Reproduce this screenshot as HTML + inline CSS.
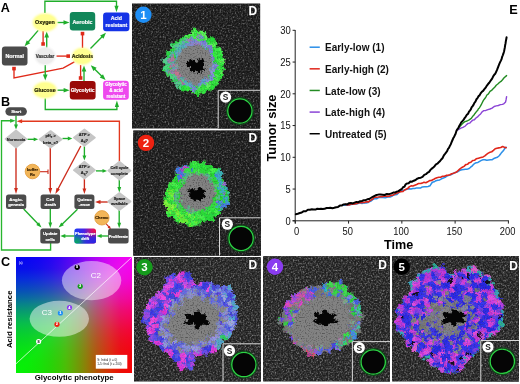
<!DOCTYPE html>
<html><head><meta charset="utf-8"><title>Figure</title>
<style>
html,body{margin:0;padding:0;background:#fff;}
body{width:520px;height:384px;overflow:hidden;position:relative;font-family:"Liberation Sans",Arial,sans-serif;}
svg{position:absolute;left:0;top:0;display:block;}
svg text{font-family:"Liberation Sans",Arial,sans-serif;}
#grad{position:absolute;left:16px;top:257px;width:115.7px;height:115.6px;background:#000;isolation:isolate;overflow:hidden;}
#grad div{position:absolute;left:0;top:0;width:100%;height:100%;}
#grad .r{background:linear-gradient(to right,rgb(5,0,0) 0.0%,rgb(9,0,0) 10.0%,rgb(20,0,0) 20.0%,rgb(38,0,0) 30.0%,rgb(59,0,0) 38.0%,rgb(90,0,0) 47.0%,rgb(118,0,0) 55.0%,rgb(158,0,0) 64.0%,rgb(191,0,0) 73.0%,rgb(220,0,0) 81.5%,rgb(235,0,0) 90.0%,rgb(245,0,0) 100.0%);mix-blend-mode:screen;}
#grad .b{background:linear-gradient(to top,rgb(0,0,5) 0.0%,rgb(0,0,9) 10.0%,rgb(0,0,20) 20.0%,rgb(0,0,38) 30.0%,rgb(0,0,59) 38.0%,rgb(0,0,90) 47.0%,rgb(0,0,118) 55.0%,rgb(0,0,158) 64.0%,rgb(0,0,191) 73.0%,rgb(0,0,220) 81.5%,rgb(0,0,235) 90.0%,rgb(0,0,245) 100.0%);mix-blend-mode:screen;}
#grad .g{isolation:isolate;mix-blend-mode:screen;}
#grad .g1{background:linear-gradient(to right,rgb(0,242,0) 0.0%,rgb(0,237,0) 10.0%,rgb(0,227,0) 20.0%,rgb(0,212,0) 30.0%,rgb(0,199,0) 38.0%,rgb(0,189,0) 43.0%,rgb(0,166,0) 50.0%,rgb(0,148,0) 55.0%,rgb(0,128,0) 60.0%,rgb(0,105,0) 65.0%,rgb(0,84,0) 70.0%,rgb(0,66,0) 75.0%,rgb(0,43,0) 81.5%,rgb(0,15,0) 90.0%,rgb(0,3,0) 100.0%);}
#grad .g2{background:linear-gradient(to top,rgb(0,242,0) 0.0%,rgb(0,237,0) 10.0%,rgb(0,227,0) 20.0%,rgb(0,212,0) 30.0%,rgb(0,199,0) 38.0%,rgb(0,189,0) 43.0%,rgb(0,166,0) 50.0%,rgb(0,148,0) 55.0%,rgb(0,128,0) 60.0%,rgb(0,105,0) 65.0%,rgb(0,84,0) 70.0%,rgb(0,66,0) 75.0%,rgb(0,43,0) 81.5%,rgb(0,15,0) 90.0%,rgb(0,3,0) 100.0%);mix-blend-mode:darken;}
</style></head><body>
<div id="grad"><div class="r"></div><div class="b"></div><div class="g"><div class="g1"></div><div class="g2"></div></div></div>
<svg width="520" height="384" viewBox="0 0 520 384">
<defs>
<filter id="soft" x="-10%" y="-10%" width="120%" height="120%"><feGaussianBlur stdDeviation="0.45"/></filter>
<filter id="glow" x="-20%" y="-20%" width="140%" height="140%"><feGaussianBlur stdDeviation="1.1"/></filter>
<filter id="speckA" x="0" y="0" width="100%" height="100%" color-interpolation-filters="sRGB">
<feTurbulence type="fractalNoise" baseFrequency="0.6" numOctaves="2" seed="4" result="n"/>
<feColorMatrix in="n" type="matrix" values="1 0 0 0 0  1 0 0 0 0  1 0 0 0 0  0 0 0 0 1"/>
<feComponentTransfer><feFuncR type="table" tableValues="0.085 0.085 0.1 0.19 0.38 0.55"/><feFuncG type="table" tableValues="0.085 0.085 0.1 0.19 0.38 0.55"/><feFuncB type="table" tableValues="0.085 0.085 0.1 0.19 0.38 0.55"/></feComponentTransfer>
<feComposite in2="SourceGraphic" operator="in"/>
</filter>
<filter id="speckB" x="0" y="0" width="100%" height="100%" color-interpolation-filters="sRGB">
<feTurbulence type="fractalNoise" baseFrequency="0.6" numOctaves="2" seed="9" result="n"/>
<feColorMatrix in="n" type="matrix" values="1 0 0 0 0  1 0 0 0 0  1 0 0 0 0  0 0 0 0 1"/>
<feComponentTransfer><feFuncR type="table" tableValues="0.11 0.11 0.135 0.25 0.45 0.62"/><feFuncG type="table" tableValues="0.11 0.11 0.135 0.25 0.45 0.62"/><feFuncB type="table" tableValues="0.11 0.11 0.135 0.25 0.45 0.62"/></feComponentTransfer>
<feComposite in2="SourceGraphic" operator="in"/>
</filter>
<filter id="tum" x="-15%" y="-15%" width="130%" height="130%" color-interpolation-filters="sRGB">
<feTurbulence type="fractalNoise" baseFrequency="0.16" numOctaves="2" seed="7" result="w"/>
<feDisplacementMap in="SourceGraphic" in2="w" scale="7" xChannelSelector="R" yChannelSelector="G" result="d0"/>
<feTurbulence type="fractalNoise" baseFrequency="0.55" numOctaves="1" seed="2" result="w2"/>
<feDisplacementMap in="d0" in2="w2" scale="3.2" xChannelSelector="G" yChannelSelector="B" result="d"/>
<feTurbulence type="fractalNoise" baseFrequency="0.7" numOctaves="1" seed="11" result="g"/>
<feColorMatrix in="g" type="matrix" values="1.0 0 0 0 0.5  0 1.0 0 0 0.5  0 0 1.0 0 0.5  0 0 0 0 1" result="g2"/>
<feComposite in="d" in2="g2" operator="arithmetic" k1="1" k2="0" k3="0" k4="0"/>
</filter>
<filter id="tumg" x="-15%" y="-15%" width="130%" height="130%" color-interpolation-filters="sRGB">
<feTurbulence type="fractalNoise" baseFrequency="0.16" numOctaves="2" seed="7" result="w"/>
<feDisplacementMap in="SourceGraphic" in2="w" scale="7" xChannelSelector="R" yChannelSelector="G" result="d0"/>
<feTurbulence type="fractalNoise" baseFrequency="0.55" numOctaves="1" seed="2" result="w2"/>
<feDisplacementMap in="d0" in2="w2" scale="3.2" xChannelSelector="G" yChannelSelector="B" result="d"/>
<feTurbulence type="fractalNoise" baseFrequency="0.75" numOctaves="1" seed="5" result="g"/>
<feColorMatrix in="g" type="matrix" values="1.3 0 0 0 0.36  1.3 0 0 0 0.36  1.3 0 0 0 0.36  0 0 0 0 1" result="g2"/>
<feComposite in="d" in2="g2" operator="arithmetic" k1="1" k2="0" k3="0" k4="0"/>
</filter>
<filter id="corefx" x="-15%" y="-15%" width="130%" height="130%" color-interpolation-filters="sRGB">
<feTurbulence type="fractalNoise" baseFrequency="0.3" numOctaves="2" seed="3" result="w"/>
<feDisplacementMap in="SourceGraphic" in2="w" scale="5" xChannelSelector="R" yChannelSelector="G"/>
</filter>
<linearGradient id="pdrift" x1="0" y1="0" x2="1" y2="0"><stop offset="0" stop-color="#1a3cf5"/><stop offset="0.45" stop-color="#4a22e6"/><stop offset="0.8" stop-color="#d01470"/><stop offset="1" stop-color="#f01048"/></linearGradient>
<radialGradient id="pdrift2" cx="0" cy="1" r="0.75"><stop offset="0" stop-color="#00b050" stop-opacity="1"/><stop offset="0.45" stop-color="#08a070" stop-opacity="0.8"/><stop offset="1" stop-color="#1080a0" stop-opacity="0"/></radialGradient>
<radialGradient id="pdrift3" cx="1" cy="1" r="0.8"><stop offset="0" stop-color="#1c28ec" stop-opacity="1"/><stop offset="0.5" stop-color="#2428ec" stop-opacity="0.85"/><stop offset="1" stop-color="#3020e8" stop-opacity="0"/></radialGradient>
</defs>

<g id="panelA">
<text x="0.80" y="12.00" font-size="12.6" font-weight="bold" fill="#000" text-anchor="start" >A</text>
<polyline points="44.90,13.00 44.90,1.30 116.50,1.30 116.50,7.75" fill="none" stroke="#1fae2a" stroke-width="1.35" stroke-linejoin="miter"/><polygon points="116.50,12.30 114.40,5.80 118.60,5.80" fill="#1fae2a"/>
<polyline points="38.20,30.40 27.34,43.02" fill="none" stroke="#1fae2a" stroke-width="1.35" stroke-linejoin="miter"/><polygon points="24.60,46.20 26.77,40.15 30.26,43.15" fill="#1fae2a"/>
<polyline points="43.10,31.00 43.10,44.00" fill="none" stroke="#e02a1a" stroke-width="1.35" stroke-linejoin="miter"/><rect x="41.30" y="42.20" width="3.6" height="3.6" fill="#e02a1a"/>
<polyline points="46.70,47.50 46.70,35.80" fill="none" stroke="#1fae2a" stroke-width="1.35" stroke-linejoin="miter"/><polygon points="46.70,31.60 49.00,37.60 44.40,37.60" fill="#1fae2a"/>
<polyline points="57.50,22.50 65.30,22.50" fill="none" stroke="#1fae2a" stroke-width="1.35" stroke-linejoin="miter"/><polygon points="69.50,22.50 63.50,24.80 63.50,20.20" fill="#1fae2a"/>
<polyline points="82.50,48.00 82.50,33.60" fill="none" stroke="#e02a1a" stroke-width="1.35" stroke-linejoin="miter"/><rect x="80.70" y="31.80" width="3.6" height="3.6" fill="#e02a1a"/>
<polyline points="90.50,48.50 103.05,35.79" fill="none" stroke="#1fae2a" stroke-width="1.35" stroke-linejoin="miter"/><polygon points="106.00,32.80 103.42,38.69 100.15,35.45" fill="#1fae2a"/>
<polyline points="56.50,56.10 68.20,56.10" fill="none" stroke="#e02a1a" stroke-width="1.35" stroke-linejoin="miter"/><rect x="66.40" y="54.30" width="3.6" height="3.6" fill="#e02a1a"/>
<polyline points="74.40,61.90 63.10,68.10 14.00,78.00 14.00,68.60" fill="none" stroke="#e02a1a" stroke-width="1.35" stroke-linejoin="miter"/><rect x="12.20" y="66.80" width="3.6" height="3.6" fill="#e02a1a"/>
<polyline points="45.25,65.00 45.25,76.40" fill="none" stroke="#1fae2a" stroke-width="1.35" stroke-linejoin="miter"/><polygon points="45.25,80.60 42.95,74.60 47.55,74.60" fill="#1fae2a"/>
<polyline points="80.60,65.00 80.60,78.00" fill="none" stroke="#e02a1a" stroke-width="1.35" stroke-linejoin="miter"/><rect x="78.80" y="76.20" width="3.6" height="3.6" fill="#e02a1a"/>
<polyline points="84.00,81.00 84.00,69.80" fill="none" stroke="#1fae2a" stroke-width="1.35" stroke-linejoin="miter"/><polygon points="84.00,65.60 86.30,71.60 81.70,71.60" fill="#1fae2a"/>
<polygon points="90.80,65.20 96.67,67.82 93.42,71.07" fill="#1fae2a"/><polyline points="93.77,68.17 102.63,77.03" fill="none" stroke="#1fae2a" stroke-width="1.35" stroke-linejoin="miter"/><polygon points="105.60,80.00 99.73,77.38 102.98,74.13" fill="#1fae2a"/>
<polyline points="57.50,90.20 65.40,90.20" fill="none" stroke="#1fae2a" stroke-width="1.35" stroke-linejoin="miter"/><polygon points="69.60,90.20 63.60,92.50 63.60,87.90" fill="#1fae2a"/>
<polyline points="45.25,98.50 45.25,109.50 116.90,109.50 116.90,104.95" fill="none" stroke="#1fae2a" stroke-width="1.35" stroke-linejoin="miter"/><polygon points="116.90,100.40 119.00,106.90 114.80,106.90" fill="#1fae2a"/>
<ellipse cx="45" cy="22.5" rx="12.3" ry="9.3" fill="#ffff8c" filter="url(#glow)"/>
<ellipse cx="45" cy="22.5" rx="10.8" ry="7.800000000000001" fill="#ffff90" filter="url(#soft)"/>
<text x="45.00" y="24.40" font-size="5.4" font-weight="bold" fill="#1a1a00" text-anchor="middle"  stroke="#1a1a00" stroke-width="0.18">Oxygen</text>
<ellipse cx="82.4" cy="56.2" rx="10.4" ry="8.5" fill="#ffff8c" filter="url(#glow)"/>
<ellipse cx="82.4" cy="56.2" rx="8.9" ry="7.0" fill="#ffff90" filter="url(#soft)"/>
<text x="82.40" y="58.10" font-size="5.15" font-weight="bold" fill="#1a1a00" text-anchor="middle"  stroke="#1a1a00" stroke-width="0.18">Acidosis</text>
<ellipse cx="45" cy="90.1" rx="11.8" ry="8.4" fill="#ffff8c" filter="url(#glow)"/>
<ellipse cx="45" cy="90.1" rx="10.3" ry="6.9" fill="#ffff90" filter="url(#soft)"/>
<text x="45.00" y="92.00" font-size="5.4" font-weight="bold" fill="#1a1a00" text-anchor="middle"  stroke="#1a1a00" stroke-width="0.18">Glucose</text>
<ellipse cx="45" cy="56" rx="10.3" ry="9" fill="#ededed" filter="url(#glow)"/>
<ellipse cx="45" cy="56" rx="9" ry="8" fill="#ececec" filter="url(#soft)"/>
<text x="45.00" y="57.70" font-size="4.55" font-weight="bold" fill="#333" text-anchor="middle"  stroke="#333" stroke-width="0.18">Vascular</text>
<rect x="69.80" y="12.00" width="25.40" height="18.60" rx="3" fill="#12875a" />
<text x="82.50" y="23.60" font-size="5.4" font-weight="bold" fill="#fff" text-anchor="middle"  stroke="#fff" stroke-width="0.18">Aerobic</text>
<rect x="103.10" y="12.50" width="26.30" height="18.80" rx="3" fill="#1533e6" />
<text x="116.30" y="19.60" font-size="5.2" font-weight="bold" fill="#fff" text-anchor="middle"  stroke="#fff" stroke-width="0.18">Acid</text>
<text x="116.30" y="26.80" font-size="5.2" font-weight="bold" fill="#fff" text-anchor="middle"  stroke="#fff" stroke-width="0.18">resistant</text>
<rect x="1.90" y="46.60" width="25.60" height="19.00" rx="3" fill="#4b4b4b" />
<text x="14.70" y="58.00" font-size="5.4" font-weight="bold" fill="#fff" text-anchor="middle"  stroke="#fff" stroke-width="0.18">Normal</text>
<rect x="69.80" y="81.00" width="25.80" height="18.50" rx="3" fill="#990a08" />
<text x="82.70" y="92.20" font-size="5.0" font-weight="bold" fill="#fff" text-anchor="middle"  stroke="#fff" stroke-width="0.18">Glycolytic</text>
<rect x="103.10" y="80.80" width="25.70" height="19.00" rx="3" fill="#ee48ee" />
<text x="116.00" y="86.30" font-size="4.5" font-weight="bold" fill="#fff" text-anchor="middle"  stroke="#fff" stroke-width="0.18">Glycolytic</text>
<text x="116.00" y="92.20" font-size="4.5" font-weight="bold" fill="#fff" text-anchor="middle"  stroke="#fff" stroke-width="0.18">&amp; acid</text>
<text x="116.00" y="98.00" font-size="4.5" font-weight="bold" fill="#fff" text-anchor="middle"  stroke="#fff" stroke-width="0.18">resistant</text>
</g>
<g id="panelB">
<text x="1.00" y="105.60" font-size="12.6" font-weight="bold" fill="#000" text-anchor="start" >B</text>
<polyline points="50.60,243.00 50.60,250.00 1.50,250.00 1.50,120.70 11.75,120.70" fill="none" stroke="#27b52e" stroke-width="1.35" stroke-linejoin="miter"/><polygon points="15.60,120.70 10.10,122.70 10.10,118.70" fill="#27b52e"/>
<polyline points="119.40,161.50 119.40,121.20 20.45,121.20" fill="none" stroke="#e2381e" stroke-width="1.35" stroke-linejoin="miter"/><polygon points="16.60,121.20 22.10,119.20 22.10,123.20" fill="#e2381e"/>
<polyline points="16.00,115.50 16.00,125.90" fill="none" stroke="#1fae2a" stroke-width="1.35" stroke-linejoin="miter"/><polygon points="16.00,129.40 14.00,124.40 18.00,124.40" fill="#1fae2a"/>
<polyline points="27.50,139.30 35.05,139.30" fill="none" stroke="#1fae2a" stroke-width="1.35" stroke-linejoin="miter"/><polygon points="38.20,139.30 33.70,141.20 33.70,137.40" fill="#1fae2a"/>
<polyline points="62.50,138.50 69.15,138.50" fill="none" stroke="#1fae2a" stroke-width="1.35" stroke-linejoin="miter"/><polygon points="72.30,138.50 67.80,140.40 67.80,136.60" fill="#1fae2a"/>
<polyline points="16.00,147.50 16.00,189.80" fill="none" stroke="#cc2a1a" stroke-width="1.35" stroke-linejoin="miter"/><polygon points="16.00,194.00 14.10,188.00 17.90,188.00" fill="#cc2a1a"/>
<polyline points="50.30,147.50 50.30,189.80" fill="none" stroke="#cc2a1a" stroke-width="1.35" stroke-linejoin="miter"/><polygon points="50.30,194.00 48.40,188.00 52.20,188.00" fill="#cc2a1a"/>
<polyline points="80.80,146.00 57.36,190.29" fill="none" stroke="#cc2a1a" stroke-width="1.35" stroke-linejoin="miter"/><polygon points="55.40,194.00 56.53,187.81 59.89,189.59" fill="#cc2a1a"/>
<polyline points="84.40,146.30 84.40,157.10" fill="none" stroke="#1fae2a" stroke-width="1.35" stroke-linejoin="miter"/><polygon points="84.40,160.60 82.50,155.60 86.30,155.60" fill="#1fae2a"/>
<polyline points="96.00,170.90 103.85,170.90" fill="none" stroke="#1fae2a" stroke-width="1.35" stroke-linejoin="miter"/><polygon points="107.00,170.90 102.50,172.80 102.50,169.00" fill="#1fae2a"/>
<polyline points="84.40,179.00 84.40,190.15" fill="none" stroke="#cc2a1a" stroke-width="1.35" stroke-linejoin="miter"/><polygon points="84.40,194.00 82.50,188.50 86.30,188.50" fill="#cc2a1a"/>
<polyline points="119.30,179.50 119.30,188.65" fill="none" stroke="#1fae2a" stroke-width="1.35" stroke-linejoin="miter"/><polygon points="119.30,192.50 117.40,187.00 121.20,187.00" fill="#1fae2a"/>
<polyline points="107.80,202.00 98.85,202.00" fill="none" stroke="#cc2a1a" stroke-width="1.35" stroke-linejoin="miter"/><polygon points="95.00,202.00 100.50,200.10 100.50,203.90" fill="#cc2a1a"/>
<polyline points="119.20,210.00 119.20,224.35" fill="none" stroke="#1fae2a" stroke-width="1.35" stroke-linejoin="miter"/><polygon points="119.20,228.20 117.30,222.70 121.10,222.70" fill="#1fae2a"/>
<polyline points="40.00,171.70 48.00,171.70" fill="none" stroke="#cc2a1a" stroke-width="1.1" stroke-linejoin="miter"/>
<polyline points="48.00,169.50 48.00,173.90" fill="none" stroke="#cc2a1a" stroke-width="1.1" stroke-linejoin="miter"/>
<polyline points="106.00,223.60 109.38,227.46" fill="none" stroke="#cc2a1a" stroke-width="1.1" stroke-linejoin="miter"/><polygon points="111.00,229.30 107.56,227.66 109.82,225.68" fill="#cc2a1a"/>
<polyline points="23.70,209.00 38.84,224.82" fill="none" stroke="#1fae2a" stroke-width="1.35" stroke-linejoin="miter"/><polygon points="41.50,227.60 36.32,224.94 39.07,222.31" fill="#1fae2a"/>
<polyline points="50.30,209.00 50.30,224.15" fill="none" stroke="#1fae2a" stroke-width="1.35" stroke-linejoin="miter"/><polygon points="50.30,228.00 48.40,222.50 52.20,222.50" fill="#1fae2a"/>
<polyline points="77.50,209.30 61.37,224.92" fill="none" stroke="#1fae2a" stroke-width="1.35" stroke-linejoin="miter"/><polygon points="58.60,227.60 61.23,222.41 63.87,225.14" fill="#1fae2a"/>
<polyline points="108.20,236.00 100.10,236.00" fill="none" stroke="#1fae2a" stroke-width="1.35" stroke-linejoin="miter"/><polygon points="96.60,236.00 101.60,234.10 101.60,237.90" fill="#1fae2a"/>
<polyline points="74.60,236.00 63.80,236.00" fill="none" stroke="#1fae2a" stroke-width="1.35" stroke-linejoin="miter"/><polygon points="60.30,236.00 65.30,234.10 65.30,237.90" fill="#1fae2a"/>
<rect x="5.40" y="107.20" width="21.50" height="8.60" rx="4.3" fill="#4b4b4b" />
<text x="16.20" y="113.10" font-size="4.4" font-weight="bold" fill="#fff" text-anchor="middle"  stroke="#fff" stroke-width="0.18">Start</text>
<polygon points="5.40,139.00 16.00,130.40 26.60,139.00 16.00,147.60" fill="#c6c6c6" stroke="#c6c6c6" stroke-width="1.6" stroke-linejoin="round" filter="url(#soft)"/>
<text x="16.00" y="140.50" font-size="4.0" font-weight="bold" fill="#222" text-anchor="middle"  stroke="#222" stroke-width="0.18">Normoxia</text>
<polygon points="39.40,139.30 50.60,131.00 61.80,139.30 50.60,147.60" fill="#c6c6c6" stroke="#c6c6c6" stroke-width="1.6" stroke-linejoin="round" filter="url(#soft)"/>
<text x="50.60" y="136.60" font-size="4.0" font-weight="bold" fill="#222" text-anchor="middle"  stroke="#222" stroke-width="0.18">pH<tspan font-size="2.8" dy="1">e</tspan><tspan dy="-1"> &gt;</tspan></text>
<text x="50.60" y="143.80" font-size="4.0" font-weight="bold" fill="#222" text-anchor="middle"  stroke="#222" stroke-width="0.18">beta_x?</text>
<polygon points="73.80,137.60 84.40,129.30 95.00,137.60 84.40,145.90" fill="#c6c6c6" stroke="#c6c6c6" stroke-width="1.6" stroke-linejoin="round" filter="url(#soft)"/>
<text x="84.40" y="135.60" font-size="4.0" font-weight="bold" fill="#222" text-anchor="middle"  stroke="#222" stroke-width="0.18">ATP &gt;</text>
<text x="84.40" y="142.00" font-size="4.0" font-weight="bold" fill="#222" text-anchor="middle"  stroke="#222" stroke-width="0.18">A<tspan font-size="2.8" dy="1">d</tspan><tspan dy="-1">?</tspan></text>
<polygon points="73.80,170.20 84.40,161.70 95.00,170.20 84.40,178.70" fill="#c6c6c6" stroke="#c6c6c6" stroke-width="1.6" stroke-linejoin="round" filter="url(#soft)"/>
<text x="84.40" y="167.60" font-size="4.0" font-weight="bold" fill="#222" text-anchor="middle"  stroke="#222" stroke-width="0.18">ATP &gt;</text>
<text x="84.40" y="174.20" font-size="4.0" font-weight="bold" fill="#222" text-anchor="middle"  stroke="#222" stroke-width="0.18">A<tspan font-size="2.8" dy="1">q</tspan><tspan dy="-1">?</tspan></text>
<polygon points="108.20,170.60 119.40,161.60 130.60,170.60 119.40,179.60" fill="#c6c6c6" stroke="#c6c6c6" stroke-width="1.6" stroke-linejoin="round" filter="url(#soft)"/>
<text x="119.40" y="168.90" font-size="3.9" font-weight="bold" fill="#222" text-anchor="middle"  stroke="#222" stroke-width="0.18">Cell cycle</text>
<text x="119.40" y="174.60" font-size="3.9" font-weight="bold" fill="#222" text-anchor="middle"  stroke="#222" stroke-width="0.18">complete</text>
<polygon points="108.20,201.50 119.40,192.90 130.60,201.50 119.40,210.10" fill="#c6c6c6" stroke="#c6c6c6" stroke-width="1.6" stroke-linejoin="round" filter="url(#soft)"/>
<text x="119.40" y="199.60" font-size="3.9" font-weight="bold" fill="#222" text-anchor="middle"  stroke="#222" stroke-width="0.18">Space</text>
<text x="119.40" y="205.40" font-size="3.9" font-weight="bold" fill="#222" text-anchor="middle"  stroke="#222" stroke-width="0.18">available</text>
<circle cx="32.5" cy="171.5" r="7.3" fill="#f2b558" stroke="#e29a3a" stroke-width="0.8" filter="url(#soft)"/>
<text x="32.50" y="170.70" font-size="3.9" font-weight="bold" fill="#3a2200" text-anchor="middle"  stroke="#3a2200" stroke-width="0.18">buffer</text>
<text x="32.50" y="175.90" font-size="3.9" font-weight="bold" fill="#3a2200" text-anchor="middle"  stroke="#3a2200" stroke-width="0.18">Rx</text>
<circle cx="101.9" cy="217.8" r="7.2" fill="#f2b558" stroke="#e29a3a" stroke-width="0.8" filter="url(#soft)"/>
<text x="101.90" y="219.20" font-size="3.9" font-weight="bold" fill="#3a2200" text-anchor="middle"  stroke="#3a2200" stroke-width="0.18">Chemo</text>
<rect x="6.00" y="194.60" width="20.30" height="14.40" rx="2.5" fill="#4b4b4b" />
<text x="16.15" y="200.70" font-size="4.3" font-weight="bold" fill="#fff" text-anchor="middle"  stroke="#fff" stroke-width="0.18">Angio-</text>
<text x="16.15" y="206.40" font-size="4.3" font-weight="bold" fill="#fff" text-anchor="middle"  stroke="#fff" stroke-width="0.18">genesis</text>
<rect x="40.60" y="194.60" width="19.40" height="14.40" rx="2.5" fill="#4b4b4b" />
<text x="50.30" y="200.70" font-size="4.3" font-weight="bold" fill="#fff" text-anchor="middle"  stroke="#fff" stroke-width="0.18">Cell</text>
<text x="50.30" y="206.40" font-size="4.3" font-weight="bold" fill="#fff" text-anchor="middle"  stroke="#fff" stroke-width="0.18">death</text>
<rect x="74.40" y="194.60" width="20.00" height="14.40" rx="2.5" fill="#4b4b4b" />
<text x="84.40" y="200.70" font-size="4.3" font-weight="bold" fill="#fff" text-anchor="middle"  stroke="#fff" stroke-width="0.18">Quiesc</text>
<text x="84.40" y="206.40" font-size="4.3" font-weight="bold" fill="#fff" text-anchor="middle"  stroke="#fff" stroke-width="0.18">-ence</text>
<rect x="40.30" y="228.50" width="19.70" height="15.00" rx="2.5" fill="#4b4b4b" />
<text x="50.20" y="234.70" font-size="4.3" font-weight="bold" fill="#fff" text-anchor="middle"  stroke="#fff" stroke-width="0.18">Update</text>
<text x="50.20" y="240.50" font-size="4.3" font-weight="bold" fill="#fff" text-anchor="middle"  stroke="#fff" stroke-width="0.18">cells</text>
<rect x="74.40" y="228.50" width="21.60" height="15.00" rx="2.5" fill="url(#pdrift)" />
<rect x="74.40" y="228.50" width="21.60" height="15.00" rx="2.5" fill="url(#pdrift2)" />
<rect x="74.40" y="228.50" width="21.60" height="15.00" rx="2.5" fill="url(#pdrift3)" />
<text x="85.20" y="234.60" font-size="4.0" font-weight="bold" fill="#fff" text-anchor="middle"  stroke="#fff" stroke-width="0.18">Phenotype</text>
<text x="85.20" y="240.30" font-size="4.0" font-weight="bold" fill="#fff" text-anchor="middle"  stroke="#fff" stroke-width="0.18">drift</text>
<rect x="108.10" y="228.50" width="20.50" height="15.00" rx="2.5" fill="#4b4b4b" />
<text x="118.40" y="237.60" font-size="3.9" font-weight="bold" fill="#fff" text-anchor="middle"  stroke="#fff" stroke-width="0.18">Proliferate</text>
</g>
<g id="panelC">
<text x="0.90" y="265.70" font-size="12.6" font-weight="bold" fill="#000" text-anchor="start" >C</text>
<line x1="16" y1="363.8" x2="131.7" y2="257.4" stroke="#fff" stroke-width="0.55" opacity="0.85"/>
<ellipse cx="91.6" cy="280.6" rx="29.7" ry="19.6" fill="#fff" opacity="0.46"/>
<ellipse cx="59.3" cy="318.8" rx="29.7" ry="18" fill="#fff" opacity="0.48"/>
<line x1="16" y1="363.8" x2="131.7" y2="257.4" stroke="#fff" stroke-width="0.45" opacity="0.8"/>
<text x="95.80" y="278.00" font-size="8" font-weight="normal" fill="#fff" text-anchor="middle" >C2</text>
<text x="46.80" y="314.60" font-size="8" font-weight="normal" fill="#fff" text-anchor="middle" >C3</text>
<text x="20.60" y="263.60" font-size="3.2" font-weight="normal" fill="#fff" text-anchor="middle" >(a)</text>
<circle cx="77.2" cy="267.3" r="2.6" fill="#000"/>
<text x="77.20" y="268.40" font-size="3.2" font-weight="bold" fill="#fff" text-anchor="middle"  stroke="#fff" stroke-width="0.18">5</text>
<circle cx="80.2" cy="286.3" r="2.6" fill="#159a1c"/>
<text x="80.20" y="287.40" font-size="3.2" font-weight="bold" fill="#fff" text-anchor="middle"  stroke="#fff" stroke-width="0.18">3</text>
<circle cx="69.5" cy="307.5" r="2.6" fill="#8a3cf0"/>
<text x="69.50" y="308.60" font-size="3.2" font-weight="bold" fill="#fff" text-anchor="middle"  stroke="#fff" stroke-width="0.18">4</text>
<circle cx="60.4" cy="313" r="2.6" fill="#1e8ef5"/>
<text x="60.40" y="314.10" font-size="3.2" font-weight="bold" fill="#fff" text-anchor="middle"  stroke="#fff" stroke-width="0.18">1</text>
<circle cx="57" cy="324.3" r="2.6" fill="#ee2211"/>
<text x="57.00" y="325.40" font-size="3.2" font-weight="bold" fill="#fff" text-anchor="middle"  stroke="#fff" stroke-width="0.18">2</text>
<circle cx="38.6" cy="341.5" r="2.6" fill="#fff"/>
<text x="38.60" y="342.60" font-size="3.2" font-weight="bold" fill="#333" text-anchor="middle"  stroke="#333" stroke-width="0.18">S</text>
<rect x="95.8" y="354.9" width="31.5" height="13.8" fill="#fff"/>
<text x="97.30" y="360.60" font-size="3.1" font-weight="normal" fill="#222" text-anchor="start" >S: Initial (t = 0)</text>
<text x="97.30" y="365.30" font-size="3.1" font-weight="normal" fill="#222" text-anchor="start" >1-5: final (t = 200)</text>
<text x="74.20" y="379.80" font-size="7.8" font-weight="bold" fill="#000" text-anchor="middle" >Glycolytic phenotype</text>
<text transform="translate(12.4,319.3) rotate(-90)" font-size="7.8" font-weight="bold" text-anchor="middle">Acid resistance</text>
</g>
<g id="panelE">
<text x="509.20" y="14.20" font-size="12.7" font-weight="bold" fill="#000" text-anchor="start" >E</text>
<line x1="295.2" y1="30" x2="295.2" y2="223.5" stroke="#222" stroke-width="1"/>
<line x1="292.6" y1="220.8" x2="508.9" y2="220.8" stroke="#222" stroke-width="1"/>
<line x1="292.6" y1="220.80" x2="295.2" y2="220.80" stroke="#222" stroke-width="1"/>
<text x="290.70" y="224.50" font-size="10" font-weight="normal" fill="#111" text-anchor="end" textLength="5.2" lengthAdjust="spacingAndGlyphs">0</text>
<line x1="292.6" y1="189.05" x2="295.2" y2="189.05" stroke="#222" stroke-width="1"/>
<text x="290.70" y="192.75" font-size="10" font-weight="normal" fill="#111" text-anchor="end" textLength="5.2" lengthAdjust="spacingAndGlyphs">5</text>
<line x1="292.6" y1="157.30" x2="295.2" y2="157.30" stroke="#222" stroke-width="1"/>
<text x="290.70" y="161.00" font-size="10" font-weight="normal" fill="#111" text-anchor="end" textLength="10.5" lengthAdjust="spacingAndGlyphs">10</text>
<line x1="292.6" y1="125.55" x2="295.2" y2="125.55" stroke="#222" stroke-width="1"/>
<text x="290.70" y="129.25" font-size="10" font-weight="normal" fill="#111" text-anchor="end" textLength="10.5" lengthAdjust="spacingAndGlyphs">15</text>
<line x1="292.6" y1="93.80" x2="295.2" y2="93.80" stroke="#222" stroke-width="1"/>
<text x="290.70" y="97.50" font-size="10" font-weight="normal" fill="#111" text-anchor="end" textLength="10.5" lengthAdjust="spacingAndGlyphs">20</text>
<line x1="292.6" y1="62.05" x2="295.2" y2="62.05" stroke="#222" stroke-width="1"/>
<text x="290.70" y="65.75" font-size="10" font-weight="normal" fill="#111" text-anchor="end" textLength="10.5" lengthAdjust="spacingAndGlyphs">25</text>
<line x1="292.6" y1="30.30" x2="295.2" y2="30.30" stroke="#222" stroke-width="1"/>
<text x="290.70" y="34.00" font-size="10" font-weight="normal" fill="#111" text-anchor="end" textLength="10.5" lengthAdjust="spacingAndGlyphs">30</text>
<line x1="295.30" y1="220.8" x2="295.30" y2="223.6" stroke="#222" stroke-width="1"/>
<text x="296.50" y="235.00" font-size="10" font-weight="normal" fill="#111" text-anchor="middle" textLength="5.2" lengthAdjust="spacingAndGlyphs">0</text>
<line x1="348.57" y1="220.8" x2="348.57" y2="223.6" stroke="#222" stroke-width="1"/>
<text x="347.77" y="235.00" font-size="10" font-weight="normal" fill="#111" text-anchor="middle" textLength="10.4" lengthAdjust="spacingAndGlyphs">50</text>
<line x1="401.85" y1="220.8" x2="401.85" y2="223.6" stroke="#222" stroke-width="1"/>
<text x="401.05" y="235.00" font-size="10" font-weight="normal" fill="#111" text-anchor="middle" textLength="15.6" lengthAdjust="spacingAndGlyphs">100</text>
<line x1="455.12" y1="220.8" x2="455.12" y2="223.6" stroke="#222" stroke-width="1"/>
<text x="454.32" y="235.00" font-size="10" font-weight="normal" fill="#111" text-anchor="middle" textLength="15.6" lengthAdjust="spacingAndGlyphs">150</text>
<line x1="508.40" y1="220.8" x2="508.40" y2="223.6" stroke="#222" stroke-width="1"/>
<text x="507.60" y="235.00" font-size="10" font-weight="normal" fill="#111" text-anchor="middle" textLength="15.6" lengthAdjust="spacingAndGlyphs">200</text>
<text x="398.70" y="248.50" font-size="13.6" font-weight="bold" fill="#000" text-anchor="middle" textLength="29.2" lengthAdjust="spacingAndGlyphs">Time</text>
<text transform="translate(276,128) rotate(-90)" font-size="12.9" font-weight="bold" text-anchor="middle">Tumor size</text>
<line x1="309.6" y1="47.20" x2="319.8" y2="47.20" stroke="#2b8fe8" stroke-width="1.5"/>
<text x="325.00" y="51.30" font-size="10" font-weight="bold" fill="#111" text-anchor="start" >Early-low (1)</text>
<line x1="309.6" y1="68.83" x2="319.8" y2="68.83" stroke="#e0261a" stroke-width="1.5"/>
<text x="325.00" y="72.93" font-size="10" font-weight="bold" fill="#111" text-anchor="start" >Early-high (2)</text>
<line x1="309.6" y1="90.46" x2="319.8" y2="90.46" stroke="#238b23" stroke-width="1.5"/>
<text x="325.00" y="94.56" font-size="10" font-weight="bold" fill="#111" text-anchor="start" >Late-low (3)</text>
<line x1="309.6" y1="112.09" x2="319.8" y2="112.09" stroke="#8b45d6" stroke-width="1.5"/>
<text x="325.00" y="116.19" font-size="10" font-weight="bold" fill="#111" text-anchor="start" >Late-high (4)</text>
<line x1="309.6" y1="133.72" x2="319.8" y2="133.72" stroke="#000" stroke-width="1.5"/>
<text x="325.00" y="137.82" font-size="10" font-weight="bold" fill="#111" text-anchor="start" >Untreated (5)</text>
<polyline points="343.00,205.00 345.00,205.35 347.00,205.22 349.00,204.90 350.80,204.61 352.60,204.28 354.40,204.23 356.20,204.10 358.00,203.50 360.00,202.78 362.00,203.47 364.00,202.83 366.00,202.99 368.00,202.50 369.75,201.44 371.50,200.74 373.25,199.20 375.00,198.50 377.00,198.69 379.00,197.48 381.00,197.23 383.00,197.50 385.33,197.82 387.67,197.04 390.00,197.00 391.75,196.29 393.50,195.23 395.25,194.82 397.00,194.50 398.50,193.05 400.00,191.60 401.84,190.74 403.68,190.17 405.52,189.88 407.36,189.13 409.20,188.80 411.06,189.03 412.92,188.58 414.78,188.54 416.64,187.89 418.50,188.10 420.42,188.11 422.33,186.92 424.25,186.77 426.17,186.81 428.08,186.42 430.00,185.80 431.15,183.96 432.30,182.30 434.14,181.79 435.98,180.68 437.82,180.30 439.66,179.92 441.50,178.80 443.36,178.03 445.22,177.34 447.08,175.95 448.94,175.40 450.80,174.90 452.64,173.89 454.48,172.70 456.32,172.19 458.16,171.44 460.00,170.30 461.84,169.80 463.68,169.51 465.52,169.23 467.36,169.17 469.20,168.50 470.60,167.22 472.00,166.17 473.40,164.50 474.80,163.36 476.20,162.70 477.93,162.48 479.65,161.30 481.38,160.33 483.10,159.70 484.94,159.70 486.78,160.23 488.62,160.00 490.46,159.74 492.30,159.70 494.02,158.43 495.75,157.77 497.48,157.27 499.20,155.80 500.35,154.31 501.50,152.65 502.65,151.50 503.80,150.00 505.00,148.06 506.20,147.20" fill="none" stroke="#2b8fe8" stroke-width="1.5" stroke-linejoin="round" stroke-linecap="round"/>
<polyline points="345.40,204.40 347.70,204.99 350.00,204.60 351.84,203.78 353.68,204.25 355.52,203.78 357.36,203.35 359.20,202.80 361.06,202.74 362.92,202.56 364.78,202.35 366.64,201.70 368.50,201.90 369.93,200.63 371.35,199.85 372.77,198.99 374.20,197.30 376.23,197.22 378.25,196.99 380.27,196.67 382.30,196.80 384.60,196.08 386.90,196.36 389.20,196.20 390.95,195.37 392.70,195.23 394.45,194.13 396.20,193.40 398.47,192.48 400.73,191.61 403.00,191.50 404.55,189.95 406.10,189.21 407.65,188.60 409.20,186.90 411.06,185.87 412.92,185.97 414.78,185.19 416.64,184.44 418.50,183.50 420.34,183.45 422.18,183.14 424.02,182.32 425.86,182.67 427.70,181.80 429.54,180.61 431.38,180.44 433.22,179.58 435.06,178.48 436.90,177.70 438.76,177.23 440.62,177.25 442.48,176.32 444.34,176.22 446.20,175.40 448.04,175.26 449.88,174.72 451.72,173.68 453.56,173.23 455.40,172.60 457.12,171.52 458.85,169.94 460.57,168.32 462.30,167.30 464.02,166.37 465.75,164.63 467.48,164.30 469.20,162.70 470.95,162.18 472.70,160.54 474.45,160.28 476.20,158.80 478.50,158.17 480.80,157.55 483.10,156.90 484.83,155.85 486.55,154.39 488.27,153.13 490.00,152.30 491.73,151.75 493.45,150.39 495.17,148.76 496.90,148.20 498.83,147.88 500.77,147.52 502.70,146.50 504.45,147.37 506.20,147.70" fill="none" stroke="#e0261a" stroke-width="1.6" stroke-linejoin="round" stroke-linecap="round"/>
<polyline points="457.50,130.00 458.75,129.40 460.83,128.21 462.92,127.41 465.00,126.25 466.56,124.61 468.12,123.39 469.69,123.13 471.25,121.60 472.81,120.13 474.38,119.80 475.94,118.04 477.50,116.90 479.06,115.30 480.62,113.90 482.19,111.79 483.75,110.60 485.83,110.47 487.92,109.56 490.00,109.00 492.08,108.16 494.17,106.45 496.25,105.90 498.33,105.50 500.42,104.68 502.50,104.40 504.05,103.55 505.60,101.90 506.10,99.49 506.60,96.60" fill="none" stroke="#8b45d6" stroke-width="1.4" stroke-linejoin="round" stroke-linecap="round"/>
<polyline points="457.50,129.50 458.75,127.80 460.31,126.14 461.88,124.32 463.44,122.67 465.00,121.60 467.08,120.99 469.17,119.80 471.25,118.40 472.50,116.53 473.75,115.32 475.00,113.47 476.25,111.80 477.50,110.60 478.44,108.73 479.38,107.95 480.32,106.28 481.26,104.70 482.20,102.80 483.14,100.90 484.08,99.47 485.02,98.26 485.96,96.82 486.90,95.00 488.45,93.86 490.00,91.42 491.55,90.43 493.10,88.75 494.68,87.19 496.25,85.27 497.82,84.03 499.40,82.50 500.97,81.41 502.53,79.77 504.10,77.80 506.60,75.60" fill="none" stroke="#238b23" stroke-width="1.4" stroke-linejoin="round" stroke-linecap="round"/>
<polyline points="295.80,214.20 297.80,213.72 299.80,213.02 301.80,212.44 303.80,211.20 305.82,211.19 307.85,209.73 309.88,209.74 311.90,209.30 313.71,209.39 315.53,209.60 317.34,208.66 319.16,208.98 320.97,208.66 322.79,208.92 324.60,208.80 326.53,208.00 328.47,207.96 330.40,207.76 332.33,208.19 334.27,207.76 336.20,207.20 338.04,206.93 339.88,205.60 341.72,205.53 343.56,204.39 345.40,204.20 347.24,204.29 349.08,203.24 350.92,202.93 352.76,203.45 354.60,202.60 356.44,201.91 358.28,202.19 360.12,201.26 361.96,200.96 363.80,200.30 365.55,200.21 367.30,199.36 369.05,199.09 370.80,198.00 372.70,196.78 374.60,195.85 376.50,195.00 378.52,194.61 380.55,194.52 382.58,194.78 384.60,195.00 386.90,193.92 389.20,194.13 391.50,193.40 393.25,192.62 395.00,192.60 396.75,191.65 398.50,191.10 400.25,189.93 402.00,188.80 403.23,186.99 404.45,186.67 405.67,184.30 406.90,183.50 408.62,183.18 410.35,181.57 412.07,181.72 413.80,180.70 415.55,180.04 417.30,178.66 419.05,177.95 420.80,177.70 422.52,176.93 424.25,174.82 425.98,174.16 427.70,172.60 429.08,171.81 430.46,169.87 431.84,168.60 433.22,167.51 434.60,166.20 435.98,164.37 437.36,163.67 438.74,162.33 440.12,161.00 441.50,159.20 442.68,157.97 443.85,155.30 445.02,153.85 446.20,152.30 447.12,151.14 448.04,148.88 448.96,147.91 449.88,145.87 450.80,144.20 451.60,142.20 452.40,140.25 453.20,138.34 454.00,137.00 454.80,135.31 455.60,133.75 456.40,130.93 457.20,129.40 458.14,128.38 459.08,126.32 460.02,124.62 460.96,122.87 461.90,121.60 463.14,120.39 464.38,118.41 465.62,116.80 466.86,114.83 468.10,113.75 469.00,111.67 469.90,110.61 470.80,109.43 471.70,107.09 472.60,106.18 473.50,104.86 474.40,102.80 475.43,101.55 476.47,99.23 477.50,98.03 478.53,96.15 479.57,95.35 480.60,93.40 481.86,91.79 483.12,90.83 484.38,89.11 485.64,87.68 486.90,85.60 488.07,84.04 489.25,82.75 490.43,80.93 491.60,79.40 492.53,77.73 493.46,75.89 494.39,74.58 495.32,73.70 496.25,71.60 497.02,69.91 497.80,67.93 498.57,65.92 499.35,63.81 500.12,62.18 500.90,60.60 501.54,59.13 502.18,56.71 502.82,55.30 503.46,53.42 504.10,51.25 504.46,49.42 504.81,47.52 505.17,45.08 505.53,43.45 505.89,40.97 506.24,39.19 506.60,37.20" fill="none" stroke="#000" stroke-width="2.0" stroke-linejoin="round" stroke-linecap="round"/>
</g>
<g id="panelD1">
<rect x="132" y="3.7" width="128.10" height="124.60" fill="#141414"/>
<rect x="132" y="3.7" width="128.10" height="124.60" fill="#fff" filter="url(#speckA)"/>
<g filter="url(#tum)">
<polygon points="194.7,30.7 204.1,33.5 212.5,39.1 218.1,46.6 221.9,56.0 223.8,69.1 220.0,80.4 212.5,89.8 204.1,91.6 195.6,92.6 186.2,90.7 178.8,86.0 171.2,79.4 165.6,72.9 163.8,65.4 166.6,54.1 173.1,44.8 180.6,38.2 188.1,34.4" fill="#2fd83a"/>
<circle cx="219.2" cy="59.5" r="2.4" fill="#40ea4c"/><circle cx="175.1" cy="80.5" r="2.1" fill="#30d848"/><circle cx="212.3" cy="73.6" r="2.0" fill="#7f8fd6"/><circle cx="208.1" cy="70.9" r="1.2" fill="#8f94b8"/><circle cx="195.5" cy="34.4" r="2.0" fill="#a878c0"/><circle cx="210.4" cy="50.9" r="2.4" fill="#7a7fd0"/><circle cx="191.2" cy="47.9" r="2.6" fill="#8f94b8"/><circle cx="214.2" cy="74.5" r="2.3" fill="#6f9ad0"/><circle cx="194.5" cy="32.5" r="2.3" fill="#40ea4c"/><circle cx="187.8" cy="83.1" r="1.3" fill="#7a8ad6"/><circle cx="166.9" cy="53.9" r="1.8" fill="#30d848"/><circle cx="197.7" cy="43.0" r="1.7" fill="#8a86cf"/><circle cx="188.4" cy="87.8" r="1.2" fill="#5aa8c8"/><circle cx="204.7" cy="42.4" r="1.5" fill="#7a7fd0"/><circle cx="207.7" cy="38.8" r="1.7" fill="#60f45a"/><circle cx="222.2" cy="67.4" r="1.5" fill="#34ec40"/><circle cx="187.4" cy="83.6" r="1.3" fill="#5aa8c8"/><circle cx="172.5" cy="58.0" r="2.3" fill="#b07a98"/><circle cx="183.5" cy="49.0" r="1.3" fill="#4fb8a8"/><circle cx="176.3" cy="70.1" r="2.0" fill="#b07a98"/><circle cx="221.3" cy="60.6" r="1.4" fill="#40ea4c"/><circle cx="182.4" cy="44.8" r="1.4" fill="#58b0c0"/><circle cx="192.7" cy="35.6" r="1.3" fill="#9a80c8"/><circle cx="206.0" cy="46.6" r="1.9" fill="#7a7fd0"/><circle cx="195.0" cy="88.2" r="1.5" fill="#26dc38"/><circle cx="197.3" cy="83.5" r="1.6" fill="#5aa8c8"/><circle cx="190.5" cy="34.4" r="1.6" fill="#26dc38"/><circle cx="195.6" cy="90.9" r="1.7" fill="#34ec40"/><circle cx="198.8" cy="39.4" r="2.5" fill="#9a80c8"/><circle cx="199.7" cy="35.3" r="2.2" fill="#34ec40"/><circle cx="168.3" cy="64.5" r="2.3" fill="#35c86a"/><circle cx="218.7" cy="52.5" r="1.9" fill="#60f45a"/><circle cx="193.7" cy="31.6" r="1.7" fill="#60f45a"/><circle cx="168.6" cy="70.3" r="2.2" fill="#30d848"/><circle cx="187.1" cy="76.2" r="1.8" fill="#8f94b8"/><circle cx="217.5" cy="53.5" r="2.1" fill="#26dc38"/><circle cx="218.1" cy="71.6" r="1.9" fill="#38e242"/><circle cx="178.2" cy="55.8" r="1.5" fill="#6aa8b8"/><circle cx="189.6" cy="80.6" r="2.4" fill="#56b8b0"/><circle cx="182.7" cy="39.1" r="1.7" fill="#30d848"/><circle cx="192.0" cy="88.0" r="2.1" fill="#38e242"/><circle cx="190.9" cy="35.3" r="1.6" fill="#34ec40"/><circle cx="180.6" cy="52.6" r="2.1" fill="#4fb8a8"/><circle cx="188.1" cy="42.5" r="1.5" fill="#8a86cf"/><circle cx="204.8" cy="43.0" r="1.6" fill="#909ad8"/><circle cx="206.6" cy="77.4" r="2.2" fill="#8f94b8"/><circle cx="174.5" cy="47.6" r="2.0" fill="#4ad880"/><circle cx="220.6" cy="61.7" r="1.8" fill="#26dc38"/><circle cx="211.3" cy="86.8" r="1.8" fill="#34ec40"/><circle cx="217.3" cy="54.7" r="1.8" fill="#38e242"/><circle cx="201.3" cy="87.0" r="2.0" fill="#38e242"/><circle cx="212.9" cy="51.9" r="2.1" fill="#6f9ad0"/><circle cx="176.0" cy="75.4" r="1.5" fill="#b07a98"/><circle cx="222.4" cy="63.9" r="1.6" fill="#4af04e"/><circle cx="194.0" cy="33.0" r="2.0" fill="#4af04e"/><circle cx="209.8" cy="60.9" r="1.5" fill="#828282"/><circle cx="215.8" cy="57.3" r="1.4" fill="#34ec40"/><circle cx="183.9" cy="79.5" r="1.9" fill="#c07890"/><circle cx="190.2" cy="85.2" r="2.3" fill="#5aa8c8"/><circle cx="213.6" cy="65.5" r="1.9" fill="#8a86cf"/><circle cx="214.4" cy="65.4" r="2.1" fill="#6f9ad0"/><circle cx="172.2" cy="64.4" r="2.0" fill="#9a88b0"/><circle cx="175.8" cy="63.9" r="1.2" fill="#6ab898"/><circle cx="196.4" cy="91.9" r="1.9" fill="#34ec40"/><circle cx="205.2" cy="34.8" r="1.8" fill="#40ea4c"/><circle cx="219.0" cy="80.2" r="1.6" fill="#38e242"/><circle cx="192.1" cy="38.6" r="1.9" fill="#7a90d0"/><circle cx="170.3" cy="56.7" r="1.4" fill="#6aa8b8"/><circle cx="175.4" cy="44.8" r="1.7" fill="#4ad880"/><circle cx="170.0" cy="75.9" r="2.4" fill="#3fd05a"/><circle cx="205.8" cy="85.1" r="1.7" fill="#34ec40"/><circle cx="195.5" cy="83.4" r="1.5" fill="#56b8b0"/><circle cx="208.2" cy="80.9" r="1.6" fill="#8a86cf"/><circle cx="182.6" cy="87.8" r="2.3" fill="#35c86a"/><circle cx="169.0" cy="54.7" r="2.4" fill="#30d848"/><circle cx="189.0" cy="79.6" r="1.5" fill="#7c7c7c"/><circle cx="201.4" cy="80.1" r="1.5" fill="#828282"/><circle cx="204.7" cy="87.1" r="1.4" fill="#4af04e"/><circle cx="197.9" cy="39.8" r="1.4" fill="#a878c0"/><circle cx="180.7" cy="72.4" r="1.3" fill="#8f94b8"/><circle cx="220.8" cy="59.3" r="1.7" fill="#34ec40"/><circle cx="214.4" cy="41.9" r="1.7" fill="#38e242"/><circle cx="186.0" cy="87.8" r="1.4" fill="#40ea4c"/><circle cx="194.5" cy="31.7" r="2.3" fill="#34ec40"/><circle cx="206.0" cy="84.0" r="2.0" fill="#7a8ad6"/><circle cx="175.2" cy="66.9" r="2.3" fill="#9a88b0"/><circle cx="208.4" cy="78.9" r="1.4" fill="#909ad8"/><circle cx="174.6" cy="43.5" r="1.3" fill="#35c86a"/><circle cx="203.7" cy="51.6" r="1.8" fill="#8aa0a8"/><circle cx="178.0" cy="58.2" r="1.3" fill="#8f94b8"/><circle cx="175.5" cy="54.0" r="1.6" fill="#4fb8a8"/><circle cx="180.3" cy="51.8" r="2.6" fill="#7a9ac8"/><circle cx="197.8" cy="92.3" r="1.8" fill="#60f45a"/><circle cx="203.9" cy="89.8" r="2.5" fill="#38e242"/><circle cx="173.3" cy="59.9" r="2.4" fill="#c07890"/><circle cx="180.8" cy="55.4" r="1.7" fill="#8a8a8a"/><circle cx="180.9" cy="71.3" r="2.5" fill="#8f94b8"/><circle cx="203.6" cy="77.0" r="1.2" fill="#828282"/><circle cx="173.1" cy="77.4" r="1.3" fill="#30d848"/><circle cx="182.7" cy="55.3" r="2.6" fill="#8f94b8"/><circle cx="218.1" cy="57.3" r="1.6" fill="#38e242"/><circle cx="188.8" cy="38.0" r="1.9" fill="#4af04e"/><circle cx="171.2" cy="58.1" r="2.0" fill="#58b0a8"/><circle cx="185.6" cy="76.7" r="2.5" fill="#7c7c7c"/><circle cx="207.8" cy="45.5" r="1.9" fill="#7f8fd6"/><circle cx="214.5" cy="47.7" r="2.2" fill="#40ea4c"/><circle cx="201.7" cy="77.3" r="2.5" fill="#7c7c7c"/><circle cx="175.5" cy="73.0" r="1.2" fill="#b07a98"/><circle cx="180.4" cy="77.5" r="2.0" fill="#c07890"/><circle cx="192.5" cy="43.7" r="1.9" fill="#8a86cf"/><circle cx="211.9" cy="58.4" r="2.4" fill="#7a7fd0"/><circle cx="209.9" cy="58.2" r="1.6" fill="#8aa0a8"/><circle cx="212.3" cy="53.5" r="1.7" fill="#7a7fd0"/><circle cx="219.0" cy="57.2" r="2.0" fill="#4af04e"/><circle cx="197.8" cy="81.2" r="1.6" fill="#7a8ad6"/><circle cx="176.5" cy="71.7" r="2.2" fill="#b07a98"/><circle cx="193.4" cy="78.0" r="1.6" fill="#8a8a8a"/><circle cx="172.3" cy="52.8" r="2.5" fill="#4ad880"/><circle cx="199.4" cy="86.6" r="1.8" fill="#6f9ad0"/><circle cx="211.9" cy="49.6" r="1.5" fill="#6f9ad0"/><circle cx="194.7" cy="35.9" r="1.7" fill="#34ec40"/><circle cx="175.4" cy="65.6" r="2.0" fill="#58b0a8"/><circle cx="213.9" cy="65.5" r="1.3" fill="#8a86cf"/><circle cx="191.0" cy="83.6" r="1.5" fill="#5aa8c8"/><circle cx="214.3" cy="56.9" r="2.0" fill="#7a7fd0"/><circle cx="168.7" cy="76.3" r="1.3" fill="#4ad880"/><circle cx="201.8" cy="39.6" r="2.3" fill="#60f45a"/><circle cx="193.1" cy="86.9" r="1.8" fill="#7a8ad6"/><circle cx="206.2" cy="87.3" r="2.3" fill="#38e242"/><circle cx="169.1" cy="59.5" r="1.9" fill="#b07a98"/><circle cx="206.4" cy="80.4" r="2.5" fill="#909ad8"/><circle cx="173.5" cy="70.0" r="1.6" fill="#c07890"/><circle cx="180.2" cy="85.5" r="1.6" fill="#30d848"/><circle cx="170.6" cy="70.8" r="2.5" fill="#35c86a"/><circle cx="192.6" cy="80.2" r="1.4" fill="#8a8a8a"/><circle cx="174.8" cy="44.2" r="2.0" fill="#35c86a"/><circle cx="190.3" cy="86.1" r="2.1" fill="#6f9ad0"/><circle cx="220.3" cy="64.8" r="1.9" fill="#4af04e"/><circle cx="187.9" cy="89.9" r="2.0" fill="#60f45a"/><circle cx="221.2" cy="60.6" r="1.8" fill="#26dc38"/><circle cx="211.4" cy="78.6" r="2.1" fill="#7f8fd6"/><circle cx="211.6" cy="74.9" r="2.4" fill="#7a7fd0"/><circle cx="188.7" cy="78.5" r="1.6" fill="#7c7c7c"/><circle cx="215.9" cy="62.6" r="1.6" fill="#7a7fd0"/><circle cx="195.8" cy="40.0" r="1.2" fill="#a878c0"/><circle cx="213.0" cy="83.1" r="1.3" fill="#26dc38"/><circle cx="179.9" cy="75.1" r="2.4" fill="#b07a98"/><circle cx="205.4" cy="35.8" r="2.0" fill="#60f45a"/><circle cx="215.2" cy="49.5" r="1.8" fill="#26dc38"/><circle cx="213.3" cy="43.6" r="1.8" fill="#40ea4c"/><circle cx="193.4" cy="89.3" r="1.6" fill="#4af04e"/><circle cx="172.2" cy="72.0" r="2.1" fill="#b07a98"/><circle cx="206.4" cy="45.4" r="1.4" fill="#7a7fd0"/><circle cx="210.1" cy="83.7" r="1.5" fill="#60f45a"/><circle cx="200.7" cy="48.7" r="2.5" fill="#767676"/><circle cx="208.7" cy="89.8" r="2.0" fill="#38e242"/><circle cx="186.3" cy="37.5" r="2.5" fill="#4af04e"/><circle cx="183.6" cy="81.9" r="1.3" fill="#b07a98"/><circle cx="201.1" cy="38.8" r="1.5" fill="#a878c0"/><circle cx="187.9" cy="82.5" r="1.3" fill="#5aa8c8"/><circle cx="189.8" cy="78.4" r="2.5" fill="#8a8a8a"/><circle cx="202.6" cy="78.2" r="1.7" fill="#8aa0a8"/><circle cx="211.1" cy="71.6" r="1.9" fill="#7a7fd0"/><circle cx="179.4" cy="42.4" r="2.1" fill="#4ad880"/><circle cx="170.1" cy="54.1" r="2.4" fill="#6aa8b8"/><circle cx="200.4" cy="40.5" r="2.0" fill="#8a86cf"/><circle cx="172.3" cy="74.9" r="2.6" fill="#58c890"/><circle cx="206.2" cy="88.6" r="2.5" fill="#40ea4c"/><circle cx="201.4" cy="42.9" r="1.4" fill="#7f8fd6"/><circle cx="216.1" cy="47.2" r="1.8" fill="#34ec40"/><circle cx="207.5" cy="45.5" r="2.0" fill="#7a7fd0"/><circle cx="199.8" cy="38.3" r="2.2" fill="#4af04e"/><circle cx="185.6" cy="77.6" r="2.4" fill="#9a88b0"/><circle cx="174.9" cy="64.6" r="1.8" fill="#b07a98"/><circle cx="188.0" cy="79.2" r="1.6" fill="#56b8b0"/><circle cx="204.0" cy="76.4" r="2.1" fill="#767676"/><circle cx="202.2" cy="77.9" r="1.5" fill="#7c7c7c"/><circle cx="191.8" cy="39.6" r="1.4" fill="#7a90d0"/><circle cx="194.9" cy="47.0" r="2.5" fill="#8f94b8"/><circle cx="207.0" cy="79.4" r="2.5" fill="#909ad8"/><circle cx="205.1" cy="77.6" r="1.9" fill="#8a8a8a"/><circle cx="215.1" cy="56.0" r="1.4" fill="#909ad8"/><circle cx="218.2" cy="49.0" r="2.5" fill="#40ea4c"/><circle cx="208.9" cy="49.6" r="2.4" fill="#7a7fd0"/><circle cx="178.4" cy="83.0" r="1.9" fill="#35c86a"/><circle cx="178.1" cy="49.7" r="2.5" fill="#7a9ac8"/><circle cx="207.6" cy="84.6" r="2.4" fill="#4af04e"/><circle cx="189.0" cy="80.5" r="2.1" fill="#56b8b0"/><circle cx="189.0" cy="38.3" r="1.4" fill="#a878c0"/><circle cx="196.0" cy="89.6" r="2.2" fill="#56b8b0"/><circle cx="195.6" cy="39.4" r="1.3" fill="#a878c0"/><circle cx="192.1" cy="43.5" r="2.4" fill="#8a86cf"/><circle cx="205.3" cy="34.3" r="2.4" fill="#4af04e"/><circle cx="201.7" cy="42.6" r="2.1" fill="#7f8fd6"/><circle cx="182.1" cy="81.3" r="2.4" fill="#4ad880"/><circle cx="206.5" cy="39.0" r="2.5" fill="#60f45a"/><circle cx="210.5" cy="56.4" r="1.5" fill="#8a86cf"/><circle cx="182.2" cy="74.7" r="1.6" fill="#c07890"/><circle cx="181.5" cy="47.6" r="2.0" fill="#4fb8a8"/><circle cx="177.5" cy="49.3" r="1.6" fill="#35c86a"/><circle cx="202.1" cy="36.3" r="1.8" fill="#34ec40"/><circle cx="166.5" cy="67.8" r="2.0" fill="#4ad880"/><circle cx="211.2" cy="40.0" r="2.1" fill="#34ec40"/><circle cx="218.7" cy="66.9" r="2.5" fill="#34ec40"/><circle cx="193.7" cy="41.8" r="1.6" fill="#8a86cf"/><circle cx="192.8" cy="32.7" r="1.9" fill="#4af04e"/><circle cx="214.5" cy="73.1" r="2.2" fill="#7a7fd0"/><circle cx="210.0" cy="37.6" r="1.5" fill="#38e242"/><circle cx="190.2" cy="78.6" r="2.3" fill="#8aa0a8"/><circle cx="177.9" cy="61.0" r="2.4" fill="#7c7c7c"/><circle cx="199.9" cy="46.9" r="2.0" fill="#7c7c7c"/><circle cx="190.3" cy="47.0" r="1.3" fill="#828282"/><circle cx="218.2" cy="65.9" r="2.0" fill="#40ea4c"/><circle cx="167.0" cy="57.0" r="2.3" fill="#4ad880"/><circle cx="208.1" cy="79.0" r="1.9" fill="#7a7fd0"/><circle cx="186.5" cy="46.1" r="2.2" fill="#7a9ac8"/><circle cx="213.6" cy="79.4" r="1.6" fill="#34ec40"/><circle cx="206.0" cy="90.0" r="1.9" fill="#26dc38"/><circle cx="172.4" cy="58.9" r="1.2" fill="#b07a98"/><circle cx="169.2" cy="65.1" r="2.6" fill="#b07a98"/><circle cx="222.3" cy="68.6" r="1.6" fill="#4af04e"/><circle cx="196.9" cy="45.7" r="1.3" fill="#767676"/><circle cx="177.4" cy="49.8" r="1.3" fill="#58b0c0"/><circle cx="205.4" cy="84.2" r="1.8" fill="#56b8b0"/><circle cx="187.3" cy="82.9" r="1.7" fill="#7a8ad6"/><circle cx="166.7" cy="56.6" r="1.5" fill="#35c86a"/><circle cx="196.7" cy="40.8" r="1.8" fill="#a878c0"/><circle cx="199.4" cy="77.7" r="1.8" fill="#767676"/><circle cx="215.5" cy="43.4" r="1.8" fill="#38e242"/><circle cx="220.7" cy="69.1" r="1.5" fill="#40ea4c"/><circle cx="179.5" cy="55.0" r="1.6" fill="#58b0c0"/><circle cx="185.4" cy="40.2" r="1.4" fill="#4ad880"/><circle cx="178.2" cy="82.7" r="1.2" fill="#3fd05a"/><circle cx="183.1" cy="54.5" r="2.4" fill="#828282"/><circle cx="186.6" cy="46.6" r="1.6" fill="#4fb8a8"/><circle cx="175.0" cy="62.5" r="1.2" fill="#c07890"/><circle cx="196.4" cy="39.1" r="1.6" fill="#8a86cf"/><circle cx="216.6" cy="82.4" r="2.2" fill="#40ea4c"/><circle cx="215.7" cy="44.7" r="1.7" fill="#4af04e"/><circle cx="200.4" cy="39.4" r="2.1" fill="#60f45a"/><circle cx="197.7" cy="80.8" r="1.6" fill="#8aa0a8"/><circle cx="204.0" cy="87.6" r="2.0" fill="#26dc38"/><circle cx="185.0" cy="38.3" r="1.5" fill="#4ad880"/><circle cx="201.7" cy="36.3" r="1.9" fill="#7a90d0"/><circle cx="193.1" cy="88.3" r="1.5" fill="#6f9ad0"/><circle cx="209.8" cy="52.4" r="1.9" fill="#8a86cf"/><circle cx="208.3" cy="86.9" r="1.9" fill="#26dc38"/><circle cx="179.2" cy="83.5" r="2.2" fill="#4ad880"/><circle cx="184.6" cy="85.9" r="2.3" fill="#6f9ad0"/><circle cx="217.0" cy="70.5" r="2.1" fill="#38e242"/><circle cx="198.3" cy="89.0" r="1.3" fill="#60f45a"/><circle cx="212.0" cy="73.0" r="1.6" fill="#6f9ad0"/><circle cx="177.5" cy="72.8" r="1.9" fill="#c07890"/><circle cx="214.7" cy="78.1" r="2.1" fill="#34ec40"/><circle cx="197.4" cy="82.1" r="1.6" fill="#6f9ad0"/><circle cx="212.1" cy="43.6" r="2.2" fill="#38e242"/><circle cx="173.3" cy="69.2" r="2.3" fill="#58b0a8"/><circle cx="181.4" cy="56.4" r="2.2" fill="#8a8a8a"/><circle cx="195.8" cy="45.4" r="1.7" fill="#7c7c7c"/><circle cx="206.1" cy="87.5" r="1.4" fill="#60f45a"/><circle cx="169.9" cy="74.3" r="2.4" fill="#3fd05a"/><circle cx="166.2" cy="69.2" r="2.4" fill="#30d848"/><circle cx="194.2" cy="80.0" r="1.6" fill="#767676"/><circle cx="204.7" cy="42.1" r="2.4" fill="#8a86cf"/><circle cx="213.5" cy="65.8" r="2.1" fill="#909ad8"/><circle cx="171.3" cy="76.5" r="2.3" fill="#4ad880"/><circle cx="171.3" cy="54.0" r="2.1" fill="#58b0c0"/><circle cx="222.2" cy="59.9" r="2.5" fill="#60f45a"/><circle cx="180.9" cy="76.0" r="1.8" fill="#b07a98"/><circle cx="218.0" cy="82.2" r="1.4" fill="#38e242"/><circle cx="167.8" cy="57.9" r="1.5" fill="#4ad880"/><circle cx="207.1" cy="56.0" r="2.6" fill="#7c7c7c"/><circle cx="196.5" cy="80.2" r="1.8" fill="#7c7c7c"/><circle cx="213.8" cy="65.1" r="2.4" fill="#6f9ad0"/><circle cx="189.7" cy="40.1" r="2.0" fill="#4af04e"/><circle cx="172.4" cy="69.4" r="1.7" fill="#9a88b0"/><circle cx="209.4" cy="72.2" r="1.5" fill="#828282"/><circle cx="212.2" cy="55.2" r="1.5" fill="#7f8fd6"/><circle cx="200.8" cy="81.9" r="1.6" fill="#6f9ad0"/><circle cx="213.8" cy="75.6" r="2.4" fill="#8a86cf"/><circle cx="220.4" cy="64.1" r="1.3" fill="#60f45a"/><circle cx="185.3" cy="77.3" r="1.3" fill="#9a88b0"/><circle cx="191.7" cy="85.6" r="1.2" fill="#6f9ad0"/><circle cx="195.4" cy="80.8" r="1.9" fill="#8aa0a8"/><circle cx="203.7" cy="80.4" r="2.5" fill="#5aa8c8"/><circle cx="192.7" cy="82.7" r="1.6" fill="#7a8ad6"/><circle cx="198.4" cy="44.8" r="2.2" fill="#7a90d0"/><circle cx="223.3" cy="69.5" r="1.7" fill="#38e242"/><circle cx="180.5" cy="86.7" r="2.0" fill="#4ad880"/><circle cx="179.6" cy="43.9" r="2.2" fill="#4fb8a8"/><circle cx="172.3" cy="52.4" r="1.8" fill="#4fb8a8"/><circle cx="220.1" cy="61.6" r="2.4" fill="#60f45a"/><circle cx="187.2" cy="87.7" r="1.9" fill="#4af04e"/><circle cx="203.5" cy="87.1" r="1.5" fill="#34ec40"/><circle cx="200.7" cy="85.6" r="2.1" fill="#60f45a"/><circle cx="186.8" cy="44.9" r="1.9" fill="#4fb8a8"/><circle cx="165.7" cy="69.5" r="1.6" fill="#30d848"/><circle cx="183.4" cy="46.5" r="1.5" fill="#6aa8b8"/><circle cx="208.9" cy="86.2" r="1.5" fill="#34ec40"/><circle cx="214.2" cy="70.9" r="2.4" fill="#8a86cf"/><circle cx="211.6" cy="62.4" r="1.3" fill="#6f9ad0"/><circle cx="216.0" cy="74.8" r="1.9" fill="#4af04e"/><circle cx="184.7" cy="43.5" r="2.4" fill="#4fb8a8"/><circle cx="175.5" cy="48.0" r="1.4" fill="#4fb8a8"/><circle cx="190.2" cy="77.6" r="1.3" fill="#7c7c7c"/><circle cx="193.5" cy="34.2" r="2.6" fill="#40ea4c"/><circle cx="212.4" cy="41.8" r="1.3" fill="#4af04e"/><circle cx="184.5" cy="84.2" r="1.8" fill="#3fd05a"/><circle cx="200.6" cy="32.6" r="2.1" fill="#60f45a"/><circle cx="201.5" cy="85.0" r="2.0" fill="#56b8b0"/><circle cx="212.7" cy="74.0" r="2.1" fill="#6f9ad0"/><circle cx="176.3" cy="43.7" r="1.4" fill="#35c86a"/><circle cx="198.6" cy="33.3" r="1.4" fill="#4af04e"/><circle cx="220.2" cy="68.5" r="1.6" fill="#4af04e"/><circle cx="176.1" cy="75.1" r="2.3" fill="#9a88b0"/><circle cx="179.7" cy="53.9" r="1.6" fill="#7a9ac8"/><circle cx="169.5" cy="62.5" r="2.0" fill="#58b0a8"/><circle cx="180.8" cy="84.7" r="2.5" fill="#4ad880"/><circle cx="168.4" cy="70.8" r="1.7" fill="#58b0a8"/><circle cx="190.7" cy="34.7" r="1.7" fill="#38e242"/><circle cx="179.8" cy="71.7" r="2.1" fill="#828282"/><circle cx="178.4" cy="56.2" r="2.0" fill="#58b0c0"/><circle cx="215.7" cy="54.7" r="1.7" fill="#4af04e"/><circle cx="213.0" cy="83.3" r="1.3" fill="#40ea4c"/><circle cx="176.3" cy="79.6" r="2.2" fill="#b07a98"/><circle cx="165.1" cy="69.9" r="1.3" fill="#30d848"/><circle cx="174.0" cy="62.0" r="2.1" fill="#58b0a8"/><circle cx="200.1" cy="90.8" r="2.6" fill="#34ec40"/><circle cx="187.5" cy="82.0" r="2.6" fill="#5aa8c8"/><circle cx="167.7" cy="59.3" r="2.3" fill="#30d848"/><circle cx="219.7" cy="62.8" r="1.5" fill="#40ea4c"/><circle cx="185.9" cy="39.5" r="1.2" fill="#9a80c8"/><circle cx="221.3" cy="73.8" r="2.5" fill="#60f45a"/><circle cx="203.6" cy="90.7" r="2.3" fill="#38e242"/><circle cx="170.9" cy="59.7" r="2.5" fill="#9a88b0"/><circle cx="195.8" cy="37.6" r="2.6" fill="#4af04e"/><circle cx="197.6" cy="34.9" r="1.9" fill="#9a80c8"/><circle cx="182.3" cy="52.5" r="1.5" fill="#7c7c7c"/><circle cx="176.8" cy="58.7" r="1.8" fill="#4fb8a8"/><circle cx="222.0" cy="63.2" r="2.1" fill="#38e242"/><circle cx="221.6" cy="74.8" r="1.8" fill="#34ec40"/><circle cx="212.9" cy="76.2" r="1.4" fill="#909ad8"/><circle cx="195.6" cy="32.5" r="1.9" fill="#34ec40"/><circle cx="218.5" cy="64.3" r="1.7" fill="#34ec40"/><circle cx="181.7" cy="44.0" r="1.7" fill="#7a9ac8"/><circle cx="218.0" cy="55.1" r="1.6" fill="#4af04e"/><circle cx="199.7" cy="44.3" r="1.8" fill="#9a80c8"/><circle cx="167.5" cy="63.4" r="2.3" fill="#58b0a8"/><circle cx="220.8" cy="62.9" r="1.9" fill="#40ea4c"/><circle cx="199.4" cy="90.2" r="2.5" fill="#4af04e"/><circle cx="205.4" cy="82.7" r="2.1" fill="#56b8b0"/><circle cx="180.0" cy="80.0" r="1.8" fill="#9a88b0"/><circle cx="180.9" cy="72.8" r="1.8" fill="#828282"/><circle cx="177.3" cy="46.2" r="2.3" fill="#58b0c0"/><circle cx="211.0" cy="70.5" r="2.6" fill="#7f8fd6"/><circle cx="184.2" cy="75.1" r="2.5" fill="#8f94b8"/><circle cx="190.2" cy="77.2" r="2.3" fill="#767676"/><circle cx="204.4" cy="80.3" r="1.6" fill="#909ad8"/><circle cx="197.4" cy="87.8" r="1.7" fill="#7a8ad6"/><circle cx="173.1" cy="47.7" r="1.2" fill="#30d848"/><circle cx="204.2" cy="88.2" r="1.8" fill="#38e242"/><circle cx="211.7" cy="62.4" r="1.3" fill="#909ad8"/><circle cx="208.3" cy="41.0" r="1.7" fill="#40ea4c"/><circle cx="211.9" cy="73.0" r="2.0" fill="#909ad8"/><circle cx="214.3" cy="52.9" r="1.4" fill="#40ea4c"/><circle cx="169.2" cy="61.0" r="2.2" fill="#9a88b0"/><circle cx="198.2" cy="46.6" r="2.3" fill="#828282"/><circle cx="179.0" cy="45.8" r="2.0" fill="#4fb8a8"/><circle cx="177.6" cy="77.3" r="1.9" fill="#9a88b0"/><circle cx="184.9" cy="40.6" r="1.4" fill="#7a9ac8"/><circle cx="210.8" cy="44.2" r="2.4" fill="#26dc38"/><circle cx="208.0" cy="52.0" r="2.3" fill="#8a86cf"/><circle cx="198.7" cy="86.4" r="1.7" fill="#60f45a"/><circle cx="212.2" cy="68.3" r="1.4" fill="#6f9ad0"/><circle cx="185.2" cy="41.4" r="1.6" fill="#4ad880"/><circle cx="197.4" cy="47.0" r="1.6" fill="#828282"/><circle cx="180.9" cy="47.9" r="2.4" fill="#58b0c0"/><circle cx="215.0" cy="68.4" r="2.3" fill="#7a7fd0"/><circle cx="173.5" cy="77.1" r="2.3" fill="#58c890"/><circle cx="219.9" cy="53.1" r="1.5" fill="#40ea4c"/><circle cx="207.5" cy="89.1" r="1.6" fill="#40ea4c"/><circle cx="207.3" cy="85.5" r="2.5" fill="#34ec40"/><circle cx="203.2" cy="35.1" r="1.3" fill="#34ec40"/><circle cx="197.7" cy="38.1" r="1.7" fill="#4af04e"/><circle cx="203.6" cy="39.4" r="2.0" fill="#38e242"/><circle cx="215.1" cy="79.3" r="2.0" fill="#40ea4c"/><circle cx="168.9" cy="73.7" r="1.9" fill="#58c890"/><circle cx="175.6" cy="74.3" r="1.4" fill="#58b0a8"/><circle cx="175.3" cy="73.6" r="2.0" fill="#b07a98"/><circle cx="222.1" cy="65.5" r="2.5" fill="#26dc38"/><circle cx="179.1" cy="44.3" r="2.6" fill="#58b0c0"/><circle cx="165.0" cy="61.0" r="2.6" fill="#58c890"/><circle cx="198.0" cy="86.3" r="1.3" fill="#56b8b0"/><circle cx="194.9" cy="90.1" r="1.4" fill="#34ec40"/><circle cx="181.6" cy="49.3" r="1.8" fill="#4fb8a8"/><circle cx="200.0" cy="83.1" r="1.2" fill="#5aa8c8"/><circle cx="210.0" cy="46.9" r="1.7" fill="#7a7fd0"/><circle cx="219.6" cy="56.3" r="1.4" fill="#26dc38"/><circle cx="179.0" cy="60.3" r="1.5" fill="#8a8a8a"/><circle cx="198.2" cy="32.1" r="1.5" fill="#4af04e"/><circle cx="181.8" cy="51.1" r="2.1" fill="#58b0c0"/><circle cx="211.2" cy="64.1" r="2.2" fill="#828282"/><circle cx="166.4" cy="65.2" r="1.7" fill="#35c86a"/><circle cx="185.1" cy="87.1" r="2.6" fill="#38e242"/><circle cx="197.5" cy="89.1" r="1.3" fill="#5aa8c8"/><circle cx="189.2" cy="40.5" r="2.4" fill="#a878c0"/><circle cx="184.3" cy="88.3" r="2.3" fill="#26dc38"/><circle cx="178.0" cy="74.1" r="2.4" fill="#c07890"/><circle cx="207.3" cy="89.5" r="1.7" fill="#38e242"/><circle cx="207.4" cy="87.9" r="2.5" fill="#26dc38"/><circle cx="182.2" cy="42.0" r="2.3" fill="#7a9ac8"/><circle cx="195.4" cy="89.3" r="1.2" fill="#56b8b0"/><circle cx="219.8" cy="72.6" r="1.4" fill="#26dc38"/><circle cx="181.4" cy="79.8" r="1.8" fill="#6ab898"/><circle cx="199.9" cy="83.1" r="1.3" fill="#7a8ad6"/><circle cx="172.6" cy="59.7" r="1.8" fill="#b07a98"/><circle cx="187.8" cy="81.6" r="1.2" fill="#5aa8c8"/><circle cx="189.2" cy="90.2" r="2.1" fill="#40ea4c"/><circle cx="191.7" cy="42.0" r="1.4" fill="#9a80c8"/><circle cx="214.6" cy="65.5" r="1.6" fill="#909ad8"/><circle cx="208.3" cy="41.0" r="2.4" fill="#26dc38"/><circle cx="183.7" cy="87.3" r="2.1" fill="#26dc38"/><circle cx="201.1" cy="85.9" r="1.4" fill="#60f45a"/><circle cx="194.3" cy="91.6" r="2.3" fill="#4af04e"/><circle cx="205.9" cy="51.7" r="1.3" fill="#8aa0a8"/><circle cx="205.0" cy="52.2" r="1.4" fill="#8f94b8"/><circle cx="208.5" cy="80.3" r="2.2" fill="#909ad8"/><circle cx="193.6" cy="83.1" r="1.3" fill="#7a8ad6"/><circle cx="165.4" cy="64.0" r="1.3" fill="#3fd05a"/><circle cx="211.7" cy="45.2" r="2.3" fill="#38e242"/><circle cx="197.1" cy="89.3" r="1.4" fill="#7a8ad6"/><circle cx="182.7" cy="71.9" r="1.7" fill="#8f94b8"/><circle cx="175.5" cy="44.0" r="2.3" fill="#30d848"/><circle cx="204.9" cy="80.1" r="2.3" fill="#6f9ad0"/><circle cx="211.8" cy="41.6" r="1.6" fill="#38e242"/><circle cx="165.1" cy="62.4" r="1.9" fill="#4ad880"/><circle cx="187.7" cy="88.9" r="2.6" fill="#34ec40"/><circle cx="173.3" cy="46.8" r="2.4" fill="#4ad880"/><circle cx="182.4" cy="42.2" r="2.6" fill="#6aa8b8"/><circle cx="201.1" cy="38.5" r="1.8" fill="#34ec40"/><circle cx="179.6" cy="61.3" r="1.5" fill="#767676"/><circle cx="216.8" cy="61.6" r="1.5" fill="#26dc38"/><circle cx="200.8" cy="38.0" r="1.6" fill="#7a90d0"/><circle cx="180.1" cy="42.3" r="2.2" fill="#4ad880"/><circle cx="200.9" cy="90.3" r="1.7" fill="#34ec40"/><circle cx="193.0" cy="32.9" r="1.9" fill="#60f45a"/><circle cx="178.7" cy="43.0" r="1.7" fill="#58c890"/><circle cx="181.5" cy="83.9" r="1.8" fill="#58c890"/><circle cx="188.2" cy="45.3" r="2.5" fill="#7a90d0"/><circle cx="168.5" cy="57.3" r="2.2" fill="#30d848"/><circle cx="209.5" cy="65.1" r="2.5" fill="#8aa0a8"/><circle cx="193.8" cy="89.3" r="2.6" fill="#7a8ad6"/><circle cx="195.4" cy="42.4" r="2.1" fill="#9a80c8"/><circle cx="211.0" cy="66.9" r="1.6" fill="#8a8a8a"/><circle cx="175.4" cy="46.3" r="2.0" fill="#3fd05a"/><circle cx="200.6" cy="84.5" r="1.9" fill="#7a8ad6"/><circle cx="210.8" cy="45.9" r="1.5" fill="#60f45a"/><circle cx="215.6" cy="56.0" r="2.2" fill="#34ec40"/><circle cx="168.1" cy="54.9" r="2.1" fill="#30d848"/><circle cx="176.2" cy="45.9" r="2.4" fill="#58c890"/><circle cx="219.3" cy="70.2" r="1.6" fill="#4af04e"/><circle cx="177.0" cy="84.3" r="2.0" fill="#58c890"/><circle cx="208.1" cy="84.5" r="1.6" fill="#26dc38"/><circle cx="211.2" cy="74.5" r="1.5" fill="#909ad8"/><circle cx="203.5" cy="43.4" r="1.6" fill="#909ad8"/><circle cx="182.0" cy="78.5" r="2.2" fill="#58b0a8"/><circle cx="194.0" cy="80.3" r="2.4" fill="#767676"/><circle cx="177.5" cy="68.1" r="2.1" fill="#8f94b8"/><circle cx="203.0" cy="44.7" r="2.0" fill="#7f8fd6"/><circle cx="188.7" cy="78.1" r="1.3" fill="#8a8a8a"/><circle cx="186.5" cy="84.2" r="2.2" fill="#56b8b0"/><circle cx="202.9" cy="34.8" r="2.2" fill="#60f45a"/><circle cx="184.1" cy="53.3" r="1.6" fill="#767676"/><circle cx="196.4" cy="91.8" r="2.3" fill="#26dc38"/><circle cx="198.8" cy="80.8" r="1.6" fill="#5aa8c8"/><circle cx="193.5" cy="41.0" r="2.1" fill="#7a90d0"/><circle cx="181.1" cy="80.6" r="1.3" fill="#c07890"/><circle cx="166.6" cy="59.3" r="2.6" fill="#58c890"/><circle cx="197.9" cy="89.7" r="1.8" fill="#4af04e"/><circle cx="196.5" cy="41.1" r="2.4" fill="#8a86cf"/><circle cx="186.6" cy="47.6" r="2.0" fill="#6aa8b8"/><circle cx="211.0" cy="69.5" r="1.5" fill="#8f94b8"/><circle cx="208.1" cy="47.1" r="1.3" fill="#909ad8"/><circle cx="181.2" cy="51.2" r="2.2" fill="#6aa8b8"/><circle cx="184.0" cy="85.1" r="2.2" fill="#7a8ad6"/><circle cx="211.0" cy="48.1" r="2.6" fill="#7a7fd0"/><circle cx="177.2" cy="44.5" r="1.6" fill="#58c890"/><circle cx="202.6" cy="87.8" r="2.4" fill="#38e242"/><circle cx="199.3" cy="78.0" r="1.7" fill="#767676"/><circle cx="206.1" cy="44.1" r="2.4" fill="#6f9ad0"/><circle cx="177.3" cy="53.2" r="1.9" fill="#58b0c0"/><circle cx="203.9" cy="83.3" r="2.3" fill="#5aa8c8"/><circle cx="204.6" cy="89.0" r="1.3" fill="#34ec40"/><circle cx="222.8" cy="67.8" r="1.3" fill="#38e242"/><circle cx="205.6" cy="41.6" r="1.3" fill="#4af04e"/><circle cx="172.9" cy="72.7" r="1.5" fill="#9a88b0"/><circle cx="204.4" cy="42.5" r="2.4" fill="#7a7fd0"/><circle cx="209.0" cy="69.2" r="1.8" fill="#8aa0a8"/><circle cx="206.8" cy="45.8" r="1.7" fill="#909ad8"/><circle cx="179.7" cy="58.2" r="1.9" fill="#8f94b8"/><circle cx="211.1" cy="86.0" r="1.6" fill="#26dc38"/><circle cx="181.5" cy="54.9" r="2.3" fill="#8aa0a8"/><circle cx="201.0" cy="48.4" r="1.7" fill="#7c7c7c"/><circle cx="219.1" cy="65.2" r="2.2" fill="#38e242"/><circle cx="208.4" cy="58.8" r="1.9" fill="#767676"/><circle cx="177.3" cy="66.6" r="2.5" fill="#8aa0a8"/><circle cx="182.3" cy="84.1" r="1.9" fill="#b07a98"/><circle cx="211.7" cy="75.0" r="1.8" fill="#7f8fd6"/><circle cx="167.1" cy="74.6" r="1.8" fill="#3fd05a"/><circle cx="217.8" cy="72.4" r="2.5" fill="#26dc38"/><circle cx="202.9" cy="81.0" r="1.2" fill="#5aa8c8"/><circle cx="207.0" cy="87.9" r="1.3" fill="#40ea4c"/><circle cx="209.5" cy="51.4" r="1.9" fill="#7a7fd0"/><circle cx="175.0" cy="80.0" r="2.3" fill="#35c86a"/><circle cx="211.6" cy="39.4" r="2.1" fill="#26dc38"/><circle cx="208.2" cy="85.6" r="2.5" fill="#60f45a"/><circle cx="183.0" cy="46.8" r="1.6" fill="#58b0c0"/><circle cx="204.8" cy="84.3" r="1.7" fill="#6f9ad0"/><circle cx="213.2" cy="46.3" r="2.1" fill="#60f45a"/><circle cx="165.9" cy="67.3" r="2.5" fill="#4ad880"/>
</g>
<g filter="url(#tumg)"><polygon points="211.6,63.8 210.3,71.3 206.6,77.7 201.1,81.9 194.6,83.4 188.1,81.9 182.6,77.7 178.9,71.3 177.6,63.8 178.9,56.3 182.6,49.9 188.1,45.7 194.6,44.2 201.1,45.7 206.6,49.9 210.3,56.3" fill="#828282"/></g>
<g filter="url(#corefx)"><polygon points="187.0,61.0 191.0,58.8 194.5,61.2 196.5,63.0 198.8,59.5 202.8,58.0 204.5,61.8 203.8,66.0 205.0,70.0 201.0,71.8 200.0,74.0 196.5,71.2 192.8,72.3 190.0,70.8 190.0,67.2 186.8,65.8" fill="#050505"/></g>
<rect x="218.2" y="90.3" width="41.90" height="38.00" fill="#141414"/>
<rect x="218.2" y="90.3" width="41.90" height="38.00" fill="#fff" filter="url(#speckA)"/>
<polyline points="218.2,128.3 218.2,90.3 260.1,90.3" fill="none" stroke="#d8d8d8" stroke-width="1"/>
<circle cx="239.9" cy="111.0" r="12.2" fill="#050505" stroke="#2cd444" stroke-width="1.4"/>
<circle cx="239.9" cy="111.0" r="13.4" fill="none" stroke="#0c4a16" stroke-width="1.2" opacity="0.85"/>
<circle cx="225.6" cy="97.1" r="5.6" fill="#fff"/>
<text x="225.60" y="100.10" font-size="8.4" font-weight="bold" fill="#222" text-anchor="middle" >S</text>
<circle cx="143.4" cy="14.8" r="8.2" fill="#1e8ef5"/>
<text x="143.40" y="18.80" font-size="11.5" font-weight="bold" fill="#fff" text-anchor="middle" >1</text>
<text x="248.60" y="14.90" font-size="12" font-weight="bold" fill="#fff" text-anchor="start" >D</text>
</g>
<g id="panelD2">
<rect x="133.3" y="130.6" width="127.30" height="125.00" fill="#141414"/>
<rect x="133.3" y="130.6" width="127.30" height="125.00" fill="#fff" filter="url(#speckA)"/>
<g filter="url(#tum)">
<polygon points="189.2,163.4 197.6,162.3 205.9,163.4 214.2,166.5 220.5,173.8 224.7,183.2 228.8,193.6 229.9,200.9 224.7,207.1 218.4,214.4 210.1,220.7 199.7,223.8 189.2,225.9 178.8,220.7 170.5,216.5 166.3,208.2 164.2,199.8 166.3,189.4 170.5,181.1 175.7,174.8 178.8,168.6 184.0,164.4" fill="#2bd636"/>
<circle cx="175.1" cy="206.2" r="1.6" fill="#38e242"/><circle cx="195.4" cy="223.6" r="1.9" fill="#4af04e"/><circle cx="168.8" cy="212.8" r="2.5" fill="#4af04e"/><circle cx="227.1" cy="196.7" r="1.4" fill="#40b0c0"/><circle cx="174.4" cy="214.3" r="2.3" fill="#34ec40"/><circle cx="212.1" cy="187.8" r="1.5" fill="#7c7c7c"/><circle cx="179.7" cy="211.9" r="2.1" fill="#4af04e"/><circle cx="217.0" cy="204.1" r="2.6" fill="#9a70d0"/><circle cx="168.9" cy="197.9" r="2.4" fill="#90f644"/><circle cx="222.5" cy="188.4" r="2.5" fill="#2fd83a"/><circle cx="219.0" cy="172.4" r="2.6" fill="#40b0c0"/><circle cx="200.4" cy="209.9" r="2.0" fill="#7c7c7c"/><circle cx="171.6" cy="204.9" r="1.7" fill="#38e242"/><circle cx="225.1" cy="184.3" r="2.5" fill="#9a70d0"/><circle cx="180.4" cy="173.0" r="2.3" fill="#b048c8"/><circle cx="188.9" cy="205.8" r="1.9" fill="#6aa890"/><circle cx="207.4" cy="177.7" r="2.5" fill="#7c7c7c"/><circle cx="203.0" cy="218.5" r="1.9" fill="#38e242"/><circle cx="180.4" cy="198.0" r="2.3" fill="#767676"/><circle cx="215.1" cy="193.0" r="1.3" fill="#8a8a8a"/><circle cx="181.2" cy="180.7" r="1.5" fill="#38e242"/><circle cx="190.2" cy="217.7" r="2.5" fill="#38e242"/><circle cx="195.7" cy="178.3" r="1.9" fill="#6aa890"/><circle cx="178.2" cy="215.6" r="2.4" fill="#4af04e"/><circle cx="202.4" cy="216.3" r="1.4" fill="#4af04e"/><circle cx="202.9" cy="171.2" r="1.7" fill="#34ec40"/><circle cx="172.5" cy="207.8" r="2.0" fill="#80f43e"/><circle cx="206.5" cy="216.5" r="1.8" fill="#2cd83e"/><circle cx="209.1" cy="210.1" r="1.4" fill="#26dc38"/><circle cx="173.5" cy="217.5" r="1.6" fill="#38e242"/><circle cx="184.2" cy="222.2" r="1.9" fill="#6cee38"/><circle cx="178.7" cy="172.9" r="2.4" fill="#b048c8"/><circle cx="177.5" cy="209.6" r="2.0" fill="#34ec40"/><circle cx="197.4" cy="209.7" r="2.3" fill="#828282"/><circle cx="168.4" cy="210.9" r="2.4" fill="#4af04e"/><circle cx="204.0" cy="209.7" r="1.7" fill="#4acb5a"/><circle cx="184.6" cy="219.6" r="2.3" fill="#80f43e"/><circle cx="217.0" cy="193.5" r="1.3" fill="#58b890"/><circle cx="184.6" cy="206.8" r="2.3" fill="#78b088"/><circle cx="176.7" cy="201.5" r="2.6" fill="#5ac47a"/><circle cx="187.6" cy="182.5" r="1.4" fill="#767676"/><circle cx="217.7" cy="210.6" r="1.9" fill="#38e242"/><circle cx="197.9" cy="218.0" r="1.5" fill="#34ec40"/><circle cx="167.5" cy="189.9" r="1.6" fill="#4af04e"/><circle cx="192.3" cy="213.0" r="1.7" fill="#33dd44"/><circle cx="211.3" cy="218.9" r="2.1" fill="#38e242"/><circle cx="214.0" cy="204.8" r="2.2" fill="#58b890"/><circle cx="209.1" cy="177.9" r="1.7" fill="#33dd44"/><circle cx="204.6" cy="214.8" r="1.4" fill="#34ec40"/><circle cx="177.5" cy="218.0" r="1.4" fill="#38e242"/><circle cx="200.6" cy="167.4" r="2.1" fill="#4af04e"/><circle cx="188.9" cy="209.6" r="2.6" fill="#828282"/><circle cx="175.2" cy="189.9" r="1.7" fill="#38e242"/><circle cx="206.4" cy="205.7" r="1.3" fill="#8a8a8a"/><circle cx="166.1" cy="195.0" r="2.5" fill="#4af04e"/><circle cx="197.5" cy="177.5" r="1.6" fill="#6aa890"/><circle cx="189.1" cy="222.1" r="1.8" fill="#6cee38"/><circle cx="208.2" cy="204.8" r="1.6" fill="#78b088"/><circle cx="165.5" cy="194.2" r="1.8" fill="#34ec40"/><circle cx="176.7" cy="185.9" r="1.7" fill="#34ec40"/><circle cx="173.1" cy="212.7" r="1.9" fill="#6cee38"/><circle cx="179.0" cy="213.3" r="2.5" fill="#90f644"/><circle cx="202.5" cy="167.4" r="1.4" fill="#26dc38"/><circle cx="208.8" cy="205.3" r="1.6" fill="#7c7c7c"/><circle cx="187.4" cy="181.3" r="1.2" fill="#6aa890"/><circle cx="217.2" cy="204.8" r="1.9" fill="#4a7fe0"/><circle cx="208.8" cy="174.4" r="1.7" fill="#5ac47a"/><circle cx="174.9" cy="199.5" r="2.2" fill="#5ac47a"/><circle cx="207.1" cy="172.4" r="1.5" fill="#34ec40"/><circle cx="187.8" cy="178.2" r="2.2" fill="#7c7c7c"/><circle cx="205.5" cy="173.4" r="1.9" fill="#5ac47a"/><circle cx="174.9" cy="216.4" r="2.5" fill="#34ec40"/><circle cx="208.9" cy="176.1" r="1.9" fill="#58b890"/><circle cx="189.9" cy="222.2" r="2.3" fill="#38e242"/><circle cx="213.9" cy="203.4" r="1.5" fill="#4acb5a"/><circle cx="228.2" cy="194.1" r="1.5" fill="#38c8a0"/><circle cx="215.2" cy="209.4" r="2.5" fill="#4af04e"/><circle cx="180.0" cy="200.4" r="2.0" fill="#8a8a8a"/><circle cx="217.8" cy="185.3" r="2.6" fill="#4a7fe0"/><circle cx="212.8" cy="209.5" r="2.5" fill="#26dc38"/><circle cx="198.6" cy="219.2" r="1.6" fill="#2cd83e"/><circle cx="174.8" cy="204.4" r="2.1" fill="#90f644"/><circle cx="214.9" cy="210.1" r="1.6" fill="#26dc38"/><circle cx="202.7" cy="213.4" r="2.2" fill="#26dc38"/><circle cx="177.2" cy="176.8" r="2.3" fill="#2fd83a"/><circle cx="195.9" cy="165.8" r="2.5" fill="#4af04e"/><circle cx="172.9" cy="183.5" r="1.7" fill="#80f43e"/><circle cx="209.7" cy="217.3" r="1.7" fill="#34ec40"/><circle cx="180.7" cy="212.0" r="2.5" fill="#34ec40"/><circle cx="177.3" cy="216.2" r="2.2" fill="#34ec40"/><circle cx="180.6" cy="170.6" r="1.3" fill="#5a6ae0"/><circle cx="198.0" cy="170.8" r="1.5" fill="#38e242"/><circle cx="209.3" cy="183.6" r="1.9" fill="#6aa890"/><circle cx="182.9" cy="179.0" r="1.3" fill="#33dd44"/><circle cx="213.9" cy="200.6" r="1.2" fill="#58b890"/><circle cx="211.8" cy="200.1" r="1.9" fill="#767676"/><circle cx="192.6" cy="163.7" r="1.4" fill="#4af04e"/><circle cx="206.8" cy="208.0" r="1.5" fill="#58b890"/><circle cx="178.8" cy="199.6" r="2.2" fill="#58b890"/><circle cx="186.9" cy="172.1" r="2.3" fill="#34ec40"/><circle cx="185.7" cy="183.2" r="2.6" fill="#7c7c7c"/><circle cx="194.2" cy="175.1" r="2.1" fill="#2fd83a"/><circle cx="219.9" cy="176.4" r="1.4" fill="#3f9fd0"/><circle cx="210.2" cy="175.5" r="1.3" fill="#2fd83a"/><circle cx="180.2" cy="200.4" r="1.5" fill="#828282"/><circle cx="192.6" cy="212.5" r="2.2" fill="#58b890"/><circle cx="217.6" cy="187.7" r="2.3" fill="#4af04e"/><circle cx="209.4" cy="218.6" r="1.2" fill="#38e242"/><circle cx="197.0" cy="219.0" r="1.9" fill="#90f644"/><circle cx="166.7" cy="203.0" r="2.3" fill="#80f43e"/><circle cx="175.0" cy="184.0" r="1.9" fill="#38e242"/><circle cx="181.6" cy="220.6" r="1.3" fill="#80f43e"/><circle cx="183.1" cy="168.1" r="2.3" fill="#5a6ae0"/><circle cx="173.3" cy="208.2" r="1.6" fill="#80f43e"/><circle cx="171.6" cy="204.4" r="2.5" fill="#6cee38"/><circle cx="167.5" cy="209.7" r="1.9" fill="#6cee38"/><circle cx="178.6" cy="218.5" r="1.5" fill="#38e242"/><circle cx="185.9" cy="174.2" r="1.8" fill="#34ec40"/><circle cx="178.3" cy="217.5" r="1.2" fill="#80f43e"/><circle cx="215.0" cy="216.4" r="1.5" fill="#38e242"/><circle cx="187.5" cy="216.1" r="1.6" fill="#4af04e"/><circle cx="203.3" cy="215.2" r="1.9" fill="#4af04e"/><circle cx="185.8" cy="219.0" r="1.4" fill="#38e242"/><circle cx="208.8" cy="211.4" r="2.4" fill="#34ec40"/><circle cx="182.2" cy="179.3" r="2.3" fill="#2cd83e"/><circle cx="179.4" cy="170.0" r="2.5" fill="#c050d0"/><circle cx="198.0" cy="223.9" r="1.7" fill="#38e242"/><circle cx="198.3" cy="165.4" r="2.3" fill="#34ec40"/><circle cx="195.3" cy="167.0" r="1.4" fill="#4af04e"/><circle cx="212.1" cy="169.7" r="1.2" fill="#4af04e"/><circle cx="191.1" cy="212.7" r="1.8" fill="#5ac47a"/><circle cx="181.7" cy="184.5" r="1.7" fill="#58b890"/><circle cx="205.8" cy="214.4" r="2.3" fill="#4af04e"/><circle cx="185.6" cy="205.7" r="2.4" fill="#7c7c7c"/><circle cx="219.9" cy="201.8" r="2.1" fill="#4a7fe0"/><circle cx="177.3" cy="173.4" r="1.8" fill="#5a6ae0"/><circle cx="185.7" cy="208.5" r="2.3" fill="#33dd44"/><circle cx="220.4" cy="209.7" r="1.3" fill="#40b0c0"/><circle cx="183.9" cy="176.8" r="2.3" fill="#33dd44"/><circle cx="204.8" cy="219.5" r="1.8" fill="#38e242"/><circle cx="209.7" cy="212.2" r="2.2" fill="#26dc38"/><circle cx="193.0" cy="165.5" r="2.5" fill="#38e242"/><circle cx="169.8" cy="207.8" r="2.5" fill="#6cee38"/><circle cx="224.0" cy="201.5" r="2.2" fill="#3f9fd0"/><circle cx="173.5" cy="202.7" r="2.4" fill="#38e242"/><circle cx="191.0" cy="224.9" r="2.3" fill="#6cee38"/><circle cx="224.5" cy="203.9" r="1.6" fill="#9a70d0"/><circle cx="171.9" cy="196.2" r="2.5" fill="#34ec40"/><circle cx="206.4" cy="218.8" r="1.7" fill="#38e242"/><circle cx="183.4" cy="215.5" r="2.0" fill="#38e242"/><circle cx="182.6" cy="174.7" r="1.6" fill="#2cd83e"/><circle cx="204.7" cy="209.7" r="1.8" fill="#58b890"/><circle cx="179.3" cy="219.4" r="1.5" fill="#80f43e"/><circle cx="176.0" cy="196.7" r="1.3" fill="#4acb5a"/><circle cx="211.8" cy="179.2" r="1.8" fill="#33dd44"/><circle cx="199.4" cy="178.1" r="1.3" fill="#8a8a8a"/><circle cx="204.0" cy="213.8" r="2.4" fill="#34ec40"/><circle cx="201.2" cy="166.3" r="1.4" fill="#2cd83e"/><circle cx="197.5" cy="213.1" r="2.1" fill="#4acb5a"/><circle cx="219.9" cy="187.5" r="2.2" fill="#9a70d0"/><circle cx="192.6" cy="163.3" r="2.6" fill="#4af04e"/><circle cx="191.7" cy="219.0" r="2.6" fill="#38e242"/><circle cx="225.4" cy="202.3" r="1.9" fill="#38c8a0"/><circle cx="202.8" cy="219.1" r="2.1" fill="#34ec40"/><circle cx="181.6" cy="172.5" r="2.4" fill="#b048c8"/><circle cx="171.0" cy="204.0" r="1.4" fill="#4af04e"/><circle cx="198.8" cy="220.8" r="1.3" fill="#2cd83e"/><circle cx="195.8" cy="217.0" r="1.5" fill="#90f644"/><circle cx="184.1" cy="212.3" r="1.4" fill="#4af04e"/><circle cx="225.7" cy="186.5" r="1.8" fill="#40b0c0"/><circle cx="190.8" cy="223.5" r="1.4" fill="#80f43e"/><circle cx="208.2" cy="203.3" r="1.3" fill="#7c7c7c"/><circle cx="212.2" cy="179.7" r="1.3" fill="#33dd44"/><circle cx="202.1" cy="171.6" r="1.9" fill="#2cd83e"/><circle cx="185.2" cy="168.8" r="1.8" fill="#3f7fe0"/><circle cx="182.8" cy="201.6" r="1.8" fill="#828282"/><circle cx="206.6" cy="165.7" r="1.6" fill="#2cd83e"/><circle cx="216.4" cy="189.4" r="1.7" fill="#33dd44"/><circle cx="186.7" cy="222.5" r="1.6" fill="#4af04e"/><circle cx="219.5" cy="180.4" r="2.2" fill="#2fd83a"/><circle cx="166.0" cy="202.4" r="1.3" fill="#80f43e"/><circle cx="172.0" cy="194.0" r="1.9" fill="#38e242"/><circle cx="185.9" cy="176.8" r="1.3" fill="#5ac47a"/><circle cx="220.0" cy="173.6" r="2.5" fill="#40b0c0"/><circle cx="177.4" cy="202.3" r="2.0" fill="#58b890"/><circle cx="226.4" cy="187.7" r="2.5" fill="#3f9fd0"/><circle cx="213.6" cy="171.5" r="1.8" fill="#2cd83e"/><circle cx="179.2" cy="179.9" r="1.2" fill="#b048c8"/><circle cx="206.8" cy="175.2" r="2.0" fill="#5ac47a"/><circle cx="203.5" cy="209.1" r="1.4" fill="#78b088"/><circle cx="190.6" cy="215.7" r="2.5" fill="#90f644"/><circle cx="216.6" cy="189.2" r="1.7" fill="#2fd83a"/><circle cx="165.9" cy="196.6" r="1.2" fill="#4af04e"/><circle cx="196.1" cy="222.8" r="1.6" fill="#6cee38"/><circle cx="210.6" cy="207.5" r="2.0" fill="#2fd83a"/><circle cx="182.0" cy="202.3" r="1.6" fill="#828282"/><circle cx="185.1" cy="174.0" r="1.4" fill="#34ec40"/><circle cx="203.5" cy="173.1" r="2.4" fill="#2fd83a"/><circle cx="197.8" cy="172.6" r="1.9" fill="#58b890"/><circle cx="181.3" cy="206.4" r="2.3" fill="#2fd83a"/><circle cx="215.7" cy="178.3" r="2.6" fill="#38c8a0"/><circle cx="212.8" cy="183.9" r="2.1" fill="#58b890"/><circle cx="178.5" cy="172.3" r="2.2" fill="#3f7fe0"/><circle cx="176.1" cy="215.1" r="2.1" fill="#4af04e"/><circle cx="207.4" cy="176.5" r="1.5" fill="#4acb5a"/><circle cx="206.8" cy="180.3" r="2.5" fill="#6aa890"/><circle cx="183.9" cy="186.8" r="2.4" fill="#7c7c7c"/><circle cx="203.6" cy="217.8" r="2.4" fill="#4af04e"/><circle cx="180.4" cy="178.8" r="2.0" fill="#2cd83e"/><circle cx="184.9" cy="172.2" r="2.2" fill="#c050d0"/><circle cx="192.1" cy="216.2" r="2.4" fill="#4af04e"/><circle cx="206.6" cy="171.7" r="2.0" fill="#2cd83e"/><circle cx="186.7" cy="169.9" r="2.6" fill="#2fd83a"/><circle cx="192.2" cy="179.2" r="1.6" fill="#828282"/><circle cx="212.0" cy="184.2" r="2.6" fill="#4acb5a"/><circle cx="220.7" cy="185.0" r="1.5" fill="#38c8a0"/><circle cx="207.0" cy="174.2" r="2.3" fill="#58b890"/><circle cx="217.3" cy="211.1" r="2.0" fill="#4af04e"/><circle cx="218.0" cy="195.4" r="1.7" fill="#5ac47a"/><circle cx="208.7" cy="213.0" r="2.1" fill="#2cd83e"/><circle cx="175.6" cy="210.5" r="1.6" fill="#6cee38"/><circle cx="171.8" cy="210.9" r="2.2" fill="#4af04e"/><circle cx="179.9" cy="205.2" r="1.3" fill="#33dd44"/><circle cx="205.1" cy="167.2" r="2.0" fill="#34ec40"/><circle cx="215.7" cy="205.5" r="2.1" fill="#38e242"/><circle cx="173.0" cy="205.9" r="1.5" fill="#90f644"/><circle cx="215.5" cy="216.3" r="2.0" fill="#34ec40"/><circle cx="215.5" cy="182.0" r="2.5" fill="#2cd83e"/><circle cx="214.1" cy="217.2" r="1.3" fill="#2cd83e"/><circle cx="175.9" cy="185.0" r="1.3" fill="#6cee38"/><circle cx="203.1" cy="211.1" r="1.8" fill="#58b890"/><circle cx="184.3" cy="203.2" r="1.5" fill="#767676"/><circle cx="219.8" cy="180.8" r="2.3" fill="#40b0c0"/><circle cx="187.2" cy="207.6" r="2.5" fill="#78b088"/><circle cx="203.6" cy="164.6" r="1.9" fill="#26dc38"/><circle cx="220.3" cy="185.7" r="1.7" fill="#4a7fe0"/><circle cx="223.0" cy="206.4" r="2.3" fill="#4a7fe0"/><circle cx="171.0" cy="184.6" r="1.4" fill="#4af04e"/><circle cx="176.4" cy="191.5" r="2.3" fill="#58b890"/><circle cx="201.3" cy="172.5" r="2.6" fill="#2fd83a"/><circle cx="183.0" cy="186.0" r="2.5" fill="#8a8a8a"/><circle cx="216.4" cy="175.9" r="2.0" fill="#4a7fe0"/><circle cx="196.0" cy="166.3" r="1.5" fill="#4af04e"/><circle cx="204.1" cy="163.8" r="2.3" fill="#4af04e"/><circle cx="181.9" cy="187.1" r="2.0" fill="#767676"/><circle cx="207.2" cy="217.9" r="1.3" fill="#26dc38"/><circle cx="216.7" cy="191.0" r="1.4" fill="#33dd44"/><circle cx="201.4" cy="216.2" r="2.1" fill="#4af04e"/><circle cx="181.9" cy="174.6" r="1.3" fill="#c050d0"/><circle cx="186.4" cy="165.0" r="2.3" fill="#3f7fe0"/><circle cx="184.0" cy="222.8" r="1.2" fill="#6cee38"/><circle cx="211.8" cy="202.2" r="2.5" fill="#767676"/><circle cx="180.5" cy="195.5" r="2.3" fill="#767676"/><circle cx="177.1" cy="213.2" r="1.5" fill="#80f43e"/><circle cx="188.7" cy="208.6" r="1.7" fill="#78b088"/><circle cx="197.5" cy="220.0" r="1.4" fill="#2cd83e"/><circle cx="180.3" cy="198.5" r="1.8" fill="#828282"/><circle cx="179.3" cy="194.1" r="2.1" fill="#78b088"/><circle cx="196.5" cy="169.9" r="2.0" fill="#34ec40"/><circle cx="183.3" cy="179.5" r="2.0" fill="#5ac47a"/><circle cx="210.3" cy="213.5" r="1.6" fill="#2cd83e"/><circle cx="208.0" cy="208.2" r="1.7" fill="#2fd83a"/><circle cx="203.8" cy="206.0" r="1.8" fill="#6aa890"/><circle cx="185.5" cy="220.4" r="1.9" fill="#6cee38"/><circle cx="182.9" cy="176.4" r="1.5" fill="#34ec40"/><circle cx="169.0" cy="193.1" r="1.8" fill="#38e242"/><circle cx="221.6" cy="201.7" r="1.5" fill="#9a70d0"/><circle cx="180.3" cy="207.7" r="2.2" fill="#2fd83a"/><circle cx="191.9" cy="209.4" r="1.2" fill="#767676"/><circle cx="220.5" cy="183.0" r="1.8" fill="#40b0c0"/><circle cx="216.2" cy="170.6" r="1.3" fill="#2cd83e"/><circle cx="192.8" cy="225.1" r="2.0" fill="#34ec40"/><circle cx="193.7" cy="167.5" r="1.3" fill="#38e242"/><circle cx="179.1" cy="210.0" r="2.2" fill="#34ec40"/><circle cx="220.0" cy="181.6" r="1.9" fill="#40b0c0"/><circle cx="179.3" cy="220.8" r="2.0" fill="#34ec40"/><circle cx="217.2" cy="214.2" r="1.6" fill="#4af04e"/><circle cx="173.9" cy="200.1" r="1.3" fill="#90f644"/><circle cx="186.3" cy="172.3" r="1.9" fill="#4af04e"/><circle cx="200.0" cy="168.0" r="2.5" fill="#2cd83e"/><circle cx="214.9" cy="177.4" r="1.9" fill="#2fd83a"/><circle cx="188.8" cy="213.7" r="1.2" fill="#58b890"/><circle cx="169.9" cy="214.6" r="2.2" fill="#34ec40"/><circle cx="189.9" cy="167.6" r="1.7" fill="#3f7fe0"/><circle cx="199.1" cy="168.0" r="2.4" fill="#38e242"/><circle cx="186.8" cy="184.1" r="1.5" fill="#828282"/><circle cx="217.2" cy="214.9" r="1.2" fill="#34ec40"/><circle cx="181.9" cy="206.9" r="1.3" fill="#5ac47a"/><circle cx="194.9" cy="224.5" r="2.0" fill="#4af04e"/><circle cx="183.0" cy="173.8" r="1.3" fill="#4af04e"/><circle cx="173.3" cy="203.4" r="1.8" fill="#38e242"/><circle cx="167.2" cy="197.3" r="1.6" fill="#34ec40"/><circle cx="213.1" cy="194.0" r="1.3" fill="#7c7c7c"/><circle cx="195.4" cy="214.5" r="2.4" fill="#4acb5a"/><circle cx="205.0" cy="204.5" r="1.7" fill="#7c7c7c"/><circle cx="217.2" cy="186.4" r="1.2" fill="#4af04e"/><circle cx="168.1" cy="194.3" r="1.3" fill="#34ec40"/><circle cx="214.6" cy="201.3" r="1.8" fill="#2fd83a"/><circle cx="211.9" cy="192.1" r="2.3" fill="#7c7c7c"/><circle cx="223.7" cy="194.4" r="1.6" fill="#38c8a0"/><circle cx="218.2" cy="176.5" r="2.2" fill="#3f9fd0"/><circle cx="187.2" cy="209.4" r="2.4" fill="#58b890"/><circle cx="210.4" cy="211.3" r="2.5" fill="#38e242"/><circle cx="176.1" cy="207.6" r="2.0" fill="#34ec40"/><circle cx="224.2" cy="202.8" r="1.3" fill="#2fd83a"/><circle cx="204.1" cy="163.4" r="1.7" fill="#34ec40"/><circle cx="203.9" cy="205.3" r="2.5" fill="#828282"/><circle cx="192.1" cy="217.5" r="2.4" fill="#38e242"/><circle cx="178.6" cy="208.0" r="2.6" fill="#2fd83a"/><circle cx="176.1" cy="188.6" r="1.8" fill="#4af04e"/><circle cx="175.8" cy="205.2" r="1.8" fill="#6cee38"/><circle cx="189.3" cy="170.7" r="2.1" fill="#38e242"/><circle cx="173.1" cy="200.3" r="1.7" fill="#34ec40"/><circle cx="195.5" cy="211.8" r="1.8" fill="#58b890"/><circle cx="193.9" cy="170.5" r="2.2" fill="#2cd83e"/><circle cx="203.4" cy="166.8" r="1.3" fill="#26dc38"/><circle cx="169.1" cy="198.6" r="1.3" fill="#38e242"/><circle cx="193.8" cy="172.1" r="1.8" fill="#4acb5a"/><circle cx="189.8" cy="218.0" r="1.3" fill="#6cee38"/><circle cx="205.4" cy="209.5" r="1.6" fill="#33dd44"/><circle cx="203.0" cy="175.1" r="2.0" fill="#4acb5a"/><circle cx="171.5" cy="212.9" r="2.5" fill="#90f644"/><circle cx="175.8" cy="210.7" r="2.2" fill="#6cee38"/><circle cx="205.8" cy="217.1" r="2.0" fill="#2cd83e"/><circle cx="200.6" cy="178.3" r="1.4" fill="#6aa890"/><circle cx="194.5" cy="216.4" r="1.6" fill="#90f644"/><circle cx="224.3" cy="195.8" r="1.5" fill="#2fd83a"/><circle cx="209.8" cy="217.2" r="2.2" fill="#2cd83e"/><circle cx="226.8" cy="204.2" r="2.1" fill="#4a7fe0"/><circle cx="217.0" cy="192.4" r="2.0" fill="#2fd83a"/><circle cx="211.8" cy="206.5" r="2.3" fill="#33dd44"/><circle cx="186.8" cy="179.2" r="1.6" fill="#6aa890"/><circle cx="198.3" cy="172.6" r="2.6" fill="#4acb5a"/><circle cx="212.0" cy="209.3" r="1.8" fill="#2cd83e"/><circle cx="210.5" cy="207.8" r="2.3" fill="#33dd44"/><circle cx="197.1" cy="165.2" r="1.2" fill="#26dc38"/><circle cx="180.2" cy="174.6" r="1.9" fill="#5a6ae0"/><circle cx="183.2" cy="173.0" r="2.6" fill="#3f7fe0"/><circle cx="210.3" cy="171.2" r="2.3" fill="#4af04e"/><circle cx="220.8" cy="192.8" r="2.4" fill="#40b0c0"/><circle cx="174.1" cy="182.5" r="1.6" fill="#4af04e"/><circle cx="185.5" cy="205.7" r="2.6" fill="#828282"/><circle cx="173.6" cy="197.0" r="2.3" fill="#80f43e"/><circle cx="199.6" cy="171.4" r="1.5" fill="#4af04e"/><circle cx="168.5" cy="207.2" r="2.1" fill="#80f43e"/><circle cx="214.4" cy="191.3" r="2.5" fill="#78b088"/><circle cx="198.9" cy="176.3" r="1.5" fill="#78b088"/><circle cx="168.8" cy="186.1" r="1.6" fill="#38e242"/><circle cx="190.8" cy="217.8" r="1.4" fill="#4af04e"/><circle cx="199.9" cy="209.5" r="1.8" fill="#78b088"/><circle cx="176.1" cy="185.7" r="1.7" fill="#34ec40"/><circle cx="197.3" cy="178.2" r="2.3" fill="#7c7c7c"/><circle cx="220.1" cy="179.4" r="1.7" fill="#2fd83a"/><circle cx="185.3" cy="166.2" r="1.7" fill="#c050d0"/><circle cx="172.5" cy="191.0" r="1.5" fill="#80f43e"/><circle cx="185.8" cy="170.9" r="1.7" fill="#c050d0"/><circle cx="218.7" cy="187.4" r="2.2" fill="#40b0c0"/><circle cx="213.0" cy="169.4" r="2.3" fill="#26dc38"/><circle cx="220.4" cy="202.8" r="2.2" fill="#3f9fd0"/><circle cx="182.3" cy="199.8" r="2.1" fill="#828282"/><circle cx="169.9" cy="185.9" r="2.3" fill="#38e242"/><circle cx="185.8" cy="207.0" r="1.3" fill="#828282"/><circle cx="182.2" cy="167.0" r="1.6" fill="#3f7fe0"/><circle cx="178.1" cy="196.9" r="2.4" fill="#2fd83a"/><circle cx="218.6" cy="200.1" r="1.7" fill="#4acb5a"/><circle cx="213.4" cy="180.4" r="1.5" fill="#2fd83a"/><circle cx="195.6" cy="219.4" r="1.4" fill="#38e242"/><circle cx="172.2" cy="195.9" r="2.4" fill="#80f43e"/><circle cx="209.9" cy="215.1" r="1.3" fill="#2cd83e"/><circle cx="191.3" cy="223.5" r="1.5" fill="#38e242"/><circle cx="181.4" cy="216.7" r="2.3" fill="#6cee38"/><circle cx="192.5" cy="171.1" r="2.5" fill="#34ec40"/><circle cx="178.6" cy="169.4" r="1.9" fill="#3f7fe0"/><circle cx="210.0" cy="218.4" r="2.4" fill="#26dc38"/><circle cx="174.7" cy="183.7" r="2.5" fill="#4af04e"/><circle cx="182.3" cy="200.4" r="1.6" fill="#828282"/><circle cx="173.8" cy="192.6" r="1.2" fill="#34ec40"/><circle cx="191.5" cy="163.6" r="2.3" fill="#2cd83e"/><circle cx="208.9" cy="178.9" r="1.6" fill="#2fd83a"/><circle cx="191.0" cy="169.1" r="2.6" fill="#3f7fe0"/><circle cx="194.9" cy="169.4" r="2.4" fill="#38e242"/><circle cx="224.3" cy="193.4" r="1.2" fill="#9a70d0"/><circle cx="223.6" cy="186.8" r="2.3" fill="#2fd83a"/><circle cx="188.8" cy="211.9" r="2.0" fill="#58b890"/><circle cx="182.0" cy="200.8" r="1.8" fill="#78b088"/><circle cx="196.8" cy="210.4" r="1.4" fill="#828282"/><circle cx="224.1" cy="197.8" r="1.6" fill="#3f9fd0"/><circle cx="213.0" cy="215.8" r="2.5" fill="#2cd83e"/><circle cx="169.6" cy="191.8" r="1.5" fill="#34ec40"/><circle cx="217.0" cy="197.2" r="2.0" fill="#5ac47a"/><circle cx="177.9" cy="204.7" r="1.9" fill="#58b890"/><circle cx="219.7" cy="178.0" r="2.6" fill="#40b0c0"/><circle cx="167.0" cy="206.1" r="2.2" fill="#80f43e"/><circle cx="199.7" cy="222.4" r="1.2" fill="#4af04e"/><circle cx="171.7" cy="193.8" r="1.7" fill="#6cee38"/><circle cx="180.6" cy="180.7" r="1.4" fill="#38e242"/><circle cx="213.9" cy="169.6" r="2.3" fill="#4af04e"/><circle cx="222.1" cy="187.1" r="1.8" fill="#38c8a0"/><circle cx="205.7" cy="215.0" r="2.4" fill="#26dc38"/><circle cx="214.9" cy="193.6" r="1.5" fill="#8a8a8a"/><circle cx="196.7" cy="173.2" r="2.1" fill="#5ac47a"/><circle cx="177.3" cy="177.9" r="2.2" fill="#3f7fe0"/><circle cx="193.1" cy="221.0" r="2.3" fill="#90f644"/><circle cx="212.7" cy="207.8" r="1.5" fill="#34ec40"/><circle cx="213.5" cy="196.5" r="1.2" fill="#767676"/><circle cx="168.9" cy="191.8" r="1.6" fill="#6cee38"/><circle cx="182.3" cy="190.4" r="2.3" fill="#7c7c7c"/><circle cx="181.8" cy="211.8" r="1.9" fill="#38e242"/><circle cx="186.2" cy="183.1" r="1.3" fill="#8a8a8a"/><circle cx="187.8" cy="170.8" r="2.5" fill="#38e242"/><circle cx="199.1" cy="215.6" r="2.5" fill="#4af04e"/><circle cx="173.5" cy="192.3" r="1.5" fill="#4af04e"/><circle cx="203.2" cy="208.9" r="1.7" fill="#767676"/><circle cx="192.7" cy="210.3" r="1.6" fill="#78b088"/><circle cx="197.5" cy="165.6" r="2.6" fill="#2cd83e"/><circle cx="171.1" cy="213.9" r="1.3" fill="#4af04e"/><circle cx="218.3" cy="196.6" r="2.0" fill="#58b890"/><circle cx="176.1" cy="213.8" r="1.3" fill="#80f43e"/><circle cx="185.1" cy="184.7" r="2.4" fill="#828282"/><circle cx="182.6" cy="170.5" r="2.0" fill="#b048c8"/><circle cx="209.3" cy="210.8" r="1.3" fill="#4af04e"/><circle cx="177.4" cy="218.1" r="1.5" fill="#4af04e"/><circle cx="180.5" cy="176.7" r="2.3" fill="#b048c8"/><circle cx="217.9" cy="171.0" r="2.5" fill="#34ec40"/><circle cx="169.7" cy="191.9" r="1.6" fill="#4af04e"/><circle cx="186.9" cy="181.1" r="2.3" fill="#8a8a8a"/><circle cx="209.8" cy="180.0" r="2.1" fill="#58b890"/><circle cx="189.5" cy="166.0" r="2.3" fill="#2fd83a"/><circle cx="212.7" cy="204.3" r="1.5" fill="#33dd44"/><circle cx="172.2" cy="191.0" r="1.5" fill="#6cee38"/><circle cx="183.6" cy="208.6" r="1.3" fill="#33dd44"/><circle cx="196.8" cy="218.1" r="1.7" fill="#34ec40"/><circle cx="193.1" cy="220.7" r="2.2" fill="#90f644"/><circle cx="192.2" cy="221.3" r="2.5" fill="#4af04e"/><circle cx="219.4" cy="191.3" r="1.6" fill="#2cd83e"/><circle cx="201.5" cy="211.0" r="2.0" fill="#2fd83a"/><circle cx="213.9" cy="186.0" r="2.4" fill="#5ac47a"/><circle cx="169.8" cy="193.9" r="1.8" fill="#80f43e"/><circle cx="172.9" cy="212.0" r="2.3" fill="#38e242"/><circle cx="195.4" cy="214.9" r="2.4" fill="#33dd44"/><circle cx="219.1" cy="206.2" r="1.3" fill="#38c8a0"/><circle cx="203.4" cy="213.5" r="1.3" fill="#26dc38"/><circle cx="168.8" cy="192.4" r="2.0" fill="#6cee38"/><circle cx="226.8" cy="200.7" r="1.8" fill="#3f9fd0"/><circle cx="188.0" cy="175.8" r="2.5" fill="#58b890"/><circle cx="201.8" cy="166.0" r="2.2" fill="#26dc38"/><circle cx="196.6" cy="165.4" r="1.7" fill="#34ec40"/><circle cx="203.6" cy="164.8" r="2.1" fill="#2cd83e"/><circle cx="217.2" cy="192.4" r="1.8" fill="#2fd83a"/><circle cx="185.5" cy="176.6" r="1.3" fill="#4acb5a"/><circle cx="174.6" cy="203.2" r="2.0" fill="#38e242"/><circle cx="212.1" cy="189.8" r="2.4" fill="#828282"/><circle cx="210.5" cy="187.0" r="2.2" fill="#767676"/><circle cx="175.2" cy="198.6" r="2.2" fill="#5ac47a"/><circle cx="177.4" cy="192.8" r="2.4" fill="#5ac47a"/><circle cx="225.2" cy="204.7" r="1.9" fill="#4a7fe0"/><circle cx="191.0" cy="176.2" r="2.6" fill="#78b088"/><circle cx="169.8" cy="212.4" r="1.2" fill="#6cee38"/><circle cx="205.9" cy="175.2" r="2.0" fill="#58b890"/><circle cx="201.5" cy="212.8" r="2.4" fill="#2fd83a"/><circle cx="175.8" cy="197.1" r="2.1" fill="#58b890"/><circle cx="218.5" cy="172.1" r="1.9" fill="#38c8a0"/><circle cx="207.7" cy="213.6" r="1.3" fill="#4af04e"/><circle cx="194.2" cy="165.9" r="1.9" fill="#34ec40"/><circle cx="195.2" cy="175.7" r="2.3" fill="#7c7c7c"/><circle cx="201.2" cy="174.9" r="1.4" fill="#58b890"/><circle cx="170.0" cy="206.2" r="2.0" fill="#6cee38"/><circle cx="207.2" cy="176.8" r="2.0" fill="#58b890"/><circle cx="178.8" cy="207.8" r="2.2" fill="#4acb5a"/><circle cx="187.8" cy="214.2" r="1.4" fill="#6cee38"/><circle cx="182.9" cy="183.6" r="2.4" fill="#4acb5a"/><circle cx="200.6" cy="164.4" r="1.9" fill="#34ec40"/><circle cx="178.1" cy="202.1" r="1.5" fill="#33dd44"/><circle cx="212.5" cy="186.6" r="1.2" fill="#828282"/><circle cx="207.4" cy="218.6" r="2.2" fill="#2cd83e"/><circle cx="180.5" cy="186.7" r="2.6" fill="#33dd44"/><circle cx="183.0" cy="182.8" r="1.9" fill="#2fd83a"/><circle cx="200.5" cy="178.3" r="1.7" fill="#6aa890"/><circle cx="222.9" cy="190.6" r="2.1" fill="#40b0c0"/><circle cx="225.9" cy="187.9" r="2.0" fill="#38c8a0"/>
</g>
<g filter="url(#tumg)"><polygon points="214.0,192.2 212.7,198.9 209.1,204.6 203.8,208.5 197.4,209.8 191.0,208.5 185.7,204.6 182.1,198.9 180.8,192.2 182.1,185.5 185.7,179.8 191.0,175.9 197.4,174.6 203.8,175.9 209.1,179.8 212.7,185.5" fill="#828282"/></g>
<g filter="url(#corefx)"><polygon points="188.5,190.0 192.5,187.6 196.0,190.8 199.0,187.0 202.0,188.5 204.5,192.5 206.0,196.8 202.5,197.8 201.0,201.8 197.5,199.5 194.0,200.2 191.0,198.0 188.2,196.0 190.5,193.0" fill="#050505"/></g>
<rect x="219.5" y="217.8" width="41.10" height="37.80" fill="#141414"/>
<rect x="219.5" y="217.8" width="41.10" height="37.80" fill="#fff" filter="url(#speckA)"/>
<polyline points="219.5,255.6 219.5,217.8 260.6,217.8" fill="none" stroke="#d8d8d8" stroke-width="1"/>
<circle cx="241.1" cy="238.4" r="12.2" fill="#050505" stroke="#2cd444" stroke-width="1.4"/>
<circle cx="241.1" cy="238.4" r="13.4" fill="none" stroke="#0c4a16" stroke-width="1.2" opacity="0.85"/>
<circle cx="227.3" cy="224.2" r="5.6" fill="#fff"/>
<text x="227.30" y="227.20" font-size="8.4" font-weight="bold" fill="#222" text-anchor="middle" >S</text>
<circle cx="146" cy="142.9" r="8.2" fill="#ee2211"/>
<text x="146.00" y="146.90" font-size="11.5" font-weight="bold" fill="#fff" text-anchor="middle" >2</text>
<text x="248.60" y="142.20" font-size="12" font-weight="bold" fill="#fff" text-anchor="start" >D</text>
</g>
<g id="panelD3">
<rect x="134" y="257" width="126.70" height="124.30" fill="#141414"/>
<rect x="134" y="257" width="126.70" height="124.30" fill="#fff" filter="url(#speckB)"/>
<g filter="url(#tum)">
<polygon points="174.6,274.5 187.1,272.9 194.9,283.9 205.9,282.3 218.4,285.4 230.9,287.0 235.6,302.6 237.1,318.2 230.9,333.9 221.5,340.1 218.4,349.5 207.4,354.2 194.9,354.2 193.4,366.7 180.9,369.8 173.1,355.8 159.0,347.9 149.6,340.1 146.5,327.6 141.8,318.2 148.1,302.6 162.1,290.1 165.2,279.2" fill="#5a48e0"/>
<circle cx="179.2" cy="339.2" r="2.7" fill="#7c7c7c"/><circle cx="192.8" cy="341.8" r="1.5" fill="#7c7c7c"/><circle cx="212.4" cy="337.1" r="1.6" fill="#8f92d0"/><circle cx="161.3" cy="330.4" r="1.3" fill="#8a8aa8"/><circle cx="231.4" cy="311.9" r="1.6" fill="#8a96e0"/><circle cx="165.3" cy="343.1" r="2.2" fill="#8890d8"/><circle cx="221.7" cy="307.3" r="1.5" fill="#9a9ae0"/><circle cx="217.7" cy="309.4" r="2.4" fill="#828282"/><circle cx="224.6" cy="336.0" r="1.6" fill="#38c870"/><circle cx="173.3" cy="352.2" r="1.4" fill="#5a58e8"/><circle cx="173.8" cy="305.3" r="2.0" fill="#8890d8"/><circle cx="162.1" cy="345.5" r="2.5" fill="#9a4ce8"/><circle cx="171.0" cy="290.0" r="2.7" fill="#b048e0"/><circle cx="221.7" cy="301.5" r="1.6" fill="#8f92d0"/><circle cx="229.6" cy="331.2" r="2.7" fill="#4a4ae0"/><circle cx="205.6" cy="300.5" r="2.3" fill="#8a8a8a"/><circle cx="185.1" cy="350.5" r="1.9" fill="#5a60e0"/><circle cx="190.6" cy="356.3" r="2.0" fill="#c850e8"/><circle cx="188.1" cy="350.2" r="2.8" fill="#5a60e0"/><circle cx="214.9" cy="297.6" r="1.8" fill="#5a60e0"/><circle cx="168.7" cy="290.0" r="1.5" fill="#e040e0"/><circle cx="190.7" cy="341.7" r="1.9" fill="#8f92c8"/><circle cx="191.7" cy="342.4" r="1.8" fill="#767676"/><circle cx="219.9" cy="304.5" r="1.5" fill="#6a70e0"/><circle cx="216.4" cy="345.1" r="2.3" fill="#30d060"/><circle cx="197.0" cy="289.0" r="2.4" fill="#8a8aa8"/><circle cx="161.6" cy="296.7" r="1.6" fill="#f050e8"/><circle cx="226.6" cy="302.6" r="1.7" fill="#a0a8e0"/><circle cx="216.0" cy="344.1" r="1.4" fill="#7a88e0"/><circle cx="186.8" cy="353.1" r="1.7" fill="#7a80d8"/><circle cx="176.5" cy="311.8" r="1.9" fill="#767676"/><circle cx="160.7" cy="293.7" r="1.7" fill="#f050e8"/><circle cx="226.4" cy="316.7" r="2.3" fill="#7a80d8"/><circle cx="181.6" cy="279.5" r="1.7" fill="#d838d8"/><circle cx="187.0" cy="273.4" r="1.7" fill="#4040e8"/><circle cx="167.8" cy="300.4" r="2.2" fill="#9a4ce8"/><circle cx="180.2" cy="348.2" r="1.7" fill="#9a9ae0"/><circle cx="155.4" cy="334.2" r="2.6" fill="#3c3ce0"/><circle cx="205.7" cy="341.5" r="1.9" fill="#8c8c8c"/><circle cx="193.5" cy="364.1" r="2.1" fill="#e848d8"/><circle cx="223.6" cy="302.8" r="1.9" fill="#58a8d0"/><circle cx="181.0" cy="361.3" r="2.8" fill="#f050e8"/><circle cx="165.5" cy="320.5" r="1.5" fill="#8890d8"/><circle cx="146.1" cy="312.5" r="2.6" fill="#b048e0"/><circle cx="167.7" cy="346.4" r="2.7" fill="#8c8c8c"/><circle cx="174.1" cy="289.3" r="2.0" fill="#4040e8"/><circle cx="179.2" cy="357.2" r="1.9" fill="#b048e0"/><circle cx="181.6" cy="364.4" r="1.4" fill="#e848d8"/><circle cx="180.1" cy="352.0" r="2.5" fill="#b048e0"/><circle cx="232.9" cy="322.9" r="1.9" fill="#6a7ae8"/><circle cx="194.8" cy="348.9" r="1.4" fill="#5a60e0"/><circle cx="224.8" cy="302.6" r="2.6" fill="#4a4ae0"/><circle cx="153.7" cy="309.8" r="1.7" fill="#5050f0"/><circle cx="198.8" cy="352.4" r="1.8" fill="#e848d8"/><circle cx="159.6" cy="294.8" r="2.5" fill="#f050e8"/><circle cx="171.4" cy="337.3" r="1.9" fill="#767676"/><circle cx="218.0" cy="325.4" r="2.0" fill="#767676"/><circle cx="155.5" cy="315.2" r="1.4" fill="#5050f0"/><circle cx="222.5" cy="326.1" r="1.5" fill="#6a70e0"/><circle cx="214.9" cy="298.5" r="2.5" fill="#7a80d8"/><circle cx="166.5" cy="280.2" r="1.6" fill="#c850e8"/><circle cx="207.4" cy="286.7" r="2.4" fill="#b048e0"/><circle cx="210.3" cy="344.6" r="2.0" fill="#8890d8"/><circle cx="159.0" cy="317.5" r="2.3" fill="#9a4ce8"/><circle cx="197.5" cy="350.5" r="2.6" fill="#e848d8"/><circle cx="220.3" cy="305.5" r="1.9" fill="#5a60e0"/><circle cx="214.5" cy="342.7" r="2.6" fill="#58a8d0"/><circle cx="157.2" cy="341.5" r="2.2" fill="#e848d8"/><circle cx="174.8" cy="356.0" r="2.4" fill="#4040e8"/><circle cx="228.2" cy="331.0" r="1.6" fill="#7a88e0"/><circle cx="222.6" cy="306.6" r="1.7" fill="#8f92d0"/><circle cx="191.0" cy="366.2" r="2.5" fill="#5a58e8"/><circle cx="148.0" cy="312.0" r="1.7" fill="#4848e0"/><circle cx="169.2" cy="347.3" r="1.8" fill="#4040e8"/><circle cx="176.0" cy="312.9" r="2.8" fill="#8088c0"/><circle cx="209.6" cy="334.1" r="2.7" fill="#7c7c7c"/><circle cx="195.9" cy="287.3" r="2.3" fill="#4848e0"/><circle cx="174.6" cy="288.5" r="2.3" fill="#5a58e8"/><circle cx="231.3" cy="299.8" r="2.3" fill="#6a7ae8"/><circle cx="186.2" cy="342.3" r="1.6" fill="#767676"/><circle cx="198.4" cy="353.2" r="1.4" fill="#e848d8"/><circle cx="206.7" cy="348.2" r="2.0" fill="#5a58e8"/><circle cx="146.6" cy="311.1" r="2.4" fill="#7050e8"/><circle cx="179.6" cy="281.4" r="1.5" fill="#d838d8"/><circle cx="154.0" cy="336.6" r="2.1" fill="#4848e0"/><circle cx="174.4" cy="298.1" r="2.3" fill="#3c3ce0"/><circle cx="227.6" cy="311.6" r="2.3" fill="#5a60e0"/><circle cx="178.4" cy="302.2" r="1.4" fill="#8f92d0"/><circle cx="177.2" cy="288.6" r="1.9" fill="#3c3ce0"/><circle cx="165.9" cy="279.6" r="2.0" fill="#d838d8"/><circle cx="170.8" cy="315.5" r="1.5" fill="#7a80d8"/><circle cx="146.8" cy="328.0" r="2.6" fill="#c850e8"/><circle cx="177.7" cy="353.4" r="1.8" fill="#3c3ce0"/><circle cx="220.1" cy="308.7" r="2.6" fill="#8c8c8c"/><circle cx="230.0" cy="323.2" r="1.6" fill="#a0a8e0"/><circle cx="174.5" cy="349.9" r="2.2" fill="#4848e0"/><circle cx="179.4" cy="307.0" r="2.1" fill="#767676"/><circle cx="215.9" cy="338.6" r="2.4" fill="#9a9ae0"/><circle cx="174.4" cy="352.5" r="2.3" fill="#3c3ce0"/><circle cx="179.7" cy="300.8" r="1.6" fill="#6a70e0"/><circle cx="172.0" cy="281.9" r="2.2" fill="#e848d8"/><circle cx="224.0" cy="335.2" r="1.5" fill="#58a8c8"/><circle cx="218.7" cy="327.0" r="1.4" fill="#8088c0"/><circle cx="165.7" cy="307.2" r="2.0" fill="#c850e8"/><circle cx="220.1" cy="327.5" r="2.8" fill="#9a9ae0"/><circle cx="230.0" cy="303.6" r="2.5" fill="#a0a8e0"/><circle cx="149.9" cy="329.4" r="1.6" fill="#f050e8"/><circle cx="182.3" cy="361.1" r="2.2" fill="#7050e8"/><circle cx="212.6" cy="294.9" r="2.6" fill="#8a8aa8"/><circle cx="191.0" cy="341.4" r="1.7" fill="#8088c0"/><circle cx="193.9" cy="296.0" r="1.9" fill="#8a8a8a"/><circle cx="166.0" cy="291.0" r="2.4" fill="#e040e0"/><circle cx="224.4" cy="328.8" r="2.6" fill="#8a8aa8"/><circle cx="210.6" cy="335.2" r="2.2" fill="#8a8a8a"/><circle cx="213.3" cy="335.1" r="2.3" fill="#8890d8"/><circle cx="223.0" cy="326.2" r="1.6" fill="#7a80d8"/><circle cx="228.9" cy="290.5" r="1.7" fill="#4a4ae0"/><circle cx="180.9" cy="363.4" r="1.3" fill="#f050e8"/><circle cx="159.8" cy="348.2" r="1.3" fill="#5a58e8"/><circle cx="177.4" cy="275.9" r="1.7" fill="#f050e8"/><circle cx="232.6" cy="296.6" r="2.0" fill="#58a8d0"/><circle cx="204.3" cy="353.5" r="1.7" fill="#7050e8"/><circle cx="188.9" cy="286.0" r="2.5" fill="#b048e0"/><circle cx="223.4" cy="291.8" r="2.4" fill="#6a7ae8"/><circle cx="214.1" cy="331.2" r="2.5" fill="#8a8a8a"/><circle cx="204.1" cy="297.3" r="1.7" fill="#8c8c8c"/><circle cx="163.5" cy="331.1" r="1.8" fill="#9a9ae0"/><circle cx="196.5" cy="350.9" r="2.0" fill="#e040e0"/><circle cx="235.3" cy="315.1" r="2.3" fill="#5560e0"/><circle cx="226.5" cy="309.4" r="2.0" fill="#5a60e0"/><circle cx="166.7" cy="301.6" r="1.8" fill="#e848d8"/><circle cx="208.1" cy="301.5" r="2.8" fill="#7c7c7c"/><circle cx="206.6" cy="296.2" r="1.3" fill="#5a60e0"/><circle cx="233.7" cy="309.3" r="2.1" fill="#6a7ae8"/><circle cx="201.2" cy="344.5" r="1.7" fill="#5a60e0"/><circle cx="234.3" cy="312.4" r="2.6" fill="#4a4ae0"/><circle cx="198.0" cy="300.4" r="2.7" fill="#8088c0"/><circle cx="179.4" cy="277.6" r="2.7" fill="#c850e8"/><circle cx="190.1" cy="290.5" r="1.9" fill="#9a9ae0"/><circle cx="159.4" cy="296.5" r="2.6" fill="#d838d8"/><circle cx="164.4" cy="347.0" r="1.9" fill="#b048e0"/><circle cx="167.8" cy="292.7" r="2.5" fill="#e848d8"/><circle cx="193.4" cy="360.2" r="2.0" fill="#4848e0"/><circle cx="209.4" cy="345.6" r="1.8" fill="#8890d8"/><circle cx="223.7" cy="310.5" r="2.4" fill="#8a8aa8"/><circle cx="178.3" cy="280.7" r="1.6" fill="#d838d8"/><circle cx="191.4" cy="362.3" r="2.2" fill="#5050f0"/><circle cx="160.6" cy="334.6" r="2.8" fill="#8f92d0"/><circle cx="189.5" cy="346.5" r="1.9" fill="#7a80d8"/><circle cx="165.7" cy="348.7" r="1.4" fill="#e848d8"/><circle cx="167.4" cy="326.1" r="2.7" fill="#828282"/><circle cx="223.5" cy="313.7" r="1.5" fill="#6a70e0"/><circle cx="226.9" cy="299.3" r="1.9" fill="#5560e0"/><circle cx="209.8" cy="343.6" r="1.5" fill="#8890d8"/><circle cx="164.5" cy="331.9" r="1.6" fill="#8a8aa8"/><circle cx="161.9" cy="310.6" r="1.4" fill="#7050e8"/><circle cx="224.4" cy="317.3" r="1.8" fill="#8f92d0"/><circle cx="230.0" cy="332.6" r="1.5" fill="#6a7ae8"/><circle cx="166.2" cy="300.1" r="1.3" fill="#b048e0"/><circle cx="151.2" cy="332.6" r="2.1" fill="#e848d8"/><circle cx="235.4" cy="302.7" r="1.7" fill="#a0a8e0"/><circle cx="175.2" cy="348.6" r="1.6" fill="#8c8c8c"/><circle cx="164.3" cy="316.7" r="2.8" fill="#8890d8"/><circle cx="187.9" cy="284.3" r="1.6" fill="#e040e0"/><circle cx="205.0" cy="285.5" r="1.6" fill="#3c3ce0"/><circle cx="173.8" cy="304.9" r="2.1" fill="#8890d8"/><circle cx="182.7" cy="351.6" r="2.4" fill="#8890d8"/><circle cx="190.4" cy="280.6" r="2.7" fill="#5a58e8"/><circle cx="176.8" cy="340.5" r="2.0" fill="#767676"/><circle cx="166.4" cy="285.9" r="2.3" fill="#f050e8"/><circle cx="164.7" cy="336.2" r="2.7" fill="#9a9ae0"/><circle cx="179.0" cy="274.3" r="2.3" fill="#f050e8"/><circle cx="182.7" cy="297.6" r="1.3" fill="#8a8aa8"/><circle cx="207.8" cy="286.1" r="1.7" fill="#5a58e8"/><circle cx="159.1" cy="314.5" r="2.5" fill="#5050f0"/><circle cx="157.5" cy="321.2" r="2.1" fill="#7050e8"/><circle cx="215.5" cy="304.5" r="1.8" fill="#8c8c8c"/><circle cx="189.9" cy="292.2" r="1.6" fill="#8f92d0"/><circle cx="208.7" cy="352.8" r="1.8" fill="#d838d8"/><circle cx="208.0" cy="288.7" r="1.9" fill="#7a88e0"/><circle cx="215.6" cy="348.0" r="2.7" fill="#30d060"/><circle cx="143.5" cy="319.1" r="2.3" fill="#3c3ce0"/><circle cx="171.3" cy="294.4" r="1.4" fill="#5050f0"/><circle cx="215.6" cy="297.6" r="2.2" fill="#8890d8"/><circle cx="224.7" cy="336.7" r="2.4" fill="#38c870"/><circle cx="200.6" cy="340.5" r="2.7" fill="#8088c0"/><circle cx="220.3" cy="327.2" r="1.9" fill="#9a9ae0"/><circle cx="171.9" cy="330.3" r="1.5" fill="#767676"/><circle cx="229.7" cy="313.8" r="2.1" fill="#4a4ae0"/><circle cx="216.9" cy="302.5" r="2.6" fill="#8a8aa8"/><circle cx="193.8" cy="345.3" r="2.0" fill="#8f92d0"/><circle cx="219.3" cy="338.4" r="2.6" fill="#30d060"/><circle cx="170.2" cy="354.0" r="1.6" fill="#d838d8"/><circle cx="169.0" cy="345.0" r="2.0" fill="#8a8aa8"/><circle cx="172.8" cy="289.8" r="1.5" fill="#4848e0"/><circle cx="210.2" cy="339.5" r="2.5" fill="#8890d8"/><circle cx="225.7" cy="331.4" r="2.2" fill="#8a8aa8"/><circle cx="189.5" cy="285.1" r="2.1" fill="#9a4ce8"/><circle cx="211.5" cy="334.9" r="2.3" fill="#7c7c7c"/><circle cx="158.1" cy="319.3" r="1.5" fill="#9a4ce8"/><circle cx="208.5" cy="288.4" r="2.4" fill="#58a8d0"/><circle cx="173.9" cy="299.3" r="1.8" fill="#5050f0"/><circle cx="183.8" cy="292.4" r="1.4" fill="#8f92d0"/><circle cx="152.6" cy="336.2" r="1.9" fill="#b048e0"/><circle cx="171.7" cy="311.4" r="2.3" fill="#8c8c8c"/><circle cx="206.2" cy="353.3" r="2.5" fill="#7050e8"/><circle cx="217.1" cy="338.7" r="1.8" fill="#8f92d0"/><circle cx="182.5" cy="306.4" r="2.1" fill="#828282"/><circle cx="183.7" cy="360.2" r="1.4" fill="#b048e0"/><circle cx="182.5" cy="291.1" r="1.6" fill="#e848d8"/><circle cx="156.2" cy="341.9" r="1.6" fill="#e848d8"/><circle cx="159.8" cy="320.8" r="1.8" fill="#4040e8"/><circle cx="153.4" cy="319.0" r="1.6" fill="#f050e8"/><circle cx="220.8" cy="291.5" r="1.9" fill="#4a4ae0"/><circle cx="202.2" cy="351.3" r="1.6" fill="#5050f0"/><circle cx="174.1" cy="279.9" r="2.4" fill="#7050e8"/><circle cx="170.2" cy="343.8" r="2.0" fill="#5a60e0"/><circle cx="161.6" cy="308.0" r="1.8" fill="#3c3ce0"/><circle cx="178.4" cy="359.4" r="1.3" fill="#b048e0"/><circle cx="187.3" cy="344.8" r="2.7" fill="#8a8a8a"/><circle cx="227.9" cy="327.4" r="2.7" fill="#5560e0"/><circle cx="158.6" cy="345.7" r="1.6" fill="#9a4ce8"/><circle cx="178.3" cy="276.1" r="1.7" fill="#f050e8"/><circle cx="170.5" cy="351.0" r="2.3" fill="#9a4ce8"/><circle cx="168.9" cy="349.3" r="1.6" fill="#7050e8"/><circle cx="183.7" cy="296.7" r="2.4" fill="#7a80d8"/><circle cx="204.5" cy="295.4" r="1.6" fill="#5a60e0"/><circle cx="170.9" cy="327.6" r="2.6" fill="#8a8a8a"/><circle cx="224.4" cy="298.6" r="1.7" fill="#4a4ae0"/><circle cx="190.5" cy="278.5" r="2.0" fill="#3c3ce0"/><circle cx="218.4" cy="332.2" r="2.0" fill="#5a60e0"/><circle cx="210.1" cy="290.7" r="2.4" fill="#5560e0"/><circle cx="183.5" cy="365.7" r="1.9" fill="#e848d8"/><circle cx="156.3" cy="309.3" r="1.9" fill="#5050f0"/><circle cx="193.0" cy="361.6" r="2.6" fill="#5050f0"/><circle cx="170.5" cy="343.7" r="1.5" fill="#8f92d0"/><circle cx="167.8" cy="348.4" r="2.4" fill="#b048e0"/><circle cx="166.6" cy="320.6" r="1.9" fill="#8a8aa8"/><circle cx="171.3" cy="338.7" r="2.7" fill="#8c8c8c"/><circle cx="213.2" cy="345.5" r="2.2" fill="#e848d8"/><circle cx="171.8" cy="292.1" r="2.5" fill="#4848e0"/><circle cx="154.8" cy="303.7" r="2.2" fill="#c850e8"/><circle cx="192.7" cy="356.7" r="2.6" fill="#7050e8"/><circle cx="161.3" cy="314.1" r="1.8" fill="#c850e8"/><circle cx="175.0" cy="281.7" r="1.4" fill="#b048e0"/><circle cx="208.9" cy="336.8" r="1.5" fill="#8f92c8"/><circle cx="221.5" cy="293.2" r="2.7" fill="#a0a8e0"/><circle cx="225.3" cy="321.3" r="1.5" fill="#8a8aa8"/><circle cx="150.8" cy="340.6" r="1.3" fill="#d838d8"/><circle cx="148.4" cy="306.3" r="2.7" fill="#c850e8"/><circle cx="195.1" cy="343.0" r="2.8" fill="#8f92c8"/><circle cx="218.8" cy="301.3" r="2.6" fill="#8c8c8c"/><circle cx="167.7" cy="299.0" r="2.1" fill="#7050e8"/><circle cx="188.8" cy="296.6" r="2.4" fill="#8a8a8a"/><circle cx="193.7" cy="283.8" r="2.6" fill="#c850e8"/><circle cx="234.7" cy="311.4" r="2.2" fill="#7a88e0"/><circle cx="210.1" cy="347.5" r="1.7" fill="#b048e0"/><circle cx="193.4" cy="352.4" r="2.5" fill="#b048e0"/><circle cx="175.4" cy="335.8" r="2.6" fill="#828282"/><circle cx="167.6" cy="326.8" r="2.0" fill="#8a8a8a"/><circle cx="173.1" cy="352.5" r="2.8" fill="#4040e8"/><circle cx="210.5" cy="299.7" r="2.7" fill="#7c7c7c"/><circle cx="235.7" cy="308.1" r="1.4" fill="#a0a8e0"/><circle cx="172.9" cy="328.8" r="1.7" fill="#8a8a8a"/><circle cx="217.8" cy="347.4" r="2.1" fill="#38c870"/><circle cx="231.5" cy="320.9" r="2.2" fill="#58a8d0"/><circle cx="174.4" cy="279.1" r="2.8" fill="#9a4ce8"/><circle cx="180.1" cy="279.2" r="2.0" fill="#e848d8"/><circle cx="152.6" cy="304.2" r="1.6" fill="#c850e8"/><circle cx="183.4" cy="279.5" r="2.0" fill="#e848d8"/><circle cx="223.3" cy="337.5" r="2.7" fill="#30d060"/><circle cx="191.0" cy="364.4" r="2.5" fill="#4848e0"/><circle cx="188.6" cy="286.1" r="2.5" fill="#9a4ce8"/><circle cx="186.6" cy="351.9" r="2.5" fill="#8890d8"/><circle cx="165.4" cy="334.6" r="2.6" fill="#9a9ae0"/><circle cx="179.4" cy="350.8" r="2.0" fill="#7a80d8"/><circle cx="227.8" cy="319.8" r="2.5" fill="#a0a8e0"/><circle cx="195.1" cy="286.0" r="1.4" fill="#3c3ce0"/><circle cx="213.1" cy="299.3" r="1.8" fill="#8a8aa8"/><circle cx="219.0" cy="339.0" r="2.1" fill="#38c870"/><circle cx="176.0" cy="312.5" r="1.8" fill="#7c7c7c"/><circle cx="189.0" cy="294.9" r="2.1" fill="#6a70e0"/><circle cx="179.4" cy="298.9" r="2.6" fill="#9a9ae0"/><circle cx="181.6" cy="302.3" r="2.0" fill="#8f92c8"/><circle cx="185.1" cy="288.3" r="2.4" fill="#7050e8"/><circle cx="205.8" cy="292.2" r="1.8" fill="#8c8c8c"/><circle cx="169.7" cy="280.8" r="1.4" fill="#f050e8"/><circle cx="175.1" cy="338.4" r="2.4" fill="#7c7c7c"/><circle cx="192.1" cy="349.0" r="2.7" fill="#8f92d0"/><circle cx="181.9" cy="368.8" r="2.6" fill="#d838d8"/><circle cx="180.3" cy="345.7" r="2.6" fill="#8c8c8c"/><circle cx="157.1" cy="330.9" r="2.8" fill="#4848e0"/><circle cx="154.8" cy="334.6" r="1.6" fill="#3c3ce0"/><circle cx="190.4" cy="363.5" r="1.6" fill="#5a58e8"/><circle cx="192.8" cy="292.3" r="2.1" fill="#5a60e0"/><circle cx="222.8" cy="306.7" r="2.3" fill="#6a70e0"/><circle cx="210.8" cy="331.3" r="1.6" fill="#8f92c8"/><circle cx="169.0" cy="285.4" r="1.6" fill="#e040e0"/><circle cx="156.2" cy="303.0" r="2.6" fill="#b048e0"/><circle cx="233.6" cy="326.8" r="2.1" fill="#8a96e0"/><circle cx="188.0" cy="289.0" r="2.5" fill="#9a9ae0"/><circle cx="229.3" cy="313.9" r="2.4" fill="#6a7ae8"/><circle cx="185.0" cy="340.7" r="2.2" fill="#7c7c7c"/><circle cx="166.0" cy="301.0" r="1.5" fill="#b048e0"/><circle cx="212.0" cy="289.8" r="1.9" fill="#7a88e0"/><circle cx="172.1" cy="314.7" r="2.4" fill="#8c8c8c"/><circle cx="180.6" cy="299.9" r="2.6" fill="#8c8c8c"/><circle cx="164.4" cy="320.2" r="2.4" fill="#7a80d8"/><circle cx="220.6" cy="331.1" r="1.7" fill="#5a60e0"/><circle cx="171.7" cy="308.9" r="1.8" fill="#8890d8"/><circle cx="158.4" cy="323.0" r="1.5" fill="#3c3ce0"/><circle cx="203.9" cy="300.5" r="2.4" fill="#828282"/><circle cx="173.7" cy="308.2" r="1.9" fill="#7a80d8"/><circle cx="171.6" cy="334.6" r="2.4" fill="#8f92c8"/><circle cx="215.5" cy="324.4" r="1.8" fill="#828282"/><circle cx="195.6" cy="293.1" r="1.7" fill="#5a60e0"/><circle cx="173.7" cy="337.6" r="1.4" fill="#767676"/><circle cx="224.3" cy="300.3" r="1.6" fill="#4a4ae0"/><circle cx="178.6" cy="297.5" r="1.3" fill="#9a9ae0"/><circle cx="152.9" cy="315.6" r="2.2" fill="#9a4ce8"/><circle cx="218.5" cy="302.3" r="2.5" fill="#5a60e0"/><circle cx="194.2" cy="284.0" r="1.3" fill="#e040e0"/><circle cx="155.5" cy="319.4" r="2.6" fill="#f050e8"/><circle cx="218.1" cy="342.3" r="2.4" fill="#58a8c8"/><circle cx="217.4" cy="299.8" r="2.3" fill="#8c8c8c"/><circle cx="220.1" cy="316.7" r="2.6" fill="#828282"/><circle cx="194.5" cy="350.3" r="1.7" fill="#8a8aa8"/><circle cx="219.1" cy="330.5" r="2.8" fill="#5a60e0"/><circle cx="181.4" cy="308.5" r="2.7" fill="#7c7c7c"/><circle cx="154.2" cy="302.7" r="1.5" fill="#f050e8"/><circle cx="206.3" cy="336.2" r="1.7" fill="#8088c0"/><circle cx="195.7" cy="295.9" r="1.8" fill="#8f92c8"/><circle cx="198.9" cy="343.8" r="1.7" fill="#5a60e0"/><circle cx="214.0" cy="341.8" r="2.1" fill="#9a9ae0"/><circle cx="223.7" cy="306.4" r="2.0" fill="#6a70e0"/><circle cx="188.5" cy="297.1" r="2.2" fill="#767676"/><circle cx="213.4" cy="304.7" r="1.7" fill="#767676"/><circle cx="159.9" cy="295.1" r="1.9" fill="#e040e0"/><circle cx="152.7" cy="301.7" r="1.8" fill="#d838d8"/><circle cx="220.8" cy="291.1" r="2.6" fill="#8a96e0"/><circle cx="167.2" cy="322.1" r="1.8" fill="#5a60e0"/><circle cx="229.2" cy="316.7" r="2.2" fill="#4a4ae0"/><circle cx="230.3" cy="328.2" r="2.1" fill="#8a96e0"/><circle cx="192.3" cy="348.2" r="2.1" fill="#9a9ae0"/><circle cx="178.5" cy="300.2" r="1.6" fill="#8890d8"/><circle cx="160.8" cy="309.0" r="2.4" fill="#5050f0"/><circle cx="202.4" cy="286.0" r="2.7" fill="#4848e0"/><circle cx="197.4" cy="342.2" r="2.5" fill="#767676"/><circle cx="211.3" cy="342.5" r="1.8" fill="#8f92d0"/><circle cx="162.5" cy="317.5" r="2.4" fill="#c850e8"/><circle cx="228.0" cy="320.2" r="1.7" fill="#7a88e0"/><circle cx="187.3" cy="277.9" r="2.0" fill="#4848e0"/><circle cx="168.8" cy="341.9" r="1.7" fill="#7a80d8"/><circle cx="151.3" cy="299.8" r="2.6" fill="#c850e8"/><circle cx="227.1" cy="294.5" r="1.6" fill="#a0a8e0"/><circle cx="181.5" cy="303.5" r="1.9" fill="#828282"/><circle cx="154.0" cy="299.8" r="2.4" fill="#9a4ce8"/><circle cx="171.5" cy="354.5" r="2.5" fill="#e040e0"/><circle cx="217.2" cy="323.5" r="2.4" fill="#8088c0"/><circle cx="188.0" cy="293.4" r="2.5" fill="#7a80d8"/><circle cx="185.9" cy="279.3" r="1.5" fill="#3c3ce0"/><circle cx="168.1" cy="351.1" r="2.1" fill="#c850e8"/><circle cx="219.5" cy="297.6" r="1.4" fill="#5560e0"/><circle cx="222.0" cy="303.3" r="2.2" fill="#5a60e0"/><circle cx="158.6" cy="295.2" r="2.8" fill="#e848d8"/><circle cx="147.8" cy="324.5" r="2.5" fill="#5050f0"/><circle cx="183.9" cy="346.7" r="2.7" fill="#6a70e0"/><circle cx="219.2" cy="332.6" r="1.6" fill="#5a60e0"/><circle cx="229.2" cy="288.7" r="1.7" fill="#6a7ae8"/><circle cx="151.0" cy="321.1" r="1.9" fill="#e848d8"/><circle cx="225.1" cy="290.7" r="1.7" fill="#4a4ae0"/><circle cx="148.5" cy="321.2" r="2.7" fill="#9a4ce8"/><circle cx="178.9" cy="307.7" r="2.7" fill="#828282"/><circle cx="152.0" cy="339.4" r="1.9" fill="#e848d8"/><circle cx="177.7" cy="286.0" r="1.9" fill="#5a58e8"/><circle cx="220.2" cy="330.2" r="2.2" fill="#6a70e0"/><circle cx="220.5" cy="332.6" r="1.9" fill="#8f92d0"/><circle cx="165.1" cy="318.0" r="2.4" fill="#9a9ae0"/><circle cx="207.7" cy="339.3" r="1.4" fill="#8890d8"/><circle cx="207.9" cy="299.0" r="1.7" fill="#767676"/><circle cx="180.9" cy="277.2" r="1.8" fill="#e848d8"/><circle cx="204.2" cy="337.5" r="1.9" fill="#8088c0"/><circle cx="203.4" cy="345.8" r="2.0" fill="#5a60e0"/><circle cx="210.6" cy="301.4" r="1.6" fill="#8088c0"/><circle cx="188.4" cy="295.8" r="1.8" fill="#8890d8"/><circle cx="205.1" cy="346.5" r="2.5" fill="#9a9ae0"/><circle cx="168.7" cy="338.5" r="1.6" fill="#8a8aa8"/><circle cx="233.2" cy="311.1" r="1.7" fill="#7a88e0"/><circle cx="191.6" cy="294.4" r="2.6" fill="#5a60e0"/><circle cx="166.7" cy="279.0" r="2.2" fill="#e848d8"/><circle cx="190.9" cy="352.6" r="2.3" fill="#7050e8"/><circle cx="166.6" cy="350.9" r="2.6" fill="#c850e8"/><circle cx="225.6" cy="293.2" r="1.5" fill="#a0a8e0"/><circle cx="178.5" cy="360.3" r="1.4" fill="#7050e8"/><circle cx="175.6" cy="293.7" r="2.5" fill="#d838d8"/><circle cx="166.1" cy="306.3" r="2.4" fill="#e848d8"/><circle cx="169.9" cy="318.2" r="2.1" fill="#8890d8"/><circle cx="151.5" cy="313.5" r="1.8" fill="#3c3ce0"/><circle cx="161.5" cy="307.8" r="2.6" fill="#4040e8"/><circle cx="216.0" cy="288.8" r="2.2" fill="#4a4ae0"/><circle cx="170.4" cy="281.7" r="2.0" fill="#e848d8"/><circle cx="235.0" cy="309.5" r="1.6" fill="#8a96e0"/><circle cx="162.3" cy="322.2" r="2.3" fill="#5a60e0"/><circle cx="168.2" cy="326.7" r="2.3" fill="#828282"/><circle cx="150.5" cy="332.1" r="2.0" fill="#f050e8"/><circle cx="218.2" cy="307.3" r="1.9" fill="#6a70e0"/><circle cx="161.5" cy="344.5" r="1.6" fill="#f050e8"/><circle cx="205.1" cy="343.0" r="2.2" fill="#8890d8"/><circle cx="160.5" cy="337.5" r="1.7" fill="#3c3ce0"/><circle cx="214.8" cy="332.5" r="2.5" fill="#7c7c7c"/><circle cx="179.4" cy="307.6" r="1.7" fill="#8088c0"/><circle cx="156.0" cy="344.2" r="1.6" fill="#e040e0"/><circle cx="160.8" cy="324.7" r="2.0" fill="#8c8c8c"/><circle cx="174.6" cy="278.7" r="1.4" fill="#b048e0"/><circle cx="166.1" cy="338.0" r="1.5" fill="#8c8c8c"/><circle cx="230.9" cy="318.4" r="2.3" fill="#8a96e0"/><circle cx="176.9" cy="304.4" r="2.2" fill="#5a60e0"/><circle cx="233.7" cy="319.6" r="2.2" fill="#4a4ae0"/><circle cx="208.5" cy="338.2" r="1.4" fill="#767676"/><circle cx="203.3" cy="292.2" r="2.2" fill="#5a60e0"/><circle cx="215.2" cy="292.7" r="1.5" fill="#5a60e0"/><circle cx="222.9" cy="323.5" r="1.8" fill="#7a80d8"/><circle cx="177.8" cy="296.5" r="1.3" fill="#8f92d0"/><circle cx="150.6" cy="322.2" r="2.8" fill="#f050e8"/><circle cx="177.6" cy="299.7" r="1.4" fill="#7a80d8"/><circle cx="182.0" cy="367.0" r="2.2" fill="#c850e8"/><circle cx="159.0" cy="333.8" r="2.8" fill="#8c8c8c"/><circle cx="233.5" cy="327.1" r="1.5" fill="#a0a8e0"/><circle cx="157.9" cy="318.5" r="2.0" fill="#9a4ce8"/><circle cx="195.0" cy="289.5" r="2.5" fill="#8890d8"/><circle cx="203.9" cy="344.9" r="2.6" fill="#8a8aa8"/><circle cx="199.5" cy="353.6" r="2.4" fill="#d838d8"/><circle cx="174.6" cy="355.9" r="2.7" fill="#4040e8"/><circle cx="153.2" cy="330.2" r="1.8" fill="#e848d8"/><circle cx="227.9" cy="310.7" r="2.5" fill="#8f92d0"/><circle cx="170.1" cy="351.1" r="2.4" fill="#c850e8"/><circle cx="153.1" cy="332.5" r="2.0" fill="#7050e8"/><circle cx="168.1" cy="340.6" r="2.3" fill="#6a70e0"/><circle cx="160.7" cy="311.7" r="2.5" fill="#5a58e8"/><circle cx="153.7" cy="329.8" r="2.4" fill="#e040e0"/><circle cx="196.6" cy="295.6" r="1.7" fill="#8c8c8c"/><circle cx="166.3" cy="318.9" r="1.8" fill="#7a80d8"/><circle cx="159.1" cy="332.0" r="1.4" fill="#8c8c8c"/><circle cx="214.7" cy="339.2" r="1.3" fill="#8c8c8c"/><circle cx="177.4" cy="338.2" r="2.4" fill="#8a8a8a"/><circle cx="223.4" cy="314.4" r="2.1" fill="#9a9ae0"/><circle cx="159.8" cy="325.6" r="2.5" fill="#7a80d8"/><circle cx="176.6" cy="344.4" r="2.1" fill="#8890d8"/><circle cx="226.0" cy="297.0" r="1.7" fill="#4a4ae0"/><circle cx="196.6" cy="294.9" r="2.0" fill="#7a80d8"/><circle cx="196.3" cy="353.1" r="2.0" fill="#d838d8"/><circle cx="170.8" cy="314.5" r="1.3" fill="#9a9ae0"/><circle cx="217.3" cy="298.3" r="1.6" fill="#8890d8"/><circle cx="214.9" cy="350.6" r="1.9" fill="#e848d8"/><circle cx="163.3" cy="332.4" r="2.2" fill="#8f92d0"/><circle cx="156.6" cy="334.4" r="1.7" fill="#5a58e8"/><circle cx="216.9" cy="328.2" r="2.1" fill="#7c7c7c"/><circle cx="213.6" cy="303.0" r="2.0" fill="#767676"/><circle cx="173.4" cy="315.7" r="1.3" fill="#8a8a8a"/><circle cx="219.9" cy="327.1" r="1.9" fill="#8f92d0"/><circle cx="191.5" cy="282.7" r="1.8" fill="#7050e8"/><circle cx="180.7" cy="290.1" r="2.1" fill="#5050f0"/><circle cx="173.8" cy="337.7" r="2.5" fill="#8f92c8"/><circle cx="216.3" cy="338.8" r="2.0" fill="#8a8aa8"/><circle cx="226.1" cy="314.5" r="1.4" fill="#8a8aa8"/><circle cx="185.9" cy="297.6" r="2.0" fill="#8c8c8c"/><circle cx="161.3" cy="340.1" r="2.5" fill="#4040e8"/><circle cx="216.8" cy="327.0" r="1.9" fill="#828282"/><circle cx="229.7" cy="291.5" r="2.1" fill="#58a8d0"/><circle cx="156.0" cy="314.0" r="2.7" fill="#5a58e8"/><circle cx="172.1" cy="345.5" r="1.6" fill="#7a80d8"/><circle cx="145.9" cy="320.7" r="1.4" fill="#3c3ce0"/><circle cx="174.9" cy="349.7" r="2.0" fill="#4040e8"/><circle cx="200.0" cy="346.2" r="2.4" fill="#8890d8"/><circle cx="158.4" cy="295.1" r="2.1" fill="#e848d8"/><circle cx="183.1" cy="353.1" r="2.3" fill="#d838d8"/><circle cx="167.2" cy="306.3" r="2.0" fill="#e040e0"/><circle cx="220.2" cy="299.3" r="2.4" fill="#5a60e0"/><circle cx="161.0" cy="313.5" r="2.7" fill="#9a4ce8"/><circle cx="214.4" cy="345.0" r="1.7" fill="#6a7ae8"/><circle cx="185.9" cy="341.0" r="2.7" fill="#8088c0"/><circle cx="167.7" cy="279.8" r="1.5" fill="#e848d8"/><circle cx="187.8" cy="283.3" r="2.4" fill="#b048e0"/><circle cx="153.3" cy="299.7" r="1.4" fill="#e848d8"/><circle cx="190.0" cy="294.1" r="2.2" fill="#8890d8"/><circle cx="181.0" cy="362.8" r="1.3" fill="#c850e8"/><circle cx="189.4" cy="365.4" r="2.1" fill="#5a58e8"/><circle cx="214.5" cy="300.0" r="2.2" fill="#8c8c8c"/><circle cx="156.0" cy="334.6" r="2.0" fill="#3c3ce0"/><circle cx="194.5" cy="299.7" r="2.0" fill="#7c7c7c"/><circle cx="177.7" cy="354.8" r="2.7" fill="#5050f0"/><circle cx="171.2" cy="287.5" r="1.9" fill="#e848d8"/><circle cx="204.1" cy="345.4" r="2.4" fill="#8c8c8c"/><circle cx="213.4" cy="343.3" r="2.6" fill="#7a88e0"/><circle cx="219.9" cy="341.5" r="2.4" fill="#58a8c8"/><circle cx="223.3" cy="320.6" r="1.5" fill="#7a80d8"/><circle cx="222.3" cy="318.6" r="2.4" fill="#6a70e0"/><circle cx="214.4" cy="306.1" r="2.3" fill="#7c7c7c"/><circle cx="208.8" cy="351.3" r="1.7" fill="#3c3ce0"/><circle cx="211.7" cy="340.9" r="1.8" fill="#8c8c8c"/><circle cx="175.7" cy="305.7" r="1.4" fill="#8a8aa8"/><circle cx="174.5" cy="340.7" r="2.0" fill="#9a9ae0"/><circle cx="211.0" cy="296.4" r="1.7" fill="#8c8c8c"/><circle cx="224.3" cy="323.3" r="1.4" fill="#7a80d8"/><circle cx="160.3" cy="296.1" r="1.6" fill="#c850e8"/><circle cx="183.2" cy="360.9" r="2.5" fill="#7050e8"/><circle cx="171.9" cy="345.5" r="1.7" fill="#9a9ae0"/><circle cx="206.6" cy="289.3" r="1.8" fill="#9a4ce8"/><circle cx="223.1" cy="291.1" r="2.0" fill="#6a7ae8"/><circle cx="186.1" cy="343.9" r="2.3" fill="#8088c0"/><circle cx="160.3" cy="348.1" r="2.2" fill="#3c3ce0"/><circle cx="213.0" cy="347.2" r="1.8" fill="#d838d8"/><circle cx="216.7" cy="289.9" r="1.5" fill="#a0a8e0"/><circle cx="153.6" cy="333.2" r="2.8" fill="#4040e8"/><circle cx="161.8" cy="346.5" r="2.6" fill="#5a58e8"/><circle cx="191.6" cy="352.2" r="1.9" fill="#5050f0"/><circle cx="188.7" cy="348.7" r="1.8" fill="#6a70e0"/><circle cx="149.9" cy="314.7" r="1.8" fill="#7050e8"/><circle cx="183.8" cy="284.4" r="1.4" fill="#e848d8"/><circle cx="218.9" cy="346.7" r="2.1" fill="#58a8c8"/><circle cx="179.0" cy="286.6" r="2.0" fill="#5050f0"/><circle cx="203.5" cy="295.7" r="2.7" fill="#5a60e0"/><circle cx="209.8" cy="342.7" r="2.4" fill="#8890d8"/><circle cx="186.8" cy="352.5" r="1.8" fill="#6a70e0"/><circle cx="215.0" cy="349.3" r="1.4" fill="#c850e8"/><circle cx="205.7" cy="348.3" r="2.5" fill="#5a58e8"/><circle cx="184.5" cy="347.6" r="1.9" fill="#9a9ae0"/><circle cx="181.0" cy="308.2" r="2.3" fill="#7c7c7c"/><circle cx="171.2" cy="340.6" r="2.7" fill="#8c8c8c"/><circle cx="148.4" cy="323.9" r="1.9" fill="#5050f0"/><circle cx="178.8" cy="352.6" r="1.8" fill="#3c3ce0"/><circle cx="146.2" cy="317.8" r="2.7" fill="#9a4ce8"/><circle cx="166.4" cy="316.2" r="1.3" fill="#6a70e0"/><circle cx="149.8" cy="324.3" r="2.3" fill="#7050e8"/><circle cx="164.3" cy="307.3" r="2.2" fill="#f050e8"/><circle cx="207.1" cy="289.2" r="2.1" fill="#f050e8"/><circle cx="224.1" cy="322.1" r="2.1" fill="#9a9ae0"/><circle cx="219.9" cy="287.5" r="1.9" fill="#7a88e0"/><circle cx="220.4" cy="316.0" r="1.5" fill="#8088c0"/><circle cx="216.2" cy="331.6" r="2.6" fill="#8a8aa8"/><circle cx="167.0" cy="284.7" r="2.0" fill="#c850e8"/><circle cx="171.8" cy="313.5" r="1.4" fill="#8890d8"/><circle cx="171.9" cy="323.3" r="2.1" fill="#8a8a8a"/><circle cx="229.4" cy="287.6" r="1.9" fill="#58a8d0"/><circle cx="208.7" cy="350.0" r="2.3" fill="#3c3ce0"/><circle cx="154.9" cy="317.2" r="2.0" fill="#c850e8"/><circle cx="183.0" cy="279.2" r="2.3" fill="#d838d8"/><circle cx="217.2" cy="320.6" r="1.7" fill="#828282"/><circle cx="187.0" cy="346.1" r="1.6" fill="#8a8aa8"/><circle cx="186.1" cy="287.0" r="2.3" fill="#f050e8"/><circle cx="219.4" cy="301.5" r="2.6" fill="#5a60e0"/><circle cx="157.5" cy="323.3" r="2.6" fill="#4848e0"/><circle cx="225.3" cy="333.2" r="2.3" fill="#6a7ae8"/><circle cx="229.0" cy="333.3" r="2.1" fill="#a0a8e0"/><circle cx="212.0" cy="342.3" r="1.5" fill="#8f92d0"/><circle cx="229.2" cy="325.1" r="2.5" fill="#4a4ae0"/><circle cx="174.5" cy="284.2" r="2.4" fill="#5050f0"/><circle cx="208.2" cy="338.1" r="1.5" fill="#7c7c7c"/><circle cx="162.9" cy="305.0" r="1.4" fill="#5a58e8"/><circle cx="175.3" cy="345.9" r="1.9" fill="#6a70e0"/><circle cx="177.9" cy="277.6" r="1.9" fill="#e040e0"/><circle cx="180.5" cy="345.2" r="1.7" fill="#8f92d0"/><circle cx="188.8" cy="282.0" r="1.5" fill="#4040e8"/><circle cx="161.7" cy="298.2" r="1.6" fill="#7050e8"/><circle cx="171.5" cy="315.2" r="2.8" fill="#8f92d0"/><circle cx="161.6" cy="343.3" r="2.7" fill="#e040e0"/><circle cx="177.3" cy="344.1" r="2.6" fill="#5a60e0"/><circle cx="204.8" cy="286.6" r="2.3" fill="#3c3ce0"/><circle cx="176.3" cy="300.2" r="1.5" fill="#6a70e0"/><circle cx="182.6" cy="344.4" r="2.1" fill="#7a80d8"/><circle cx="180.0" cy="304.9" r="1.8" fill="#767676"/><circle cx="230.1" cy="324.3" r="2.7" fill="#6a7ae8"/><circle cx="170.8" cy="349.7" r="1.4" fill="#3c3ce0"/><circle cx="224.1" cy="319.4" r="2.6" fill="#8c8c8c"/><circle cx="199.4" cy="297.3" r="2.7" fill="#8a8a8a"/><circle cx="199.8" cy="345.7" r="2.5" fill="#8f92d0"/><circle cx="197.2" cy="339.4" r="2.8" fill="#8a8a8a"/><circle cx="185.6" cy="277.4" r="1.9" fill="#5050f0"/><circle cx="218.6" cy="296.9" r="1.4" fill="#7a80d8"/><circle cx="171.8" cy="332.9" r="2.8" fill="#8088c0"/><circle cx="204.4" cy="342.0" r="2.5" fill="#8c8c8c"/><circle cx="178.3" cy="363.7" r="2.1" fill="#c850e8"/><circle cx="186.8" cy="283.0" r="2.1" fill="#d838d8"/><circle cx="198.4" cy="290.1" r="2.6" fill="#5a60e0"/><circle cx="181.4" cy="296.4" r="2.7" fill="#8890d8"/><circle cx="227.5" cy="316.2" r="1.6" fill="#9a9ae0"/><circle cx="214.6" cy="344.2" r="2.0" fill="#58a8d0"/><circle cx="170.5" cy="331.2" r="1.7" fill="#767676"/><circle cx="212.9" cy="341.0" r="2.0" fill="#5a60e0"/><circle cx="213.5" cy="290.7" r="2.7" fill="#a0a8e0"/><circle cx="183.5" cy="368.1" r="2.2" fill="#e848d8"/><circle cx="154.4" cy="297.7" r="2.4" fill="#7050e8"/><circle cx="229.4" cy="308.5" r="1.7" fill="#6a7ae8"/><circle cx="214.4" cy="346.6" r="2.1" fill="#e848d8"/><circle cx="214.5" cy="331.6" r="2.5" fill="#7c7c7c"/><circle cx="232.7" cy="329.3" r="1.6" fill="#4a4ae0"/><circle cx="191.2" cy="282.0" r="2.5" fill="#b048e0"/><circle cx="234.2" cy="317.8" r="1.5" fill="#58a8d0"/><circle cx="171.6" cy="316.0" r="1.8" fill="#8f92c8"/><circle cx="215.5" cy="310.6" r="1.7" fill="#8f92c8"/><circle cx="192.8" cy="364.0" r="2.7" fill="#b048e0"/><circle cx="188.4" cy="281.5" r="2.3" fill="#5050f0"/><circle cx="168.9" cy="330.6" r="2.2" fill="#8f92c8"/><circle cx="199.8" cy="344.9" r="1.4" fill="#8c8c8c"/><circle cx="147.2" cy="327.6" r="1.6" fill="#9a4ce8"/><circle cx="200.0" cy="287.5" r="1.7" fill="#5a58e8"/><circle cx="173.2" cy="347.2" r="2.7" fill="#6a70e0"/><circle cx="187.7" cy="274.8" r="2.3" fill="#4848e0"/><circle cx="203.4" cy="291.2" r="2.7" fill="#8a8aa8"/><circle cx="188.3" cy="349.6" r="2.7" fill="#8a8aa8"/><circle cx="181.8" cy="273.7" r="2.0" fill="#e848d8"/><circle cx="198.0" cy="353.1" r="1.7" fill="#d838d8"/><circle cx="216.7" cy="301.8" r="2.8" fill="#6a70e0"/><circle cx="167.4" cy="300.1" r="2.3" fill="#7050e8"/><circle cx="202.6" cy="300.5" r="2.2" fill="#8088c0"/><circle cx="181.4" cy="274.7" r="1.9" fill="#c850e8"/><circle cx="165.2" cy="323.7" r="2.2" fill="#8c8c8c"/><circle cx="194.5" cy="295.7" r="2.2" fill="#8088c0"/><circle cx="171.7" cy="308.3" r="2.6" fill="#9a9ae0"/><circle cx="229.5" cy="314.4" r="2.5" fill="#58a8d0"/><circle cx="218.5" cy="312.5" r="1.8" fill="#7c7c7c"/><circle cx="213.3" cy="343.2" r="1.8" fill="#8a8aa8"/><circle cx="215.0" cy="310.3" r="1.8" fill="#8f92c8"/><circle cx="164.6" cy="341.3" r="2.6" fill="#5a60e0"/><circle cx="200.0" cy="284.6" r="2.0" fill="#f050e8"/><circle cx="212.3" cy="329.5" r="2.0" fill="#8088c0"/><circle cx="176.0" cy="294.7" r="2.3" fill="#d838d8"/><circle cx="171.9" cy="284.4" r="1.4" fill="#c850e8"/><circle cx="210.9" cy="292.1" r="1.6" fill="#8c8c8c"/><circle cx="164.6" cy="342.9" r="2.3" fill="#6a70e0"/><circle cx="188.6" cy="345.1" r="2.4" fill="#767676"/><circle cx="216.6" cy="316.4" r="2.5" fill="#8f92c8"/><circle cx="169.8" cy="301.7" r="1.4" fill="#f050e8"/><circle cx="210.5" cy="332.9" r="2.5" fill="#767676"/><circle cx="218.0" cy="338.0" r="2.1" fill="#9a9ae0"/><circle cx="222.1" cy="297.5" r="2.6" fill="#a0a8e0"/><circle cx="179.1" cy="302.4" r="1.4" fill="#6a70e0"/><circle cx="181.1" cy="359.7" r="2.5" fill="#d838d8"/><circle cx="199.6" cy="343.1" r="2.5" fill="#5a60e0"/><circle cx="209.9" cy="347.9" r="1.8" fill="#4040e8"/><circle cx="229.5" cy="317.6" r="2.2" fill="#4a4ae0"/><circle cx="175.1" cy="334.5" r="1.9" fill="#828282"/><circle cx="217.4" cy="289.7" r="1.6" fill="#7a88e0"/><circle cx="235.1" cy="320.4" r="1.6" fill="#6a7ae8"/><circle cx="198.3" cy="348.7" r="2.6" fill="#8a8aa8"/><circle cx="192.6" cy="353.9" r="1.6" fill="#7050e8"/><circle cx="229.2" cy="328.7" r="2.2" fill="#5560e0"/><circle cx="217.4" cy="336.1" r="1.3" fill="#9a9ae0"/><circle cx="188.4" cy="296.9" r="2.7" fill="#8088c0"/><circle cx="162.5" cy="297.4" r="2.7" fill="#f050e8"/><circle cx="157.0" cy="344.3" r="2.4" fill="#d838d8"/><circle cx="206.0" cy="348.7" r="2.2" fill="#3c3ce0"/><circle cx="193.6" cy="293.8" r="2.3" fill="#8f92d0"/><circle cx="195.5" cy="289.0" r="1.8" fill="#6a70e0"/><circle cx="161.1" cy="303.8" r="2.3" fill="#3c3ce0"/><circle cx="167.2" cy="328.7" r="1.5" fill="#8088c0"/><circle cx="184.0" cy="355.4" r="2.7" fill="#f050e8"/><circle cx="181.8" cy="339.1" r="2.3" fill="#828282"/><circle cx="212.8" cy="343.6" r="2.6" fill="#6a70e0"/><circle cx="168.3" cy="330.8" r="1.5" fill="#8088c0"/><circle cx="147.7" cy="330.0" r="1.5" fill="#c850e8"/><circle cx="184.6" cy="299.2" r="2.5" fill="#8a8a8a"/><circle cx="181.0" cy="299.8" r="1.6" fill="#8f92d0"/><circle cx="187.3" cy="281.0" r="1.8" fill="#3c3ce0"/><circle cx="212.8" cy="300.2" r="2.4" fill="#6a70e0"/><circle cx="203.6" cy="342.5" r="2.5" fill="#8f92d0"/><circle cx="229.9" cy="319.4" r="2.3" fill="#58a8d0"/><circle cx="215.9" cy="337.5" r="1.5" fill="#8a8aa8"/><circle cx="154.8" cy="299.4" r="2.4" fill="#9a4ce8"/><circle cx="153.5" cy="307.6" r="2.2" fill="#d838d8"/><circle cx="227.5" cy="324.5" r="2.6" fill="#7a88e0"/><circle cx="221.3" cy="308.8" r="1.7" fill="#8c8c8c"/><circle cx="176.8" cy="346.8" r="2.1" fill="#9a9ae0"/><circle cx="216.0" cy="329.3" r="1.5" fill="#8f92c8"/><circle cx="220.3" cy="309.2" r="1.4" fill="#6a70e0"/><circle cx="221.6" cy="307.7" r="1.5" fill="#5a60e0"/><circle cx="178.0" cy="352.3" r="2.2" fill="#5050f0"/><circle cx="191.9" cy="296.7" r="1.6" fill="#8a8a8a"/><circle cx="214.2" cy="306.2" r="2.3" fill="#7c7c7c"/><circle cx="220.7" cy="308.9" r="1.7" fill="#8890d8"/><circle cx="225.3" cy="288.2" r="1.4" fill="#8a96e0"/><circle cx="224.9" cy="287.4" r="1.6" fill="#6a7ae8"/><circle cx="200.5" cy="350.6" r="2.1" fill="#b048e0"/><circle cx="179.5" cy="362.1" r="1.6" fill="#e040e0"/><circle cx="159.8" cy="317.0" r="2.1" fill="#9a4ce8"/><circle cx="201.2" cy="285.7" r="2.0" fill="#5050f0"/><circle cx="173.9" cy="301.2" r="2.4" fill="#8890d8"/><circle cx="225.3" cy="295.4" r="2.7" fill="#58a8d0"/><circle cx="185.8" cy="282.1" r="2.6" fill="#c850e8"/><circle cx="228.8" cy="321.8" r="1.5" fill="#a0a8e0"/><circle cx="179.2" cy="293.3" r="1.5" fill="#8a8aa8"/><circle cx="188.9" cy="287.0" r="2.6" fill="#b048e0"/><circle cx="184.3" cy="302.5" r="2.0" fill="#8a8a8a"/><circle cx="229.9" cy="323.0" r="2.7" fill="#a0a8e0"/><circle cx="181.0" cy="344.5" r="2.0" fill="#5a60e0"/><circle cx="193.2" cy="343.0" r="1.9" fill="#767676"/><circle cx="216.5" cy="315.7" r="2.6" fill="#7c7c7c"/><circle cx="180.0" cy="349.5" r="1.8" fill="#8c8c8c"/><circle cx="217.0" cy="302.7" r="2.7" fill="#7a80d8"/><circle cx="224.7" cy="316.2" r="1.5" fill="#7a80d8"/><circle cx="214.7" cy="346.4" r="2.1" fill="#8a96e0"/><circle cx="229.8" cy="290.1" r="2.0" fill="#8a96e0"/><circle cx="187.3" cy="359.6" r="2.3" fill="#4040e8"/><circle cx="222.8" cy="308.5" r="2.5" fill="#8c8c8c"/><circle cx="215.9" cy="297.0" r="2.1" fill="#8c8c8c"/><circle cx="180.9" cy="304.2" r="1.5" fill="#767676"/><circle cx="174.2" cy="275.5" r="2.1" fill="#5050f0"/><circle cx="223.6" cy="304.0" r="1.5" fill="#7a80d8"/><circle cx="148.1" cy="306.5" r="2.0" fill="#f050e8"/><circle cx="215.7" cy="334.0" r="2.2" fill="#8f92d0"/><circle cx="168.3" cy="289.8" r="2.1" fill="#d838d8"/><circle cx="168.9" cy="319.7" r="2.7" fill="#8890d8"/><circle cx="213.4" cy="296.0" r="2.1" fill="#8890d8"/><circle cx="173.0" cy="283.8" r="1.3" fill="#7050e8"/><circle cx="177.2" cy="286.2" r="1.6" fill="#5050f0"/><circle cx="213.0" cy="286.9" r="2.2" fill="#58a8d0"/><circle cx="177.9" cy="364.3" r="2.0" fill="#d838d8"/><circle cx="202.8" cy="292.8" r="1.6" fill="#9a9ae0"/><circle cx="169.3" cy="306.7" r="1.8" fill="#9a9ae0"/><circle cx="180.6" cy="279.3" r="2.4" fill="#e848d8"/><circle cx="221.2" cy="314.9" r="2.2" fill="#5a60e0"/><circle cx="160.5" cy="327.3" r="1.4" fill="#8890d8"/><circle cx="222.1" cy="336.8" r="2.3" fill="#38c870"/><circle cx="172.7" cy="319.2" r="1.9" fill="#7c7c7c"/><circle cx="167.1" cy="316.2" r="2.1" fill="#8a8aa8"/><circle cx="178.8" cy="291.6" r="2.1" fill="#e848d8"/><circle cx="229.7" cy="329.0" r="1.4" fill="#4a4ae0"/><circle cx="227.1" cy="316.7" r="2.1" fill="#5a60e0"/><circle cx="192.8" cy="345.5" r="1.5" fill="#8f92d0"/><circle cx="212.0" cy="303.6" r="2.5" fill="#8088c0"/><circle cx="154.6" cy="326.3" r="2.5" fill="#e848d8"/><circle cx="175.5" cy="345.7" r="2.8" fill="#5a60e0"/><circle cx="170.6" cy="291.6" r="1.7" fill="#7050e8"/><circle cx="230.1" cy="322.3" r="2.4" fill="#a0a8e0"/><circle cx="180.3" cy="340.9" r="2.8" fill="#7c7c7c"/><circle cx="182.6" cy="298.9" r="2.7" fill="#8890d8"/><circle cx="236.0" cy="319.4" r="2.1" fill="#4a4ae0"/><circle cx="161.4" cy="332.2" r="2.7" fill="#8c8c8c"/><circle cx="147.2" cy="320.5" r="2.8" fill="#4040e8"/><circle cx="146.1" cy="320.1" r="2.2" fill="#5a58e8"/><circle cx="200.7" cy="338.4" r="1.5" fill="#7c7c7c"/><circle cx="217.5" cy="319.4" r="1.7" fill="#8a8a8a"/><circle cx="167.0" cy="304.1" r="1.5" fill="#f050e8"/><circle cx="227.9" cy="334.2" r="2.5" fill="#a0a8e0"/><circle cx="198.9" cy="295.9" r="1.7" fill="#5a60e0"/><circle cx="171.4" cy="315.5" r="2.8" fill="#6a70e0"/><circle cx="175.5" cy="298.0" r="2.0" fill="#3c3ce0"/><circle cx="149.0" cy="314.2" r="2.0" fill="#b048e0"/><circle cx="166.7" cy="348.8" r="2.8" fill="#d838d8"/><circle cx="232.3" cy="329.3" r="1.5" fill="#8a96e0"/><circle cx="158.7" cy="321.6" r="1.6" fill="#5050f0"/><circle cx="162.3" cy="328.3" r="1.9" fill="#9a9ae0"/><circle cx="222.5" cy="306.3" r="1.8" fill="#6a70e0"/><circle cx="219.8" cy="318.6" r="1.8" fill="#828282"/><circle cx="174.0" cy="303.5" r="1.5" fill="#8890d8"/><circle cx="177.9" cy="298.7" r="1.6" fill="#5a60e0"/><circle cx="170.1" cy="283.7" r="2.4" fill="#d838d8"/><circle cx="163.2" cy="305.2" r="2.6" fill="#5050f0"/><circle cx="144.6" cy="314.9" r="2.4" fill="#9a4ce8"/><circle cx="162.1" cy="329.9" r="1.9" fill="#8890d8"/><circle cx="163.6" cy="347.4" r="2.4" fill="#4848e0"/><circle cx="218.3" cy="332.9" r="2.6" fill="#8f92d0"/><circle cx="180.6" cy="368.4" r="2.8" fill="#d838d8"/><circle cx="214.5" cy="302.2" r="2.7" fill="#6a70e0"/><circle cx="200.1" cy="344.8" r="2.1" fill="#6a70e0"/><circle cx="228.9" cy="291.5" r="2.6" fill="#6a7ae8"/><circle cx="183.1" cy="357.4" r="1.7" fill="#e040e0"/><circle cx="210.7" cy="341.5" r="1.8" fill="#9a9ae0"/><circle cx="161.4" cy="308.5" r="2.5" fill="#4848e0"/><circle cx="179.3" cy="288.6" r="2.2" fill="#4848e0"/><circle cx="200.9" cy="284.4" r="1.6" fill="#c850e8"/><circle cx="211.7" cy="335.1" r="2.5" fill="#7c7c7c"/><circle cx="196.7" cy="290.5" r="1.8" fill="#8a8aa8"/><circle cx="158.2" cy="309.8" r="2.7" fill="#4040e8"/><circle cx="235.8" cy="306.8" r="2.5" fill="#58a8d0"/><circle cx="157.2" cy="304.9" r="1.9" fill="#7050e8"/><circle cx="156.5" cy="318.3" r="2.6" fill="#e848d8"/><circle cx="182.3" cy="305.8" r="1.9" fill="#8a8a8a"/><circle cx="170.2" cy="286.3" r="2.5" fill="#f050e8"/><circle cx="151.7" cy="337.6" r="2.3" fill="#9a4ce8"/><circle cx="182.2" cy="358.8" r="2.6" fill="#e848d8"/><circle cx="221.9" cy="294.8" r="1.6" fill="#6a7ae8"/><circle cx="157.8" cy="308.2" r="2.5" fill="#7050e8"/><circle cx="231.7" cy="299.3" r="1.8" fill="#4a4ae0"/><circle cx="200.0" cy="343.4" r="2.0" fill="#6a70e0"/><circle cx="190.3" cy="358.6" r="2.3" fill="#9a4ce8"/><circle cx="204.0" cy="289.2" r="2.8" fill="#3c3ce0"/><circle cx="187.1" cy="348.0" r="2.5" fill="#8890d8"/><circle cx="202.9" cy="296.6" r="2.1" fill="#8f92d0"/><circle cx="155.8" cy="331.8" r="1.7" fill="#3c3ce0"/><circle cx="170.1" cy="285.0" r="2.1" fill="#c850e8"/><circle cx="151.5" cy="332.9" r="1.5" fill="#e848d8"/><circle cx="174.6" cy="291.6" r="1.5" fill="#4040e8"/><circle cx="176.7" cy="282.6" r="1.5" fill="#9a4ce8"/><circle cx="182.8" cy="352.9" r="1.9" fill="#8a8aa8"/><circle cx="172.2" cy="296.4" r="2.5" fill="#4848e0"/><circle cx="157.6" cy="335.8" r="2.0" fill="#5a58e8"/><circle cx="170.2" cy="308.8" r="2.2" fill="#8a8aa8"/><circle cx="149.0" cy="325.1" r="1.8" fill="#5050f0"/><circle cx="170.4" cy="313.4" r="1.5" fill="#8c8c8c"/><circle cx="219.8" cy="306.9" r="1.9" fill="#8a8aa8"/><circle cx="195.9" cy="348.8" r="2.3" fill="#9a9ae0"/><circle cx="226.5" cy="318.2" r="2.2" fill="#8f92d0"/><circle cx="184.2" cy="291.9" r="2.7" fill="#6a70e0"/><circle cx="158.4" cy="308.6" r="2.3" fill="#4040e8"/><circle cx="204.6" cy="291.6" r="2.6" fill="#6a70e0"/><circle cx="177.7" cy="287.4" r="2.8" fill="#4040e8"/><circle cx="197.1" cy="353.1" r="1.6" fill="#c850e8"/><circle cx="158.6" cy="334.8" r="1.4" fill="#5a58e8"/><circle cx="218.4" cy="326.9" r="1.9" fill="#8f92c8"/><circle cx="157.8" cy="294.5" r="2.7" fill="#c850e8"/><circle cx="185.0" cy="365.7" r="1.6" fill="#b048e0"/><circle cx="157.0" cy="336.9" r="2.2" fill="#5a58e8"/><circle cx="187.0" cy="274.8" r="2.7" fill="#3c3ce0"/><circle cx="198.5" cy="349.2" r="1.6" fill="#8f92d0"/><circle cx="228.3" cy="300.9" r="1.8" fill="#5560e0"/><circle cx="175.3" cy="307.5" r="2.5" fill="#8c8c8c"/><circle cx="179.5" cy="289.3" r="1.6" fill="#4040e8"/><circle cx="155.4" cy="317.5" r="1.6" fill="#e848d8"/><circle cx="180.2" cy="276.9" r="1.3" fill="#f050e8"/><circle cx="233.5" cy="302.2" r="2.7" fill="#58a8d0"/><circle cx="173.4" cy="337.6" r="1.6" fill="#767676"/><circle cx="177.2" cy="360.8" r="2.6" fill="#b048e0"/><circle cx="193.9" cy="343.8" r="2.0" fill="#828282"/><circle cx="178.2" cy="354.7" r="2.8" fill="#5a58e8"/><circle cx="160.5" cy="324.1" r="1.4" fill="#8890d8"/><circle cx="223.2" cy="298.4" r="2.3" fill="#a0a8e0"/><circle cx="172.0" cy="318.2" r="2.5" fill="#828282"/><circle cx="229.1" cy="295.1" r="2.2" fill="#4a4ae0"/><circle cx="169.4" cy="347.6" r="2.4" fill="#5050f0"/><circle cx="212.9" cy="293.9" r="2.5" fill="#8f92d0"/><circle cx="189.4" cy="296.7" r="2.0" fill="#8a8a8a"/><circle cx="230.3" cy="313.3" r="2.7" fill="#4a4ae0"/><circle cx="226.2" cy="312.1" r="2.6" fill="#8f92d0"/><circle cx="159.2" cy="319.6" r="2.3" fill="#9a4ce8"/><circle cx="190.1" cy="295.9" r="2.7" fill="#8f92d0"/><circle cx="152.2" cy="314.1" r="2.7" fill="#3c3ce0"/><circle cx="159.6" cy="337.3" r="1.5" fill="#5a58e8"/><circle cx="166.4" cy="290.7" r="2.1" fill="#c850e8"/><circle cx="215.4" cy="303.1" r="2.4" fill="#8a8aa8"/><circle cx="144.3" cy="313.3" r="1.6" fill="#9a4ce8"/><circle cx="173.3" cy="318.9" r="2.5" fill="#828282"/><circle cx="165.4" cy="343.9" r="2.7" fill="#9a9ae0"/><circle cx="168.5" cy="333.9" r="2.7" fill="#8890d8"/><circle cx="148.8" cy="310.0" r="1.7" fill="#7050e8"/><circle cx="195.5" cy="341.9" r="2.5" fill="#8f92c8"/><circle cx="158.1" cy="334.4" r="2.3" fill="#4848e0"/><circle cx="197.5" cy="342.3" r="2.5" fill="#8a8a8a"/><circle cx="224.2" cy="330.6" r="2.3" fill="#7a80d8"/><circle cx="154.0" cy="315.7" r="2.5" fill="#4040e8"/><circle cx="218.1" cy="287.1" r="2.5" fill="#5560e0"/><circle cx="189.2" cy="276.2" r="1.8" fill="#4848e0"/><circle cx="182.4" cy="273.7" r="2.4" fill="#d838d8"/><circle cx="176.8" cy="359.8" r="2.8" fill="#4040e8"/><circle cx="150.6" cy="332.1" r="2.3" fill="#d838d8"/><circle cx="220.3" cy="302.1" r="1.5" fill="#9a9ae0"/><circle cx="204.0" cy="337.4" r="2.4" fill="#8a8a8a"/><circle cx="171.8" cy="295.0" r="2.0" fill="#4848e0"/><circle cx="211.8" cy="285.3" r="1.4" fill="#8a96e0"/><circle cx="185.3" cy="298.5" r="2.6" fill="#828282"/><circle cx="177.3" cy="289.4" r="2.0" fill="#5050f0"/><circle cx="168.5" cy="308.7" r="1.6" fill="#6a70e0"/><circle cx="178.7" cy="342.6" r="1.8" fill="#6a70e0"/><circle cx="177.8" cy="293.4" r="2.3" fill="#e848d8"/><circle cx="214.8" cy="293.7" r="1.4" fill="#6a70e0"/><circle cx="146.9" cy="315.2" r="2.4" fill="#9a4ce8"/><circle cx="165.2" cy="309.4" r="1.9" fill="#e848d8"/><circle cx="161.5" cy="328.3" r="1.5" fill="#9a9ae0"/><circle cx="167.2" cy="278.4" r="2.6" fill="#7050e8"/><circle cx="227.3" cy="290.8" r="1.5" fill="#5560e0"/><circle cx="170.1" cy="296.3" r="2.1" fill="#4040e8"/><circle cx="151.9" cy="321.1" r="1.8" fill="#e848d8"/><circle cx="163.3" cy="311.0" r="2.2" fill="#d838d8"/><circle cx="190.5" cy="352.9" r="1.5" fill="#b048e0"/><circle cx="203.0" cy="338.6" r="2.6" fill="#8a8a8a"/><circle cx="197.5" cy="286.3" r="1.4" fill="#5a58e8"/><circle cx="217.3" cy="307.3" r="1.5" fill="#8c8c8c"/><circle cx="179.2" cy="308.5" r="2.2" fill="#8f92c8"/><circle cx="159.9" cy="333.7" r="2.1" fill="#8a8aa8"/><circle cx="181.7" cy="305.9" r="1.9" fill="#8f92c8"/><circle cx="218.9" cy="300.5" r="2.3" fill="#5a60e0"/><circle cx="228.8" cy="310.5" r="2.2" fill="#5560e0"/><circle cx="176.5" cy="350.9" r="2.2" fill="#4848e0"/><circle cx="150.8" cy="323.8" r="2.6" fill="#f050e8"/><circle cx="153.6" cy="337.7" r="2.3" fill="#7050e8"/><circle cx="213.9" cy="337.5" r="2.6" fill="#9a9ae0"/><circle cx="213.4" cy="350.1" r="2.4" fill="#e040e0"/><circle cx="166.5" cy="306.1" r="2.1" fill="#f050e8"/><circle cx="227.1" cy="302.5" r="1.3" fill="#5560e0"/><circle cx="179.0" cy="310.1" r="2.7" fill="#828282"/><circle cx="212.6" cy="341.5" r="1.9" fill="#8a8aa8"/><circle cx="165.5" cy="301.6" r="2.3" fill="#b048e0"/><circle cx="210.8" cy="291.8" r="2.7" fill="#5a60e0"/><circle cx="181.8" cy="355.5" r="2.3" fill="#e040e0"/><circle cx="229.2" cy="334.5" r="2.6" fill="#58a8d0"/><circle cx="201.6" cy="297.7" r="1.6" fill="#8088c0"/><circle cx="148.5" cy="333.3" r="2.0" fill="#f050e8"/><circle cx="163.7" cy="317.9" r="1.8" fill="#9a9ae0"/><circle cx="162.6" cy="320.2" r="2.0" fill="#8890d8"/><circle cx="214.2" cy="286.2" r="2.6" fill="#4a4ae0"/>
</g>
<g filter="url(#tumg)"><polygon points="192.3,297.6 209.2,301.1 218.4,313.0 217.1,327.5 205.7,338.0 188.5,343.3 174.0,337.2 168.7,325.4 176.6,312.1 184.6,301.5" fill="#828282"/></g>
<g filter="url(#corefx)"><polygon points="205.3,319.0 209.9,322.2 207.7,325.2 201.7,324.4 199.6,328.3 194.9,328.8 194.0,323.1 187.8,324.6 184.0,322.4 189.2,319.0 184.1,315.6 188.8,314.0 193.5,314.3 195.3,311.0 199.5,310.2 201.3,314.2 205.5,314.2 208.0,316.2" fill="#050505"/></g>
<rect x="223" y="343.8" width="37.70" height="37.50" fill="#141414"/>
<rect x="223" y="343.8" width="37.70" height="37.50" fill="#fff" filter="url(#speckB)"/>
<polyline points="223,381.3 223,343.8 260.7,343.8" fill="none" stroke="#d8d8d8" stroke-width="1"/>
<circle cx="243.9" cy="364.6" r="12.2" fill="#050505" stroke="#2cd444" stroke-width="1.4"/>
<circle cx="243.9" cy="364.6" r="13.4" fill="none" stroke="#0c4a16" stroke-width="1.2" opacity="0.85"/>
<circle cx="229.5" cy="350.7" r="5.6" fill="#fff"/>
<text x="229.50" y="353.70" font-size="8.4" font-weight="bold" fill="#222" text-anchor="middle" >S</text>
<circle cx="144.5" cy="267.2" r="8.2" fill="#159a1c"/>
<text x="144.50" y="271.20" font-size="11.5" font-weight="bold" fill="#fff" text-anchor="middle" >3</text>
<text x="248.60" y="269.40" font-size="12" font-weight="bold" fill="#fff" text-anchor="start" >D</text>
</g>
<g id="panelD4">
<rect x="263.1" y="256.3" width="126.90" height="125.00" fill="#141414"/>
<rect x="263.1" y="256.3" width="126.90" height="125.00" fill="#fff" filter="url(#speckB)"/>
<g filter="url(#tum)">
<polygon points="310.9,287.0 326.5,283.9 340.6,282.3 349.9,293.2 357.8,302.6 362.4,316.7 359.3,330.8 351.5,341.7 339.0,347.9 326.5,351.1 315.6,355.8 306.2,352.6 293.7,343.2 285.9,330.8 279.6,321.4 282.8,308.9 290.6,297.9 301.5,290.1" fill="#7c7c98"/>
<circle cx="311.1" cy="299.2" r="2.0" fill="#767676"/><circle cx="334.4" cy="343.9" r="2.6" fill="#5a6ae8"/><circle cx="327.9" cy="291.1" r="2.4" fill="#38d848"/><circle cx="349.2" cy="298.2" r="1.4" fill="#40c8a0"/><circle cx="335.1" cy="291.4" r="1.3" fill="#40e050"/><circle cx="330.0" cy="295.7" r="1.6" fill="#828282"/><circle cx="291.7" cy="331.3" r="1.2" fill="#8a8a8a"/><circle cx="334.0" cy="345.4" r="1.4" fill="#828282"/><circle cx="324.3" cy="347.0" r="1.8" fill="#a888a8"/><circle cx="294.2" cy="341.6" r="2.6" fill="#e04890"/><circle cx="338.0" cy="348.0" r="2.1" fill="#4050e8"/><circle cx="314.2" cy="344.6" r="1.5" fill="#767676"/><circle cx="339.4" cy="340.2" r="2.0" fill="#8a8a8a"/><circle cx="346.5" cy="328.0" r="2.3" fill="#828282"/><circle cx="340.2" cy="298.0" r="1.5" fill="#8a8a8a"/><circle cx="320.4" cy="291.3" r="2.4" fill="#4a60e8"/><circle cx="295.6" cy="339.1" r="2.6" fill="#8a8a8a"/><circle cx="357.6" cy="329.2" r="1.8" fill="#30d040"/><circle cx="337.0" cy="298.0" r="2.5" fill="#8a8a8a"/><circle cx="354.6" cy="304.9" r="2.1" fill="#767676"/><circle cx="304.7" cy="340.9" r="1.3" fill="#767676"/><circle cx="319.7" cy="348.7" r="1.9" fill="#5a6ae8"/><circle cx="295.8" cy="341.3" r="2.0" fill="#9a60d0"/><circle cx="293.3" cy="327.5" r="1.4" fill="#8a8a8a"/><circle cx="343.1" cy="335.7" r="2.2" fill="#8a8a8a"/><circle cx="321.9" cy="295.8" r="2.0" fill="#7c7c7c"/><circle cx="339.3" cy="296.2" r="1.6" fill="#8a8a8a"/><circle cx="286.8" cy="330.7" r="1.2" fill="#9a50e0"/><circle cx="305.3" cy="304.7" r="2.4" fill="#c060a0"/><circle cx="345.4" cy="288.5" r="1.4" fill="#4a70e0"/><circle cx="356.1" cy="306.0" r="2.5" fill="#828282"/><circle cx="336.9" cy="348.1" r="1.9" fill="#8a70e0"/><circle cx="357.0" cy="302.4" r="2.3" fill="#40c8a0"/><circle cx="327.0" cy="294.2" r="2.3" fill="#767676"/><circle cx="306.2" cy="303.1" r="1.6" fill="#8a50e0"/><circle cx="356.5" cy="312.8" r="1.8" fill="#40c8a0"/><circle cx="297.9" cy="343.0" r="1.2" fill="#8a8a8a"/><circle cx="289.5" cy="312.0" r="2.5" fill="#38c848"/><circle cx="336.6" cy="342.0" r="1.3" fill="#30d040"/><circle cx="359.9" cy="310.8" r="2.1" fill="#30d040"/><circle cx="330.7" cy="288.6" r="1.7" fill="#38d848"/><circle cx="354.0" cy="320.5" r="1.5" fill="#7a8ae0"/><circle cx="357.7" cy="329.0" r="1.9" fill="#40c8a0"/><circle cx="286.9" cy="320.8" r="1.3" fill="#828282"/><circle cx="306.6" cy="300.4" r="2.6" fill="#c850d8"/><circle cx="291.9" cy="308.1" r="1.3" fill="#767676"/><circle cx="288.9" cy="308.2" r="2.6" fill="#7c7c7c"/><circle cx="309.8" cy="352.0" r="1.3" fill="#8a8a8a"/><circle cx="297.2" cy="317.4" r="1.3" fill="#828282"/><circle cx="342.8" cy="293.2" r="1.4" fill="#767676"/><circle cx="292.3" cy="317.8" r="1.5" fill="#40d050"/><circle cx="308.3" cy="290.5" r="2.4" fill="#8a50e0"/><circle cx="351.1" cy="335.1" r="2.0" fill="#30d040"/><circle cx="287.8" cy="313.8" r="2.0" fill="#5050e8"/><circle cx="328.8" cy="296.6" r="2.5" fill="#7c7c7c"/><circle cx="353.5" cy="303.6" r="2.3" fill="#40c8a0"/><circle cx="340.4" cy="297.0" r="1.5" fill="#7c7c7c"/><circle cx="348.8" cy="311.8" r="2.4" fill="#828282"/><circle cx="283.7" cy="326.3" r="2.5" fill="#40d050"/><circle cx="342.6" cy="288.9" r="1.3" fill="#828282"/><circle cx="309.2" cy="343.9" r="2.1" fill="#a888a8"/><circle cx="300.3" cy="309.6" r="2.5" fill="#767676"/><circle cx="280.4" cy="322.4" r="2.2" fill="#828282"/><circle cx="338.5" cy="335.5" r="1.9" fill="#a888a8"/><circle cx="292.7" cy="330.8" r="1.9" fill="#828282"/><circle cx="288.3" cy="328.3" r="2.1" fill="#7c7c7c"/><circle cx="336.3" cy="295.9" r="2.3" fill="#8a8a8a"/><circle cx="292.6" cy="339.2" r="2.0" fill="#828282"/><circle cx="289.6" cy="306.7" r="2.5" fill="#8a50e0"/><circle cx="301.1" cy="346.2" r="1.4" fill="#e05070"/><circle cx="357.5" cy="315.0" r="2.6" fill="#767676"/><circle cx="285.2" cy="314.4" r="1.9" fill="#38c848"/><circle cx="307.4" cy="301.5" r="1.2" fill="#8a8a8a"/><circle cx="291.9" cy="301.3" r="1.8" fill="#c850d8"/><circle cx="297.4" cy="337.7" r="1.6" fill="#a888a8"/><circle cx="336.0" cy="298.5" r="1.9" fill="#828282"/><circle cx="316.4" cy="354.2" r="1.3" fill="#4848e0"/><circle cx="314.8" cy="298.8" r="2.3" fill="#a888a8"/><circle cx="324.9" cy="345.1" r="2.2" fill="#80a890"/><circle cx="322.2" cy="296.3" r="2.2" fill="#767676"/><circle cx="346.5" cy="339.9" r="1.7" fill="#40e050"/><circle cx="342.2" cy="338.5" r="1.7" fill="#40e050"/><circle cx="312.5" cy="344.8" r="1.3" fill="#80a890"/><circle cx="339.8" cy="283.6" r="2.3" fill="#30d040"/><circle cx="288.3" cy="329.6" r="2.6" fill="#7c7c7c"/><circle cx="300.3" cy="296.5" r="2.5" fill="#c850d8"/><circle cx="318.8" cy="290.2" r="2.5" fill="#4a60e8"/><circle cx="295.2" cy="310.2" r="2.4" fill="#e048c8"/><circle cx="342.3" cy="284.4" r="2.1" fill="#40e050"/><circle cx="297.0" cy="316.3" r="2.1" fill="#80a890"/><circle cx="354.0" cy="323.4" r="2.4" fill="#40c8a0"/><circle cx="311.0" cy="296.5" r="1.6" fill="#767676"/><circle cx="353.1" cy="298.8" r="2.2" fill="#40c8a0"/><circle cx="352.4" cy="324.5" r="1.8" fill="#40c8a0"/><circle cx="328.6" cy="350.5" r="2.2" fill="#4050e8"/><circle cx="299.3" cy="306.2" r="1.8" fill="#c060a0"/><circle cx="299.4" cy="294.1" r="1.8" fill="#c850d8"/><circle cx="345.3" cy="299.4" r="2.1" fill="#4a70e0"/><circle cx="339.0" cy="336.0" r="2.3" fill="#7c7c7c"/><circle cx="296.3" cy="297.7" r="1.4" fill="#d0708a"/><circle cx="289.2" cy="310.1" r="2.0" fill="#767676"/><circle cx="291.3" cy="324.8" r="1.2" fill="#828282"/><circle cx="303.6" cy="350.1" r="2.5" fill="#d040c0"/><circle cx="337.2" cy="298.7" r="2.0" fill="#767676"/><circle cx="312.7" cy="302.5" r="1.9" fill="#80a890"/><circle cx="360.6" cy="320.1" r="1.3" fill="#4a60e8"/><circle cx="315.9" cy="298.4" r="1.3" fill="#80a890"/><circle cx="318.7" cy="289.2" r="2.1" fill="#7c7c7c"/><circle cx="326.1" cy="345.2" r="1.3" fill="#80a890"/><circle cx="336.3" cy="294.4" r="1.7" fill="#40e050"/><circle cx="310.9" cy="300.7" r="2.5" fill="#828282"/><circle cx="297.0" cy="309.9" r="2.1" fill="#8a50e0"/><circle cx="345.5" cy="301.1" r="2.1" fill="#828282"/><circle cx="284.0" cy="322.4" r="1.5" fill="#828282"/><circle cx="283.6" cy="320.8" r="2.3" fill="#828282"/><circle cx="296.6" cy="339.8" r="1.4" fill="#9090c0"/><circle cx="294.2" cy="325.8" r="1.9" fill="#7c7c7c"/><circle cx="352.6" cy="337.4" r="1.3" fill="#30d040"/><circle cx="303.5" cy="347.6" r="1.8" fill="#828282"/><circle cx="289.2" cy="323.4" r="1.7" fill="#7048e0"/><circle cx="350.2" cy="301.0" r="2.6" fill="#8a8a8a"/><circle cx="336.4" cy="288.0" r="1.7" fill="#7c7c7c"/><circle cx="342.2" cy="290.4" r="2.3" fill="#8a8a8a"/><circle cx="337.6" cy="293.1" r="2.0" fill="#30d040"/><circle cx="352.6" cy="322.2" r="1.9" fill="#7c7c7c"/><circle cx="356.9" cy="316.6" r="2.5" fill="#30d040"/><circle cx="313.3" cy="345.8" r="2.5" fill="#9090c0"/><circle cx="346.3" cy="306.2" r="1.9" fill="#80a890"/><circle cx="349.9" cy="335.6" r="1.8" fill="#8a8a8a"/><circle cx="296.6" cy="313.7" r="2.6" fill="#9090c0"/><circle cx="349.4" cy="329.6" r="2.1" fill="#8a8a8a"/><circle cx="343.2" cy="343.1" r="1.5" fill="#767676"/><circle cx="295.1" cy="315.7" r="1.6" fill="#767676"/><circle cx="306.7" cy="342.8" r="2.6" fill="#a888a8"/><circle cx="333.6" cy="288.2" r="1.3" fill="#7c7c7c"/><circle cx="358.0" cy="314.2" r="1.3" fill="#4a60e8"/><circle cx="330.9" cy="289.2" r="2.3" fill="#828282"/><circle cx="293.7" cy="328.9" r="2.0" fill="#7c7c7c"/><circle cx="298.0" cy="297.4" r="2.1" fill="#c060a0"/><circle cx="327.6" cy="289.9" r="1.9" fill="#40e050"/><circle cx="297.3" cy="342.4" r="1.2" fill="#e05070"/><circle cx="356.4" cy="301.6" r="1.9" fill="#7a8ae0"/><circle cx="326.4" cy="349.8" r="1.3" fill="#5a6ae8"/><circle cx="328.2" cy="344.1" r="1.3" fill="#828282"/><circle cx="350.1" cy="341.9" r="2.4" fill="#767676"/><circle cx="307.6" cy="304.0" r="2.4" fill="#9090c0"/><circle cx="335.5" cy="285.6" r="1.6" fill="#40e050"/><circle cx="351.4" cy="307.8" r="1.9" fill="#4a60e8"/><circle cx="289.2" cy="313.2" r="2.4" fill="#5050e8"/><circle cx="349.0" cy="321.1" r="1.8" fill="#a888a8"/><circle cx="336.6" cy="342.8" r="2.5" fill="#38c8a0"/><circle cx="343.6" cy="334.7" r="1.7" fill="#767676"/><circle cx="311.6" cy="299.0" r="1.8" fill="#828282"/><circle cx="304.3" cy="304.0" r="2.3" fill="#8a50e0"/><circle cx="351.6" cy="308.4" r="1.4" fill="#30d040"/><circle cx="323.1" cy="295.8" r="1.5" fill="#767676"/><circle cx="324.6" cy="288.1" r="1.9" fill="#4a58e0"/><circle cx="355.8" cy="318.6" r="2.0" fill="#38d050"/><circle cx="350.6" cy="295.9" r="2.0" fill="#767676"/><circle cx="303.0" cy="305.7" r="2.3" fill="#828282"/><circle cx="346.9" cy="329.1" r="2.2" fill="#7c7c7c"/><circle cx="332.6" cy="296.3" r="2.4" fill="#767676"/><circle cx="289.7" cy="315.8" r="1.5" fill="#38c848"/><circle cx="294.0" cy="320.9" r="2.0" fill="#a888a8"/><circle cx="327.6" cy="350.1" r="1.8" fill="#8a70e0"/><circle cx="349.0" cy="335.6" r="2.1" fill="#38c8a0"/><circle cx="348.1" cy="335.4" r="2.3" fill="#38c8a0"/><circle cx="350.0" cy="330.0" r="1.9" fill="#4a60e8"/><circle cx="351.8" cy="296.4" r="1.3" fill="#4a60e8"/><circle cx="340.8" cy="282.9" r="2.2" fill="#4a70e0"/><circle cx="359.4" cy="308.4" r="2.5" fill="#40c8a0"/><circle cx="338.9" cy="347.9" r="1.2" fill="#40e050"/><circle cx="291.0" cy="305.6" r="1.5" fill="#8a8a8a"/><circle cx="341.8" cy="294.0" r="1.9" fill="#38d848"/><circle cx="308.1" cy="298.7" r="1.5" fill="#c060a0"/><circle cx="348.0" cy="306.0" r="2.1" fill="#828282"/><circle cx="313.9" cy="354.8" r="2.6" fill="#e05070"/><circle cx="288.4" cy="323.9" r="1.4" fill="#8a8a8a"/><circle cx="344.4" cy="334.2" r="1.4" fill="#828282"/><circle cx="290.6" cy="335.8" r="1.2" fill="#7048e0"/><circle cx="349.6" cy="298.4" r="1.8" fill="#7c7c7c"/><circle cx="308.7" cy="296.2" r="2.0" fill="#c850d8"/><circle cx="355.6" cy="313.0" r="1.5" fill="#828282"/><circle cx="299.1" cy="311.0" r="2.5" fill="#9090c0"/><circle cx="311.3" cy="351.8" r="2.5" fill="#8a8a8a"/><circle cx="352.5" cy="330.5" r="2.3" fill="#4a60e8"/><circle cx="323.3" cy="290.2" r="1.4" fill="#5a7ae0"/><circle cx="332.5" cy="291.6" r="2.5" fill="#40e050"/><circle cx="297.4" cy="303.2" r="1.4" fill="#e048c8"/><circle cx="301.0" cy="299.2" r="1.6" fill="#d0708a"/><circle cx="287.0" cy="321.7" r="1.5" fill="#38c848"/><circle cx="350.4" cy="313.9" r="2.2" fill="#7c7c7c"/><circle cx="340.1" cy="342.5" r="2.1" fill="#7c7c7c"/><circle cx="343.8" cy="298.6" r="1.4" fill="#38d848"/><circle cx="360.5" cy="315.2" r="2.4" fill="#767676"/><circle cx="347.5" cy="342.7" r="1.5" fill="#828282"/><circle cx="351.3" cy="316.4" r="2.5" fill="#828282"/><circle cx="288.2" cy="305.1" r="1.6" fill="#8a50e0"/><circle cx="330.2" cy="350.1" r="1.4" fill="#8a8a8a"/><circle cx="332.2" cy="348.9" r="2.1" fill="#4050e8"/><circle cx="318.3" cy="293.5" r="1.8" fill="#4a60e8"/><circle cx="349.2" cy="294.4" r="2.3" fill="#30d040"/><circle cx="287.1" cy="307.5" r="1.5" fill="#40d050"/><circle cx="353.7" cy="332.9" r="1.7" fill="#4a90e0"/><circle cx="335.3" cy="342.4" r="2.2" fill="#4a90e0"/><circle cx="308.2" cy="289.3" r="2.4" fill="#c850d8"/><circle cx="327.5" cy="349.1" r="1.2" fill="#4848e0"/><circle cx="328.8" cy="295.7" r="1.4" fill="#8a8a8a"/><circle cx="324.9" cy="292.3" r="1.9" fill="#7c7c7c"/><circle cx="284.9" cy="308.2" r="2.4" fill="#5050e8"/><circle cx="355.5" cy="316.6" r="1.4" fill="#4a60e8"/><circle cx="311.5" cy="297.0" r="1.6" fill="#c060a0"/><circle cx="288.7" cy="303.1" r="2.3" fill="#c060a0"/><circle cx="348.0" cy="305.9" r="2.1" fill="#828282"/><circle cx="309.5" cy="304.5" r="2.5" fill="#767676"/><circle cx="297.0" cy="339.3" r="1.6" fill="#7c7c7c"/><circle cx="288.9" cy="309.9" r="1.4" fill="#5050e8"/><circle cx="347.6" cy="319.9" r="2.2" fill="#8a8a8a"/><circle cx="347.3" cy="298.2" r="1.3" fill="#4a70e0"/><circle cx="352.4" cy="310.1" r="1.4" fill="#7a8ae0"/><circle cx="341.4" cy="286.2" r="2.0" fill="#40e050"/><circle cx="344.6" cy="306.6" r="2.3" fill="#80a890"/><circle cx="307.9" cy="288.9" r="2.4" fill="#c850d8"/><circle cx="338.5" cy="340.2" r="1.4" fill="#767676"/><circle cx="349.3" cy="331.7" r="1.5" fill="#7c7c7c"/><circle cx="315.5" cy="349.8" r="2.0" fill="#7c7c7c"/><circle cx="341.7" cy="285.2" r="2.5" fill="#38d848"/><circle cx="354.4" cy="302.3" r="2.6" fill="#38d050"/><circle cx="312.0" cy="344.5" r="1.7" fill="#a888a8"/><circle cx="358.7" cy="317.4" r="1.8" fill="#30d040"/><circle cx="297.5" cy="300.4" r="2.6" fill="#8a8a8a"/><circle cx="292.2" cy="339.2" r="1.8" fill="#d040c0"/><circle cx="345.0" cy="330.1" r="2.1" fill="#767676"/><circle cx="294.2" cy="337.0" r="2.0" fill="#7c7c7c"/><circle cx="356.0" cy="315.8" r="2.5" fill="#7a8ae0"/><circle cx="298.8" cy="296.2" r="2.1" fill="#e048c8"/><circle cx="292.7" cy="302.3" r="2.3" fill="#c060a0"/><circle cx="339.5" cy="336.4" r="2.5" fill="#767676"/><circle cx="353.7" cy="331.5" r="1.2" fill="#40c8a0"/><circle cx="336.7" cy="284.0" r="1.9" fill="#30d040"/><circle cx="344.1" cy="344.4" r="2.0" fill="#40e050"/><circle cx="345.5" cy="305.1" r="1.8" fill="#9090c0"/><circle cx="344.4" cy="306.0" r="2.0" fill="#767676"/><circle cx="289.4" cy="308.3" r="2.5" fill="#828282"/><circle cx="356.3" cy="318.9" r="2.2" fill="#828282"/><circle cx="329.4" cy="291.8" r="2.0" fill="#4a70e0"/><circle cx="283.4" cy="321.5" r="1.7" fill="#767676"/><circle cx="324.9" cy="344.2" r="2.3" fill="#7c7c7c"/><circle cx="330.4" cy="341.9" r="1.3" fill="#9090c0"/><circle cx="324.3" cy="286.7" r="2.3" fill="#30b0d0"/><circle cx="291.3" cy="317.5" r="2.0" fill="#7048e0"/><circle cx="306.5" cy="345.9" r="2.1" fill="#8a8a8a"/><circle cx="308.4" cy="300.2" r="1.3" fill="#c060a0"/><circle cx="316.9" cy="298.4" r="2.3" fill="#828282"/><circle cx="288.7" cy="330.1" r="1.9" fill="#40d050"/><circle cx="340.9" cy="346.9" r="2.1" fill="#828282"/><circle cx="337.6" cy="294.4" r="2.1" fill="#8a8a8a"/><circle cx="352.4" cy="300.6" r="2.5" fill="#30d040"/><circle cx="309.9" cy="292.2" r="2.0" fill="#8a50e0"/><circle cx="358.5" cy="320.6" r="2.0" fill="#767676"/><circle cx="324.4" cy="349.6" r="1.7" fill="#5a6ae8"/><circle cx="305.0" cy="306.0" r="2.2" fill="#7c7c7c"/><circle cx="350.6" cy="337.9" r="1.2" fill="#7c7c7c"/><circle cx="333.5" cy="342.7" r="2.2" fill="#828282"/><circle cx="323.4" cy="289.7" r="2.4" fill="#30b0d0"/><circle cx="338.5" cy="339.9" r="1.4" fill="#8a8a8a"/><circle cx="320.7" cy="345.8" r="1.3" fill="#80a890"/><circle cx="340.8" cy="343.3" r="1.8" fill="#40e050"/><circle cx="311.2" cy="293.3" r="1.3" fill="#c850d8"/><circle cx="357.5" cy="323.0" r="2.3" fill="#4a60e8"/><circle cx="344.3" cy="287.0" r="1.7" fill="#30d040"/><circle cx="308.3" cy="345.7" r="1.2" fill="#a888a8"/><circle cx="344.6" cy="334.4" r="1.2" fill="#9090c0"/><circle cx="347.4" cy="306.2" r="1.5" fill="#8a8a8a"/><circle cx="316.0" cy="286.6" r="2.1" fill="#767676"/><circle cx="344.0" cy="340.0" r="2.2" fill="#38c8a0"/><circle cx="315.8" cy="344.4" r="1.2" fill="#a888a8"/><circle cx="348.7" cy="323.6" r="1.6" fill="#767676"/><circle cx="322.8" cy="288.6" r="1.3" fill="#4a58e0"/><circle cx="308.9" cy="295.0" r="1.4" fill="#e048c8"/><circle cx="281.1" cy="319.9" r="2.3" fill="#38c848"/><circle cx="352.1" cy="340.9" r="1.9" fill="#38c8a0"/><circle cx="326.6" cy="350.2" r="1.3" fill="#8a70e0"/><circle cx="301.4" cy="340.6" r="1.7" fill="#767676"/><circle cx="356.0" cy="317.5" r="1.4" fill="#767676"/><circle cx="293.0" cy="337.9" r="1.8" fill="#d040c0"/><circle cx="335.8" cy="296.6" r="1.7" fill="#7c7c7c"/><circle cx="358.6" cy="319.9" r="2.2" fill="#828282"/><circle cx="355.2" cy="335.9" r="1.4" fill="#38c8a0"/><circle cx="347.2" cy="327.9" r="2.1" fill="#828282"/><circle cx="284.3" cy="320.9" r="1.4" fill="#38c848"/><circle cx="313.0" cy="297.7" r="2.1" fill="#e048c8"/><circle cx="341.1" cy="293.7" r="1.6" fill="#767676"/><circle cx="293.0" cy="324.3" r="2.3" fill="#9090c0"/><circle cx="354.7" cy="314.2" r="2.3" fill="#40c8a0"/><circle cx="311.1" cy="302.4" r="1.3" fill="#828282"/><circle cx="358.0" cy="308.3" r="2.2" fill="#38d050"/><circle cx="293.0" cy="312.4" r="2.1" fill="#40d050"/><circle cx="295.5" cy="342.5" r="1.9" fill="#9a60d0"/><circle cx="300.6" cy="294.5" r="1.8" fill="#e048c8"/><circle cx="303.1" cy="293.2" r="1.9" fill="#d0708a"/><circle cx="358.0" cy="309.8" r="1.2" fill="#40c8a0"/><circle cx="300.4" cy="308.2" r="1.7" fill="#767676"/><circle cx="324.1" cy="294.6" r="2.4" fill="#8a8a8a"/><circle cx="288.4" cy="311.8" r="2.4" fill="#7c7c7c"/><circle cx="315.5" cy="296.1" r="2.2" fill="#4a60e8"/><circle cx="293.3" cy="299.6" r="2.0" fill="#c060a0"/><circle cx="349.8" cy="321.5" r="2.1" fill="#8a8a8a"/><circle cx="293.3" cy="305.1" r="2.5" fill="#c060a0"/><circle cx="306.3" cy="342.7" r="2.6" fill="#8a8a8a"/><circle cx="359.0" cy="314.9" r="1.6" fill="#7a8ae0"/><circle cx="316.4" cy="298.8" r="1.6" fill="#80a890"/><circle cx="350.7" cy="317.4" r="2.0" fill="#767676"/><circle cx="345.3" cy="293.0" r="1.8" fill="#38d848"/><circle cx="327.7" cy="349.2" r="2.0" fill="#4050e8"/><circle cx="301.7" cy="307.8" r="1.6" fill="#c850d8"/><circle cx="323.8" cy="295.9" r="2.4" fill="#7c7c7c"/><circle cx="310.7" cy="290.7" r="1.9" fill="#828282"/><circle cx="355.5" cy="321.0" r="1.5" fill="#767676"/><circle cx="326.1" cy="284.8" r="2.2" fill="#5a7ae0"/><circle cx="329.7" cy="288.8" r="2.3" fill="#30d040"/><circle cx="311.7" cy="297.3" r="1.5" fill="#d0708a"/><circle cx="342.3" cy="336.3" r="1.8" fill="#9090c0"/><circle cx="306.6" cy="350.8" r="2.1" fill="#e05070"/><circle cx="292.6" cy="297.1" r="1.7" fill="#c060a0"/><circle cx="331.5" cy="284.0" r="2.0" fill="#8a8a8a"/><circle cx="298.3" cy="303.4" r="1.7" fill="#d0708a"/><circle cx="316.6" cy="299.8" r="2.3" fill="#9090c0"/><circle cx="353.4" cy="323.4" r="2.1" fill="#828282"/><circle cx="294.8" cy="322.8" r="2.1" fill="#a888a8"/><circle cx="291.9" cy="314.6" r="1.5" fill="#767676"/><circle cx="356.2" cy="307.9" r="2.0" fill="#40c8a0"/><circle cx="337.7" cy="287.5" r="1.9" fill="#40e050"/><circle cx="319.1" cy="295.7" r="1.8" fill="#5a7ae0"/><circle cx="354.1" cy="310.3" r="2.0" fill="#4a60e8"/><circle cx="356.1" cy="329.3" r="1.5" fill="#7a8ae0"/><circle cx="340.5" cy="293.3" r="1.3" fill="#4a70e0"/><circle cx="340.8" cy="289.7" r="2.4" fill="#4a70e0"/><circle cx="323.4" cy="290.5" r="2.3" fill="#30b0d0"/><circle cx="352.1" cy="306.8" r="1.5" fill="#30d040"/><circle cx="301.1" cy="291.6" r="2.3" fill="#d0708a"/><circle cx="292.5" cy="317.5" r="1.6" fill="#828282"/><circle cx="358.8" cy="324.6" r="1.5" fill="#7a8ae0"/><circle cx="330.7" cy="349.7" r="1.9" fill="#8a70e0"/><circle cx="314.5" cy="298.4" r="1.5" fill="#767676"/><circle cx="311.3" cy="350.6" r="1.7" fill="#828282"/><circle cx="285.7" cy="329.0" r="2.5" fill="#767676"/><circle cx="350.8" cy="305.6" r="1.8" fill="#7c7c7c"/><circle cx="304.4" cy="300.7" r="1.5" fill="#e048c8"/><circle cx="301.4" cy="297.7" r="1.3" fill="#d0708a"/><circle cx="282.2" cy="318.4" r="1.7" fill="#7048e0"/><circle cx="318.7" cy="352.5" r="1.8" fill="#8a70e0"/><circle cx="348.3" cy="301.1" r="1.2" fill="#38d050"/><circle cx="300.4" cy="292.3" r="1.6" fill="#8a50e0"/><circle cx="295.4" cy="333.8" r="2.6" fill="#80a890"/><circle cx="283.7" cy="322.7" r="2.0" fill="#9a50e0"/><circle cx="325.7" cy="292.9" r="1.3" fill="#8a8a8a"/><circle cx="292.3" cy="319.4" r="2.2" fill="#828282"/><circle cx="297.4" cy="314.2" r="2.0" fill="#8a8a8a"/><circle cx="331.2" cy="293.4" r="2.0" fill="#40e050"/><circle cx="356.0" cy="334.1" r="1.5" fill="#40e050"/><circle cx="350.1" cy="322.1" r="1.6" fill="#8a8a8a"/><circle cx="361.3" cy="319.6" r="1.7" fill="#7c7c7c"/><circle cx="300.6" cy="338.4" r="2.1" fill="#9090c0"/><circle cx="317.5" cy="346.1" r="2.1" fill="#8a8a8a"/><circle cx="331.1" cy="286.8" r="1.2" fill="#38d848"/><circle cx="290.5" cy="301.3" r="2.1" fill="#8a50e0"/><circle cx="324.1" cy="286.0" r="2.1" fill="#30b0d0"/><circle cx="343.1" cy="285.6" r="1.3" fill="#8a8a8a"/><circle cx="319.1" cy="351.3" r="2.4" fill="#5a6ae8"/><circle cx="304.2" cy="297.0" r="1.9" fill="#c850d8"/><circle cx="347.5" cy="325.7" r="1.5" fill="#8a8a8a"/><circle cx="282.7" cy="322.4" r="1.2" fill="#40d050"/><circle cx="303.5" cy="299.7" r="1.7" fill="#7c7c7c"/><circle cx="288.5" cy="309.1" r="2.1" fill="#767676"/><circle cx="339.5" cy="285.0" r="1.7" fill="#30d040"/><circle cx="322.9" cy="294.2" r="1.3" fill="#4a58e0"/><circle cx="304.6" cy="345.8" r="2.2" fill="#767676"/><circle cx="299.7" cy="304.6" r="1.6" fill="#8a8a8a"/><circle cx="295.6" cy="336.0" r="1.9" fill="#8a8a8a"/><circle cx="340.1" cy="338.9" r="2.3" fill="#a888a8"/><circle cx="288.5" cy="303.3" r="1.8" fill="#e048c8"/><circle cx="302.2" cy="311.0" r="1.3" fill="#767676"/><circle cx="296.4" cy="342.2" r="1.3" fill="#d040c0"/><circle cx="337.5" cy="295.3" r="1.7" fill="#4a70e0"/><circle cx="303.2" cy="303.2" r="2.6" fill="#7c7c7c"/><circle cx="344.4" cy="288.4" r="2.0" fill="#30d040"/><circle cx="357.6" cy="330.2" r="1.4" fill="#8a8a8a"/><circle cx="294.3" cy="331.4" r="1.5" fill="#7c7c7c"/><circle cx="352.6" cy="313.2" r="1.5" fill="#38d050"/><circle cx="347.5" cy="330.0" r="1.7" fill="#a888a8"/><circle cx="332.3" cy="296.2" r="1.9" fill="#828282"/><circle cx="288.2" cy="301.5" r="1.8" fill="#8a50e0"/><circle cx="332.4" cy="349.4" r="1.3" fill="#4050e8"/><circle cx="351.2" cy="312.7" r="1.8" fill="#8a8a8a"/><circle cx="297.6" cy="299.5" r="1.7" fill="#8a50e0"/><circle cx="346.8" cy="306.3" r="1.8" fill="#767676"/><circle cx="292.2" cy="319.5" r="1.6" fill="#40d050"/><circle cx="343.0" cy="300.9" r="2.4" fill="#828282"/><circle cx="299.6" cy="299.4" r="1.8" fill="#c060a0"/><circle cx="330.4" cy="296.2" r="1.9" fill="#767676"/><circle cx="351.2" cy="335.2" r="1.4" fill="#40e050"/><circle cx="303.8" cy="307.6" r="1.8" fill="#7c7c7c"/><circle cx="301.7" cy="304.6" r="2.5" fill="#e048c8"/><circle cx="329.4" cy="343.9" r="1.9" fill="#8a8a8a"/><circle cx="299.2" cy="309.0" r="2.1" fill="#c850d8"/><circle cx="293.2" cy="323.2" r="1.3" fill="#8a8a8a"/><circle cx="294.5" cy="316.4" r="2.2" fill="#a888a8"/><circle cx="294.1" cy="299.5" r="2.2" fill="#c850d8"/><circle cx="318.9" cy="296.0" r="1.4" fill="#828282"/><circle cx="312.3" cy="298.0" r="1.6" fill="#8a50e0"/><circle cx="330.3" cy="285.4" r="1.9" fill="#767676"/><circle cx="317.2" cy="347.6" r="2.0" fill="#80a890"/><circle cx="305.8" cy="299.5" r="2.3" fill="#828282"/><circle cx="284.1" cy="321.9" r="1.9" fill="#7c7c7c"/><circle cx="326.2" cy="295.6" r="1.6" fill="#828282"/><circle cx="300.9" cy="308.4" r="1.9" fill="#767676"/><circle cx="292.1" cy="338.5" r="1.9" fill="#767676"/><circle cx="314.0" cy="345.9" r="1.6" fill="#767676"/><circle cx="345.6" cy="291.4" r="2.3" fill="#38d848"/><circle cx="331.5" cy="341.2" r="2.5" fill="#7c7c7c"/><circle cx="333.6" cy="346.7" r="2.5" fill="#4848e0"/><circle cx="334.0" cy="344.1" r="2.3" fill="#4848e0"/><circle cx="300.8" cy="307.1" r="2.2" fill="#e048c8"/><circle cx="351.6" cy="334.5" r="1.3" fill="#30d040"/><circle cx="307.8" cy="298.1" r="2.6" fill="#c850d8"/><circle cx="283.6" cy="323.5" r="2.1" fill="#38c848"/><circle cx="296.2" cy="339.1" r="1.9" fill="#767676"/><circle cx="294.9" cy="311.2" r="2.0" fill="#5050e8"/><circle cx="285.1" cy="309.7" r="1.4" fill="#7048e0"/><circle cx="309.6" cy="289.3" r="2.0" fill="#828282"/><circle cx="295.4" cy="298.5" r="2.2" fill="#c850d8"/><circle cx="336.0" cy="290.9" r="2.5" fill="#38d848"/><circle cx="322.4" cy="349.0" r="2.1" fill="#5a6ae8"/><circle cx="348.6" cy="334.1" r="2.1" fill="#767676"/><circle cx="341.7" cy="345.1" r="2.1" fill="#38c8a0"/><circle cx="351.4" cy="296.1" r="2.5" fill="#38d050"/><circle cx="332.4" cy="291.6" r="2.0" fill="#40e050"/><circle cx="351.4" cy="311.0" r="1.5" fill="#7c7c7c"/><circle cx="311.8" cy="292.1" r="2.5" fill="#e048c8"/><circle cx="296.7" cy="314.6" r="1.8" fill="#7c7c7c"/><circle cx="355.2" cy="308.2" r="2.4" fill="#7a8ae0"/><circle cx="337.8" cy="288.4" r="1.4" fill="#38d848"/><circle cx="295.5" cy="339.3" r="2.4" fill="#767676"/><circle cx="297.8" cy="336.9" r="1.5" fill="#767676"/><circle cx="314.0" cy="349.1" r="2.5" fill="#9a60d0"/><circle cx="349.6" cy="341.2" r="1.2" fill="#40e050"/><circle cx="328.8" cy="293.1" r="1.9" fill="#38d848"/><circle cx="289.0" cy="301.0" r="1.6" fill="#c850d8"/><circle cx="313.8" cy="348.8" r="2.0" fill="#e04890"/><circle cx="352.8" cy="333.8" r="2.0" fill="#4a90e0"/><circle cx="298.6" cy="310.7" r="1.9" fill="#80a890"/><circle cx="286.6" cy="305.2" r="2.1" fill="#e048c8"/><circle cx="352.6" cy="302.8" r="1.5" fill="#30d040"/><circle cx="304.6" cy="351.2" r="2.0" fill="#7c7c7c"/><circle cx="301.4" cy="291.5" r="1.8" fill="#7c7c7c"/><circle cx="333.0" cy="342.0" r="1.6" fill="#7c7c7c"/><circle cx="359.4" cy="311.7" r="1.4" fill="#7a8ae0"/><circle cx="344.9" cy="301.6" r="2.3" fill="#80a890"/><circle cx="349.5" cy="328.3" r="1.8" fill="#767676"/><circle cx="342.8" cy="333.6" r="1.9" fill="#828282"/><circle cx="284.6" cy="307.8" r="2.1" fill="#7048e0"/><circle cx="312.8" cy="349.7" r="1.5" fill="#d040c0"/><circle cx="320.4" cy="293.9" r="1.7" fill="#7c7c7c"/><circle cx="341.2" cy="341.8" r="2.2" fill="#38c8a0"/><circle cx="357.1" cy="302.3" r="2.5" fill="#4a60e8"/><circle cx="286.0" cy="323.1" r="2.5" fill="#38c848"/><circle cx="336.0" cy="284.5" r="1.6" fill="#40e050"/><circle cx="300.8" cy="311.4" r="1.7" fill="#8a8a8a"/><circle cx="311.4" cy="299.9" r="1.3" fill="#828282"/><circle cx="294.4" cy="336.9" r="1.9" fill="#828282"/><circle cx="334.4" cy="341.5" r="1.2" fill="#7c7c7c"/><circle cx="288.9" cy="330.2" r="1.9" fill="#828282"/><circle cx="318.0" cy="293.0" r="2.4" fill="#767676"/><circle cx="351.8" cy="335.9" r="1.2" fill="#7c7c7c"/><circle cx="291.0" cy="315.9" r="1.6" fill="#40d050"/><circle cx="353.6" cy="303.3" r="1.4" fill="#7a8ae0"/><circle cx="327.6" cy="343.2" r="2.1" fill="#7c7c7c"/><circle cx="305.3" cy="347.6" r="1.2" fill="#9a60d0"/><circle cx="292.0" cy="328.3" r="1.9" fill="#7c7c7c"/><circle cx="293.2" cy="307.1" r="2.6" fill="#7c7c7c"/><circle cx="310.9" cy="353.6" r="1.7" fill="#d040c0"/><circle cx="344.0" cy="336.9" r="2.3" fill="#30d040"/><circle cx="340.8" cy="341.7" r="2.3" fill="#8a8a8a"/><circle cx="296.7" cy="308.0" r="2.1" fill="#828282"/><circle cx="352.5" cy="308.2" r="2.0" fill="#38d050"/><circle cx="325.7" cy="345.7" r="2.5" fill="#828282"/><circle cx="289.4" cy="304.7" r="1.3" fill="#d0708a"/><circle cx="287.2" cy="311.5" r="2.5" fill="#9a50e0"/><circle cx="295.4" cy="336.4" r="2.5" fill="#828282"/><circle cx="322.5" cy="292.0" r="1.5" fill="#7c7c7c"/><circle cx="315.8" cy="355.5" r="1.8" fill="#828282"/><circle cx="345.0" cy="342.0" r="1.8" fill="#38c8a0"/><circle cx="341.9" cy="301.8" r="1.5" fill="#8a8a8a"/><circle cx="322.5" cy="288.0" r="2.0" fill="#4a60e8"/><circle cx="326.1" cy="350.9" r="2.3" fill="#828282"/><circle cx="302.3" cy="293.1" r="2.1" fill="#c060a0"/><circle cx="308.2" cy="295.3" r="2.5" fill="#8a50e0"/><circle cx="301.1" cy="306.7" r="1.5" fill="#c850d8"/><circle cx="328.3" cy="349.6" r="1.5" fill="#5a6ae8"/><circle cx="314.0" cy="288.1" r="1.7" fill="#767676"/><circle cx="319.2" cy="296.4" r="1.8" fill="#7c7c7c"/><circle cx="281.1" cy="321.6" r="2.2" fill="#767676"/><circle cx="351.3" cy="307.8" r="1.3" fill="#38d050"/><circle cx="342.0" cy="289.8" r="2.3" fill="#38d848"/><circle cx="329.7" cy="293.4" r="2.5" fill="#4a70e0"/><circle cx="345.9" cy="343.4" r="1.3" fill="#40e050"/><circle cx="354.9" cy="336.8" r="2.0" fill="#4a90e0"/><circle cx="318.7" cy="291.3" r="1.5" fill="#4a60e8"/><circle cx="329.9" cy="283.9" r="2.1" fill="#40e050"/><circle cx="306.9" cy="301.0" r="1.6" fill="#8a8a8a"/><circle cx="312.4" cy="352.8" r="1.9" fill="#8a8a8a"/><circle cx="342.4" cy="335.8" r="2.3" fill="#828282"/><circle cx="353.9" cy="309.7" r="1.7" fill="#30d040"/><circle cx="302.8" cy="290.6" r="2.3" fill="#828282"/><circle cx="345.1" cy="288.0" r="1.3" fill="#38d848"/><circle cx="303.8" cy="307.8" r="2.1" fill="#8a8a8a"/><circle cx="285.7" cy="313.0" r="1.5" fill="#9a50e0"/><circle cx="295.0" cy="297.2" r="2.6" fill="#8a50e0"/><circle cx="339.2" cy="287.0" r="1.9" fill="#38d848"/><circle cx="353.8" cy="314.4" r="2.0" fill="#30d040"/><circle cx="358.0" cy="332.2" r="2.3" fill="#767676"/><circle cx="291.4" cy="322.6" r="1.3" fill="#38c848"/><circle cx="350.2" cy="307.4" r="2.3" fill="#767676"/><circle cx="288.1" cy="319.7" r="2.0" fill="#8a8a8a"/><circle cx="348.4" cy="300.6" r="1.4" fill="#4a60e8"/><circle cx="300.9" cy="342.2" r="2.1" fill="#8a8a8a"/><circle cx="317.2" cy="351.5" r="1.9" fill="#5a6ae8"/><circle cx="351.2" cy="327.3" r="1.4" fill="#828282"/><circle cx="351.2" cy="321.5" r="1.8" fill="#80a890"/><circle cx="315.2" cy="352.8" r="2.5" fill="#9a60d0"/><circle cx="317.5" cy="349.9" r="1.7" fill="#8a8a8a"/><circle cx="349.1" cy="311.5" r="2.3" fill="#9090c0"/><circle cx="314.2" cy="347.3" r="2.2" fill="#767676"/><circle cx="298.1" cy="345.0" r="1.7" fill="#828282"/><circle cx="315.0" cy="289.7" r="2.4" fill="#4a60e8"/><circle cx="320.2" cy="292.3" r="2.4" fill="#7c7c7c"/><circle cx="346.3" cy="340.3" r="2.4" fill="#7c7c7c"/><circle cx="313.5" cy="351.0" r="1.2" fill="#7c7c7c"/><circle cx="345.3" cy="292.3" r="2.0" fill="#40e050"/><circle cx="346.9" cy="334.2" r="2.5" fill="#40e050"/><circle cx="293.4" cy="339.3" r="2.1" fill="#8a8a8a"/><circle cx="324.6" cy="349.7" r="1.3" fill="#4848e0"/><circle cx="293.5" cy="296.9" r="1.2" fill="#c850d8"/><circle cx="284.4" cy="314.1" r="1.5" fill="#5050e8"/><circle cx="301.7" cy="295.9" r="2.2" fill="#c060a0"/><circle cx="353.9" cy="334.3" r="1.5" fill="#4a90e0"/><circle cx="301.3" cy="308.3" r="2.4" fill="#828282"/><circle cx="331.4" cy="286.7" r="1.5" fill="#38d848"/><circle cx="312.4" cy="289.4" r="2.1" fill="#4a60e8"/><circle cx="347.7" cy="330.9" r="1.4" fill="#767676"/><circle cx="289.5" cy="317.3" r="2.4" fill="#9a50e0"/><circle cx="290.4" cy="337.8" r="1.3" fill="#7048e0"/><circle cx="349.5" cy="297.2" r="2.4" fill="#7a8ae0"/><circle cx="331.8" cy="290.0" r="2.6" fill="#8a8a8a"/><circle cx="282.5" cy="314.6" r="2.4" fill="#767676"/><circle cx="290.2" cy="322.9" r="2.2" fill="#5050e8"/><circle cx="348.4" cy="337.8" r="1.9" fill="#4a90e0"/><circle cx="304.7" cy="296.1" r="1.9" fill="#e048c8"/><circle cx="308.6" cy="353.4" r="1.6" fill="#c04898"/>
</g>
<g filter="url(#tumg)"><polygon points="326.1,295.9 340.1,298.8 348.6,310.0 348.6,326.8 337.3,338.1 323.3,345.1 309.2,345.1 297.9,338.1 292.3,328.3 297.9,314.2 309.2,304.3 317.6,298.8" fill="#828282"/></g>
<g filter="url(#corefx)"><polygon points="333.1,318.3 339.6,321.7 334.5,323.3 330.0,323.3 327.7,325.9 323.6,326.3 321.1,323.7 316.6,323.5 313.0,321.4 317.7,318.3 313.7,315.3 315.8,312.7 322.0,314.0 323.2,308.8 327.7,310.7 329.4,314.0 334.2,313.5 337.1,315.5" fill="#050505"/></g>
<rect x="352.4" y="341.6" width="37.60" height="39.70" fill="#141414"/>
<rect x="352.4" y="341.6" width="37.60" height="39.70" fill="#fff" filter="url(#speckB)"/>
<polyline points="352.4,381.3 352.4,341.6 390,341.6" fill="none" stroke="#d8d8d8" stroke-width="1"/>
<circle cx="373.2" cy="362" r="12.2" fill="#050505" stroke="#2cd444" stroke-width="1.4"/>
<circle cx="373.2" cy="362" r="13.4" fill="none" stroke="#0c4a16" stroke-width="1.2" opacity="0.85"/>
<circle cx="359.3" cy="347.7" r="5.6" fill="#fff"/>
<text x="359.30" y="350.70" font-size="8.4" font-weight="bold" fill="#222" text-anchor="middle" >S</text>
<circle cx="275" cy="266.7" r="8.2" fill="#8a3cf0"/>
<text x="275.00" y="270.70" font-size="11.5" font-weight="bold" fill="#fff" text-anchor="middle" >4</text>
<text x="378.20" y="269.40" font-size="12" font-weight="bold" fill="#fff" text-anchor="start" >D</text>
</g>
<g id="panelD5">
<rect x="392.1" y="256" width="126.90" height="125.30" fill="#141414"/>
<rect x="392.1" y="256" width="126.90" height="125.30" fill="#fff" filter="url(#speckB)"/>
<g filter="url(#tum)">
<polygon points="427.5,269.3 440.4,266.1 451.7,275.8 461.4,270.9 476.0,267.7 488.9,277.4 495.3,288.7 501.8,300.0 503.4,314.5 500.2,329.0 488.9,337.1 480.8,338.7 477.6,351.6 466.3,361.3 461.4,371.0 446.9,372.6 437.2,367.8 430.7,361.3 421.1,354.9 408.1,345.2 398.5,332.3 395.2,319.4 398.5,306.4 408.1,296.7 411.4,283.8 419.4,274.1" fill="#3a58c8"/>
<polygon points="428.1,270.5 440.7,267.4 451.7,276.9 461.2,272.1 475.4,269.0 488.0,278.4 494.2,289.4 500.6,300.5 502.1,314.6 499.0,328.7 488.0,336.6 480.1,338.2 477.0,350.8 466.0,360.2 461.2,369.7 447.0,371.2 437.6,366.6 431.2,360.2 421.9,354.0 409.2,344.5 399.9,332.0 396.6,319.4 399.9,306.7 409.2,297.2 412.4,284.7 420.2,275.2" fill="#4434e6"/>
<circle cx="421.5" cy="319.6" r="2.5" fill="#7c7c7c"/><circle cx="470.5" cy="321.9" r="1.8" fill="#8888a0"/><circle cx="446.9" cy="352.9" r="1.7" fill="#6a40e8"/><circle cx="443.8" cy="350.6" r="2.4" fill="#c038d8"/><circle cx="481.0" cy="277.6" r="2.3" fill="#8040e0"/><circle cx="501.0" cy="305.5" r="1.8" fill="#b840e0"/><circle cx="443.9" cy="278.6" r="2.8" fill="#d040e0"/><circle cx="464.9" cy="323.5" r="2.7" fill="#8a8a8a"/><circle cx="398.2" cy="310.9" r="2.6" fill="#3434ec"/><circle cx="482.9" cy="323.6" r="2.1" fill="#2828e0"/><circle cx="459.6" cy="370.7" r="2.5" fill="#4038e8"/><circle cx="454.7" cy="360.3" r="1.5" fill="#c038d8"/><circle cx="445.4" cy="368.2" r="1.4" fill="#2c2ce4"/><circle cx="450.0" cy="346.4" r="2.4" fill="#3434ec"/><circle cx="467.5" cy="343.7" r="2.3" fill="#d040e0"/><circle cx="469.6" cy="281.0" r="1.9" fill="#4038e8"/><circle cx="487.9" cy="307.2" r="2.8" fill="#b840e0"/><circle cx="500.6" cy="301.2" r="2.2" fill="#d848d8"/><circle cx="489.1" cy="289.1" r="2.4" fill="#14101e"/><circle cx="430.7" cy="271.3" r="1.7" fill="#d040e0"/><circle cx="444.1" cy="330.0" r="1.5" fill="#7e7e90"/><circle cx="484.5" cy="295.3" r="2.2" fill="#3434ec"/><circle cx="442.3" cy="343.9" r="2.6" fill="#3030e8"/><circle cx="396.3" cy="322.6" r="2.0" fill="#b840e0"/><circle cx="444.8" cy="309.3" r="1.5" fill="#828282"/><circle cx="487.8" cy="336.0" r="1.8" fill="#d848d8"/><circle cx="447.8" cy="275.1" r="1.6" fill="#4038e8"/><circle cx="419.5" cy="283.2" r="2.4" fill="#d848d8"/><circle cx="415.8" cy="301.3" r="2.1" fill="#c038d8"/><circle cx="480.1" cy="298.4" r="1.4" fill="#c038d8"/><circle cx="474.1" cy="300.8" r="2.5" fill="#8888a0"/><circle cx="475.2" cy="296.8" r="1.8" fill="#4038e8"/><circle cx="430.6" cy="341.5" r="1.8" fill="#8888a0"/><circle cx="447.2" cy="277.0" r="1.4" fill="#4038e8"/><circle cx="426.8" cy="271.6" r="1.6" fill="#3aa8b8"/><circle cx="447.4" cy="352.1" r="2.4" fill="#8888a0"/><circle cx="427.7" cy="331.3" r="1.3" fill="#828282"/><circle cx="438.5" cy="298.8" r="2.5" fill="#8a8a8a"/><circle cx="479.2" cy="335.0" r="1.6" fill="#14101e"/><circle cx="416.6" cy="312.3" r="2.5" fill="#6a40e8"/><circle cx="462.9" cy="299.0" r="1.6" fill="#828282"/><circle cx="413.7" cy="345.9" r="1.7" fill="#e060d0"/><circle cx="445.3" cy="331.0" r="2.6" fill="#3030e8"/><circle cx="486.4" cy="295.4" r="2.4" fill="#3838f0"/><circle cx="463.0" cy="297.8" r="1.7" fill="#3838f0"/><circle cx="422.3" cy="354.9" r="1.6" fill="#d848d8"/><circle cx="417.9" cy="309.5" r="2.4" fill="#8040e0"/><circle cx="487.4" cy="279.8" r="1.4" fill="#d848d8"/><circle cx="448.4" cy="298.2" r="2.0" fill="#2828e0"/><circle cx="424.8" cy="289.6" r="1.7" fill="#d848d8"/><circle cx="487.1" cy="302.3" r="1.9" fill="#c038d8"/><circle cx="475.7" cy="347.2" r="1.9" fill="#2828e0"/><circle cx="420.9" cy="305.7" r="1.5" fill="#2c2ce4"/><circle cx="418.0" cy="321.8" r="1.6" fill="#e050e0"/><circle cx="429.4" cy="292.4" r="2.5" fill="#c038d8"/><circle cx="443.5" cy="295.0" r="2.2" fill="#8888a0"/><circle cx="454.5" cy="290.6" r="2.7" fill="#d848d8"/><circle cx="427.2" cy="306.8" r="1.6" fill="#7c7c7c"/><circle cx="433.4" cy="330.2" r="2.8" fill="#8a8a8a"/><circle cx="455.4" cy="352.2" r="2.5" fill="#8040e0"/><circle cx="401.3" cy="311.8" r="1.8" fill="#d848d8"/><circle cx="453.9" cy="305.6" r="2.7" fill="#2c2ce4"/><circle cx="397.9" cy="327.8" r="1.5" fill="#3434ec"/><circle cx="439.0" cy="348.4" r="2.1" fill="#3838f0"/><circle cx="422.0" cy="297.4" r="2.1" fill="#2c2ce4"/><circle cx="441.2" cy="294.8" r="2.4" fill="#3434ec"/><circle cx="430.6" cy="309.8" r="2.6" fill="#d040e0"/><circle cx="473.5" cy="310.6" r="1.4" fill="#767676"/><circle cx="403.3" cy="319.5" r="2.2" fill="#b840e0"/><circle cx="417.8" cy="280.4" r="1.7" fill="#e060d0"/><circle cx="446.5" cy="300.2" r="1.7" fill="#767676"/><circle cx="463.4" cy="300.7" r="1.9" fill="#2828e0"/><circle cx="407.3" cy="329.0" r="1.4" fill="#9a48e8"/><circle cx="485.3" cy="334.3" r="2.4" fill="#3030e8"/><circle cx="425.8" cy="333.5" r="1.5" fill="#c038d8"/><circle cx="435.6" cy="304.5" r="2.6" fill="#3030e8"/><circle cx="419.9" cy="312.9" r="2.0" fill="#7e7e90"/><circle cx="435.8" cy="267.4" r="2.5" fill="#30b0a0"/><circle cx="479.3" cy="292.0" r="2.5" fill="#c038d8"/><circle cx="425.6" cy="357.8" r="1.7" fill="#3aa8b8"/><circle cx="440.4" cy="272.3" r="2.6" fill="#d040e0"/><circle cx="468.3" cy="320.3" r="1.9" fill="#3434ec"/><circle cx="442.0" cy="356.5" r="2.0" fill="#4038e8"/><circle cx="417.1" cy="319.1" r="1.4" fill="#d848d8"/><circle cx="499.7" cy="302.4" r="2.4" fill="#d848d8"/><circle cx="439.6" cy="320.7" r="2.7" fill="#8040e0"/><circle cx="406.2" cy="325.3" r="2.7" fill="#2c2ce4"/><circle cx="422.9" cy="348.4" r="2.1" fill="#4038e8"/><circle cx="433.1" cy="268.3" r="1.8" fill="#c038d8"/><circle cx="472.7" cy="309.7" r="2.0" fill="#2828e0"/><circle cx="492.5" cy="316.2" r="2.6" fill="#6a40e8"/><circle cx="418.0" cy="319.6" r="1.5" fill="#8040e0"/><circle cx="472.1" cy="297.8" r="2.1" fill="#3434ec"/><circle cx="480.9" cy="274.2" r="2.0" fill="#e060d0"/><circle cx="480.7" cy="285.8" r="1.3" fill="#2828e0"/><circle cx="472.6" cy="296.5" r="2.6" fill="#2828e0"/><circle cx="432.6" cy="348.3" r="2.3" fill="#3030e8"/><circle cx="470.8" cy="289.3" r="1.4" fill="#c038d8"/><circle cx="457.2" cy="280.1" r="2.2" fill="#d040e0"/><circle cx="441.4" cy="300.4" r="2.0" fill="#b840e0"/><circle cx="473.4" cy="337.2" r="2.0" fill="#6a40e8"/><circle cx="425.5" cy="332.8" r="1.5" fill="#b840e0"/><circle cx="434.6" cy="349.4" r="2.0" fill="#3838f0"/><circle cx="466.9" cy="347.8" r="2.6" fill="#8040e0"/><circle cx="449.8" cy="297.8" r="2.1" fill="#828282"/><circle cx="441.9" cy="289.4" r="1.7" fill="#c038d8"/><circle cx="452.3" cy="303.9" r="1.9" fill="#c038d8"/><circle cx="467.5" cy="304.4" r="2.0" fill="#828282"/><circle cx="471.6" cy="298.9" r="1.8" fill="#3434ec"/><circle cx="415.0" cy="309.8" r="1.3" fill="#c038d8"/><circle cx="415.4" cy="303.6" r="2.6" fill="#b840e0"/><circle cx="497.3" cy="318.7" r="1.4" fill="#4038e8"/><circle cx="441.4" cy="298.7" r="1.9" fill="#8888a0"/><circle cx="444.1" cy="279.6" r="1.5" fill="#b840e0"/><circle cx="483.0" cy="315.8" r="1.7" fill="#3434ec"/><circle cx="462.6" cy="315.1" r="2.5" fill="#8888a0"/><circle cx="442.6" cy="330.9" r="1.7" fill="#767676"/><circle cx="490.2" cy="326.1" r="1.4" fill="#c038d8"/><circle cx="468.8" cy="294.7" r="2.4" fill="#3030e8"/><circle cx="482.5" cy="297.5" r="2.5" fill="#3434ec"/><circle cx="494.7" cy="298.4" r="2.5" fill="#d040e0"/><circle cx="476.7" cy="292.9" r="1.8" fill="#e050e0"/><circle cx="492.6" cy="312.5" r="2.5" fill="#c038d8"/><circle cx="442.1" cy="308.6" r="2.1" fill="#7e7e90"/><circle cx="483.6" cy="310.3" r="1.6" fill="#3838f0"/><circle cx="436.0" cy="296.5" r="2.2" fill="#2c2ce4"/><circle cx="484.4" cy="304.6" r="2.7" fill="#3030e8"/><circle cx="408.9" cy="326.6" r="2.8" fill="#3434ec"/><circle cx="476.5" cy="325.4" r="1.8" fill="#3030e8"/><circle cx="493.1" cy="321.3" r="1.6" fill="#d848d8"/><circle cx="439.1" cy="353.4" r="2.5" fill="#d848d8"/><circle cx="443.1" cy="369.5" r="2.7" fill="#30b0a0"/><circle cx="484.4" cy="304.5" r="1.6" fill="#3434ec"/><circle cx="486.5" cy="320.8" r="2.2" fill="#b840e0"/><circle cx="438.3" cy="363.2" r="2.4" fill="#b840e0"/><circle cx="467.9" cy="308.2" r="2.1" fill="#767676"/><circle cx="469.0" cy="315.6" r="1.8" fill="#828282"/><circle cx="406.8" cy="320.3" r="1.9" fill="#2c2ce4"/><circle cx="431.2" cy="341.7" r="1.5" fill="#e050e0"/><circle cx="414.2" cy="304.3" r="1.4" fill="#e050e0"/><circle cx="422.1" cy="327.9" r="2.0" fill="#2828e0"/><circle cx="500.8" cy="309.0" r="2.0" fill="#c038d8"/><circle cx="430.5" cy="332.0" r="1.4" fill="#3838f0"/><circle cx="486.9" cy="300.6" r="1.7" fill="#2828e0"/><circle cx="488.7" cy="300.7" r="2.2" fill="#8040e0"/><circle cx="421.8" cy="275.3" r="1.5" fill="#3838f0"/><circle cx="438.9" cy="290.0" r="2.5" fill="#9a48e8"/><circle cx="430.9" cy="322.6" r="2.3" fill="#767676"/><circle cx="462.3" cy="313.0" r="1.9" fill="#7c7c7c"/><circle cx="480.8" cy="297.5" r="1.4" fill="#8040e0"/><circle cx="469.7" cy="356.0" r="2.1" fill="#2c2ce4"/><circle cx="466.5" cy="315.6" r="1.8" fill="#7c7c7c"/><circle cx="497.9" cy="321.8" r="2.6" fill="#3838f0"/><circle cx="425.8" cy="303.8" r="1.7" fill="#d848d8"/><circle cx="412.5" cy="319.5" r="1.9" fill="#8040e0"/><circle cx="482.3" cy="333.7" r="1.5" fill="#b840e0"/><circle cx="444.8" cy="303.7" r="1.4" fill="#8888a0"/><circle cx="460.2" cy="363.3" r="1.8" fill="#9a48e8"/><circle cx="405.3" cy="335.1" r="1.5" fill="#c038d8"/><circle cx="450.4" cy="276.3" r="1.5" fill="#2c2ce4"/><circle cx="445.6" cy="308.4" r="2.1" fill="#8888a0"/><circle cx="458.9" cy="369.7" r="1.8" fill="#e060d0"/><circle cx="443.9" cy="272.9" r="2.1" fill="#b840e0"/><circle cx="484.1" cy="329.2" r="2.4" fill="#3030e8"/><circle cx="474.4" cy="345.1" r="2.4" fill="#3434ec"/><circle cx="460.0" cy="325.2" r="2.4" fill="#767676"/><circle cx="432.5" cy="362.9" r="1.9" fill="#c850d8"/><circle cx="437.2" cy="354.1" r="1.8" fill="#c038d8"/><circle cx="458.4" cy="306.6" r="1.9" fill="#8888a0"/><circle cx="450.4" cy="305.7" r="2.5" fill="#2828e0"/><circle cx="433.4" cy="339.4" r="2.0" fill="#3434ec"/><circle cx="474.0" cy="296.7" r="2.4" fill="#2c2ce4"/><circle cx="489.9" cy="293.7" r="2.3" fill="#d040e0"/><circle cx="426.6" cy="294.8" r="2.0" fill="#8040e0"/><circle cx="480.6" cy="323.0" r="2.5" fill="#2828e0"/><circle cx="493.9" cy="305.7" r="2.0" fill="#4038e8"/><circle cx="431.5" cy="278.5" r="1.5" fill="#2828e0"/><circle cx="437.6" cy="359.1" r="2.5" fill="#c038d8"/><circle cx="436.8" cy="288.3" r="2.2" fill="#3030e8"/><circle cx="441.9" cy="340.6" r="2.6" fill="#7e7e90"/><circle cx="399.3" cy="330.2" r="2.6" fill="#8040e0"/><circle cx="433.1" cy="282.8" r="1.7" fill="#8040e0"/><circle cx="474.0" cy="291.2" r="1.8" fill="#4038e8"/><circle cx="466.2" cy="355.5" r="1.5" fill="#c038d8"/><circle cx="489.5" cy="331.5" r="2.8" fill="#8040e0"/><circle cx="484.7" cy="284.2" r="2.3" fill="#4038e8"/><circle cx="475.0" cy="273.6" r="2.6" fill="#2828e0"/><circle cx="415.7" cy="297.8" r="1.8" fill="#4038e8"/><circle cx="445.4" cy="329.7" r="2.2" fill="#767676"/><circle cx="436.1" cy="346.7" r="2.4" fill="#828282"/><circle cx="416.3" cy="284.7" r="2.7" fill="#d040e0"/><circle cx="443.4" cy="293.3" r="2.3" fill="#e050e0"/><circle cx="429.2" cy="338.8" r="2.4" fill="#8a8a8a"/><circle cx="441.5" cy="368.0" r="2.3" fill="#9a48e8"/><circle cx="500.4" cy="298.3" r="2.6" fill="#2828e0"/><circle cx="481.0" cy="299.5" r="1.9" fill="#d040e0"/><circle cx="422.0" cy="351.5" r="2.0" fill="#e050e0"/><circle cx="446.8" cy="339.7" r="1.8" fill="#828282"/><circle cx="455.6" cy="282.6" r="1.6" fill="#c038d8"/><circle cx="475.8" cy="333.8" r="2.3" fill="#e050e0"/><circle cx="470.3" cy="326.4" r="1.8" fill="#3434ec"/><circle cx="469.9" cy="298.4" r="2.5" fill="#2c2ce4"/><circle cx="463.4" cy="355.7" r="1.4" fill="#b840e0"/><circle cx="472.5" cy="338.8" r="1.5" fill="#3434ec"/><circle cx="443.3" cy="334.1" r="1.6" fill="#8888a0"/><circle cx="491.6" cy="299.6" r="1.3" fill="#c038d8"/><circle cx="488.8" cy="296.6" r="1.4" fill="#3030e8"/><circle cx="452.3" cy="275.9" r="1.9" fill="#3838f0"/><circle cx="426.9" cy="326.7" r="1.6" fill="#8a8a8a"/><circle cx="477.2" cy="311.5" r="2.6" fill="#c038d8"/><circle cx="456.2" cy="354.8" r="1.8" fill="#8040e0"/><circle cx="441.9" cy="330.0" r="2.2" fill="#7c7c7c"/><circle cx="459.6" cy="348.0" r="2.0" fill="#3838f0"/><circle cx="400.3" cy="318.7" r="1.5" fill="#d040e0"/><circle cx="428.9" cy="271.2" r="2.7" fill="#e050e0"/><circle cx="430.8" cy="310.0" r="2.6" fill="#c038d8"/><circle cx="445.5" cy="347.1" r="2.3" fill="#2828e0"/><circle cx="436.4" cy="304.9" r="2.7" fill="#8888a0"/><circle cx="497.8" cy="308.0" r="1.6" fill="#14101e"/><circle cx="473.8" cy="309.8" r="1.9" fill="#2828e0"/><circle cx="493.9" cy="330.5" r="2.4" fill="#d848d8"/><circle cx="479.8" cy="291.2" r="2.0" fill="#c038d8"/><circle cx="428.2" cy="275.6" r="1.8" fill="#e050e0"/><circle cx="427.7" cy="340.2" r="1.4" fill="#3030e8"/><circle cx="424.0" cy="335.1" r="2.8" fill="#8888a0"/><circle cx="475.4" cy="335.2" r="1.6" fill="#d848d8"/><circle cx="417.9" cy="312.8" r="2.7" fill="#2c2ce4"/><circle cx="469.2" cy="340.8" r="1.9" fill="#8040e0"/><circle cx="403.0" cy="307.5" r="2.5" fill="#c038d8"/><circle cx="500.1" cy="315.0" r="1.9" fill="#14101e"/><circle cx="484.7" cy="286.8" r="2.8" fill="#3434ec"/><circle cx="420.0" cy="320.5" r="2.3" fill="#3434ec"/><circle cx="479.8" cy="282.3" r="2.1" fill="#d848d8"/><circle cx="487.0" cy="332.3" r="2.3" fill="#c038d8"/><circle cx="453.4" cy="299.1" r="1.5" fill="#e050e0"/><circle cx="482.5" cy="304.3" r="2.4" fill="#2c2ce4"/><circle cx="415.8" cy="316.4" r="1.5" fill="#2828e0"/><circle cx="472.8" cy="311.2" r="1.7" fill="#2c2ce4"/><circle cx="442.2" cy="275.7" r="2.3" fill="#c038d8"/><circle cx="437.9" cy="352.2" r="2.4" fill="#b840e0"/><circle cx="445.4" cy="332.7" r="2.4" fill="#8a8a8a"/><circle cx="410.8" cy="305.4" r="2.3" fill="#4038e8"/><circle cx="416.5" cy="294.0" r="1.6" fill="#e050e0"/><circle cx="441.0" cy="288.0" r="1.7" fill="#2828e0"/><circle cx="496.0" cy="295.2" r="2.7" fill="#3aa8b8"/><circle cx="470.0" cy="272.6" r="2.6" fill="#d848d8"/><circle cx="465.8" cy="283.5" r="1.7" fill="#d848d8"/><circle cx="409.1" cy="298.8" r="1.6" fill="#6a40e8"/><circle cx="456.6" cy="277.9" r="2.7" fill="#e050e0"/><circle cx="440.9" cy="281.0" r="2.2" fill="#7e7e90"/><circle cx="431.0" cy="350.6" r="2.0" fill="#d040e0"/><circle cx="437.6" cy="329.7" r="1.7" fill="#767676"/><circle cx="454.2" cy="361.9" r="1.4" fill="#c038d8"/><circle cx="422.1" cy="277.3" r="2.3" fill="#2828e0"/><circle cx="423.6" cy="298.5" r="2.4" fill="#e050e0"/><circle cx="426.6" cy="298.1" r="2.2" fill="#2c2ce4"/><circle cx="469.8" cy="271.1" r="2.4" fill="#c850d8"/><circle cx="437.0" cy="301.1" r="1.4" fill="#8a8a8a"/><circle cx="487.7" cy="326.1" r="2.1" fill="#3434ec"/><circle cx="463.7" cy="296.9" r="2.8" fill="#9a48e8"/><circle cx="398.4" cy="319.7" r="1.5" fill="#e060d0"/><circle cx="473.3" cy="281.6" r="2.8" fill="#e050e0"/><circle cx="476.9" cy="315.2" r="2.7" fill="#8040e0"/><circle cx="469.2" cy="353.2" r="2.5" fill="#14101e"/><circle cx="423.7" cy="276.9" r="1.8" fill="#3030e8"/><circle cx="433.7" cy="269.1" r="1.5" fill="#30b0a0"/><circle cx="460.7" cy="330.0" r="1.7" fill="#767676"/><circle cx="463.5" cy="361.4" r="2.3" fill="#9a48e8"/><circle cx="412.9" cy="322.5" r="1.9" fill="#d040e0"/><circle cx="422.9" cy="324.8" r="1.9" fill="#3030e8"/><circle cx="417.1" cy="346.7" r="1.4" fill="#2828e0"/><circle cx="473.7" cy="298.8" r="1.3" fill="#2c2ce4"/><circle cx="431.2" cy="333.6" r="2.2" fill="#2c2ce4"/><circle cx="419.9" cy="353.7" r="2.0" fill="#e060d0"/><circle cx="463.1" cy="290.8" r="2.8" fill="#8040e0"/><circle cx="400.4" cy="317.2" r="2.2" fill="#d040e0"/><circle cx="436.9" cy="268.3" r="2.1" fill="#c038d8"/><circle cx="411.3" cy="316.2" r="2.1" fill="#3434ec"/><circle cx="450.0" cy="371.8" r="2.3" fill="#c038d8"/><circle cx="444.2" cy="351.0" r="2.0" fill="#e050e0"/><circle cx="402.1" cy="331.5" r="2.4" fill="#c038d8"/><circle cx="455.8" cy="335.3" r="1.9" fill="#2c2ce4"/><circle cx="497.3" cy="310.9" r="1.7" fill="#2c2ce4"/><circle cx="478.4" cy="282.7" r="2.7" fill="#b840e0"/><circle cx="477.9" cy="282.5" r="2.1" fill="#d848d8"/><circle cx="466.4" cy="285.1" r="2.5" fill="#d040e0"/><circle cx="472.2" cy="329.1" r="1.7" fill="#4038e8"/><circle cx="450.1" cy="360.2" r="1.4" fill="#e050e0"/><circle cx="487.4" cy="286.2" r="1.7" fill="#3434ec"/><circle cx="452.5" cy="280.9" r="2.7" fill="#b840e0"/><circle cx="439.2" cy="349.8" r="1.4" fill="#2828e0"/><circle cx="457.7" cy="276.9" r="2.4" fill="#8040e0"/><circle cx="487.5" cy="304.6" r="2.2" fill="#b840e0"/><circle cx="411.0" cy="308.2" r="1.5" fill="#8888a0"/><circle cx="437.4" cy="308.4" r="1.7" fill="#2c2ce4"/><circle cx="471.4" cy="348.0" r="2.4" fill="#2828e0"/><circle cx="446.4" cy="302.2" r="2.0" fill="#4038e8"/><circle cx="457.6" cy="340.4" r="2.2" fill="#3838f0"/><circle cx="493.8" cy="327.8" r="1.6" fill="#3434ec"/><circle cx="445.2" cy="364.4" r="2.4" fill="#c038d8"/><circle cx="437.7" cy="322.9" r="1.5" fill="#7c7c7c"/><circle cx="456.7" cy="308.2" r="2.7" fill="#7c7c7c"/><circle cx="463.3" cy="347.9" r="2.6" fill="#2828e0"/><circle cx="416.0" cy="291.0" r="1.9" fill="#c038d8"/><circle cx="476.0" cy="318.3" r="2.7" fill="#2828e0"/><circle cx="491.4" cy="328.3" r="2.5" fill="#2c2ce4"/><circle cx="461.3" cy="330.3" r="2.2" fill="#3030e8"/><circle cx="463.5" cy="282.5" r="2.5" fill="#e050e0"/><circle cx="488.4" cy="277.8" r="1.9" fill="#c850d8"/><circle cx="425.2" cy="307.1" r="2.2" fill="#7c7c7c"/><circle cx="497.2" cy="310.0" r="2.2" fill="#3838f0"/><circle cx="428.6" cy="286.6" r="1.9" fill="#3434ec"/><circle cx="426.2" cy="288.9" r="2.2" fill="#e050e0"/><circle cx="461.3" cy="301.5" r="1.3" fill="#2c2ce4"/><circle cx="470.5" cy="280.2" r="1.9" fill="#2828e0"/><circle cx="424.7" cy="318.5" r="1.7" fill="#3030e8"/><circle cx="433.8" cy="281.4" r="2.1" fill="#d848d8"/><circle cx="461.2" cy="370.6" r="2.2" fill="#e050e0"/><circle cx="452.4" cy="335.6" r="2.3" fill="#8a8a8a"/><circle cx="488.6" cy="278.6" r="2.1" fill="#c038d8"/><circle cx="433.9" cy="293.8" r="2.3" fill="#828282"/><circle cx="426.0" cy="287.3" r="1.7" fill="#3434ec"/><circle cx="500.8" cy="311.5" r="1.4" fill="#3aa8b8"/><circle cx="410.6" cy="292.3" r="1.8" fill="#e050e0"/><circle cx="453.8" cy="307.4" r="2.1" fill="#828282"/><circle cx="408.0" cy="303.5" r="2.2" fill="#2c2ce4"/><circle cx="427.9" cy="320.2" r="1.4" fill="#828282"/><circle cx="479.7" cy="289.3" r="2.6" fill="#3838f0"/><circle cx="426.6" cy="271.1" r="2.7" fill="#d040e0"/><circle cx="492.4" cy="322.6" r="1.8" fill="#b840e0"/><circle cx="431.5" cy="284.2" r="2.7" fill="#3838f0"/><circle cx="426.9" cy="315.1" r="2.5" fill="#8888a0"/><circle cx="442.2" cy="311.5" r="1.3" fill="#3838f0"/><circle cx="451.8" cy="357.9" r="1.6" fill="#b840e0"/><circle cx="433.5" cy="342.1" r="2.5" fill="#c038d8"/><circle cx="421.4" cy="315.6" r="2.1" fill="#8a8a8a"/><circle cx="492.1" cy="307.5" r="2.6" fill="#3030e8"/><circle cx="471.0" cy="316.5" r="1.6" fill="#8a8a8a"/><circle cx="473.8" cy="300.9" r="2.4" fill="#3838f0"/><circle cx="409.9" cy="310.8" r="2.6" fill="#d040e0"/><circle cx="467.9" cy="347.0" r="2.8" fill="#d040e0"/><circle cx="467.0" cy="350.3" r="1.7" fill="#3030e8"/><circle cx="458.4" cy="334.4" r="2.5" fill="#c038d8"/><circle cx="450.8" cy="284.8" r="1.6" fill="#d040e0"/><circle cx="424.8" cy="271.9" r="1.3" fill="#c038d8"/><circle cx="420.2" cy="282.5" r="2.1" fill="#d848d8"/><circle cx="411.8" cy="327.5" r="2.0" fill="#3030e8"/><circle cx="479.5" cy="330.9" r="1.7" fill="#c038d8"/><circle cx="491.7" cy="296.2" r="2.6" fill="#c038d8"/><circle cx="443.5" cy="310.1" r="2.6" fill="#7c7c7c"/><circle cx="427.6" cy="351.2" r="2.2" fill="#c038d8"/><circle cx="484.5" cy="291.0" r="2.3" fill="#b840e0"/><circle cx="478.5" cy="278.7" r="2.7" fill="#d848d8"/><circle cx="446.5" cy="292.9" r="2.4" fill="#d040e0"/><circle cx="443.4" cy="293.9" r="1.8" fill="#b840e0"/><circle cx="429.3" cy="315.1" r="1.4" fill="#8a8a8a"/><circle cx="487.5" cy="307.7" r="2.4" fill="#b840e0"/><circle cx="460.6" cy="337.9" r="1.5" fill="#4038e8"/><circle cx="453.3" cy="357.3" r="2.1" fill="#b840e0"/><circle cx="414.2" cy="336.0" r="2.8" fill="#b840e0"/><circle cx="455.7" cy="301.0" r="2.4" fill="#8a8a8a"/><circle cx="453.6" cy="308.8" r="1.7" fill="#7e7e90"/><circle cx="459.1" cy="345.8" r="1.9" fill="#2828e0"/><circle cx="447.3" cy="303.1" r="2.6" fill="#8888a0"/><circle cx="494.2" cy="313.8" r="2.8" fill="#b840e0"/><circle cx="455.3" cy="328.7" r="1.5" fill="#2c2ce4"/><circle cx="469.9" cy="279.3" r="1.5" fill="#2c2ce4"/><circle cx="448.1" cy="307.8" r="2.3" fill="#3030e8"/><circle cx="456.9" cy="359.7" r="2.5" fill="#2c2ce4"/><circle cx="427.0" cy="300.1" r="2.0" fill="#d040e0"/><circle cx="440.7" cy="324.2" r="2.2" fill="#8a8a8a"/><circle cx="412.3" cy="315.1" r="1.9" fill="#3838f0"/><circle cx="412.3" cy="339.0" r="1.7" fill="#3434ec"/><circle cx="462.8" cy="362.1" r="1.4" fill="#14101e"/><circle cx="463.0" cy="346.8" r="2.5" fill="#2c2ce4"/><circle cx="492.0" cy="295.1" r="2.2" fill="#c038d8"/><circle cx="456.6" cy="305.6" r="2.2" fill="#7c7c7c"/><circle cx="432.1" cy="330.0" r="2.1" fill="#7c7c7c"/><circle cx="486.6" cy="310.6" r="2.4" fill="#3434ec"/><circle cx="410.8" cy="336.8" r="2.3" fill="#2828e0"/><circle cx="400.4" cy="325.3" r="1.6" fill="#6a40e8"/><circle cx="453.0" cy="350.8" r="2.0" fill="#2828e0"/><circle cx="466.0" cy="334.6" r="1.6" fill="#7e7e90"/><circle cx="405.2" cy="326.3" r="1.9" fill="#3838f0"/><circle cx="435.6" cy="354.7" r="2.0" fill="#d848d8"/><circle cx="414.0" cy="347.8" r="2.6" fill="#d040e0"/><circle cx="451.7" cy="335.7" r="2.8" fill="#828282"/><circle cx="465.9" cy="273.3" r="2.3" fill="#d848d8"/><circle cx="419.6" cy="304.0" r="2.7" fill="#2828e0"/><circle cx="475.2" cy="349.3" r="1.9" fill="#8040e0"/><circle cx="440.0" cy="355.3" r="2.6" fill="#e050e0"/><circle cx="459.7" cy="359.3" r="2.1" fill="#2c2ce4"/><circle cx="411.8" cy="333.4" r="2.6" fill="#d040e0"/><circle cx="414.3" cy="324.2" r="2.7" fill="#b840e0"/><circle cx="465.4" cy="292.6" r="2.3" fill="#b840e0"/><circle cx="432.5" cy="347.4" r="2.0" fill="#767676"/><circle cx="441.0" cy="293.2" r="1.4" fill="#d040e0"/><circle cx="443.9" cy="286.9" r="1.5" fill="#3030e8"/><circle cx="433.3" cy="287.6" r="1.4" fill="#3838f0"/><circle cx="421.7" cy="273.8" r="1.5" fill="#2c2ce4"/><circle cx="471.6" cy="347.5" r="2.1" fill="#4038e8"/><circle cx="472.2" cy="338.5" r="1.9" fill="#2828e0"/><circle cx="445.8" cy="332.0" r="2.4" fill="#767676"/><circle cx="469.4" cy="270.8" r="1.9" fill="#3aa8b8"/><circle cx="403.7" cy="331.5" r="1.7" fill="#e050e0"/><circle cx="429.1" cy="277.8" r="2.4" fill="#c038d8"/><circle cx="478.0" cy="306.0" r="2.8" fill="#4038e8"/><circle cx="419.1" cy="344.0" r="1.8" fill="#14101e"/><circle cx="446.6" cy="306.2" r="2.1" fill="#767676"/><circle cx="431.1" cy="288.6" r="1.6" fill="#3434ec"/><circle cx="421.1" cy="278.4" r="2.6" fill="#3838f0"/><circle cx="460.0" cy="336.5" r="2.3" fill="#8a8a8a"/><circle cx="440.4" cy="308.3" r="2.7" fill="#767676"/><circle cx="431.6" cy="295.2" r="2.5" fill="#2c2ce4"/><circle cx="429.4" cy="303.0" r="1.8" fill="#d040e0"/><circle cx="432.3" cy="271.3" r="1.5" fill="#b840e0"/><circle cx="437.1" cy="271.6" r="1.9" fill="#14101e"/><circle cx="468.7" cy="287.6" r="1.7" fill="#e050e0"/><circle cx="432.6" cy="340.8" r="2.2" fill="#8a8a8a"/><circle cx="466.8" cy="324.5" r="1.5" fill="#6a40e8"/><circle cx="407.7" cy="305.4" r="1.4" fill="#14101e"/><circle cx="429.8" cy="297.8" r="1.3" fill="#4038e8"/><circle cx="476.3" cy="296.2" r="2.3" fill="#b840e0"/><circle cx="461.4" cy="281.2" r="2.4" fill="#d848d8"/><circle cx="407.1" cy="328.3" r="1.4" fill="#6a40e8"/><circle cx="402.9" cy="307.9" r="2.6" fill="#b840e0"/><circle cx="453.1" cy="288.1" r="1.4" fill="#b840e0"/><circle cx="438.0" cy="281.0" r="2.5" fill="#7e7e90"/><circle cx="484.5" cy="289.1" r="2.2" fill="#d040e0"/><circle cx="450.1" cy="281.1" r="1.8" fill="#c038d8"/><circle cx="499.2" cy="306.7" r="2.8" fill="#3434ec"/><circle cx="451.0" cy="276.0" r="2.2" fill="#3aa8b8"/><circle cx="476.8" cy="328.0" r="2.3" fill="#2c2ce4"/><circle cx="455.0" cy="337.1" r="2.3" fill="#3030e8"/><circle cx="435.6" cy="306.1" r="1.3" fill="#2c2ce4"/><circle cx="483.3" cy="316.5" r="2.2" fill="#3434ec"/><circle cx="444.2" cy="370.0" r="1.8" fill="#30b0a0"/><circle cx="465.6" cy="337.7" r="2.5" fill="#8888a0"/><circle cx="436.8" cy="305.9" r="2.7" fill="#8a8a8a"/><circle cx="460.8" cy="365.7" r="1.8" fill="#d848d8"/><circle cx="449.0" cy="346.2" r="2.4" fill="#3434ec"/><circle cx="414.4" cy="348.5" r="2.6" fill="#e060d0"/><circle cx="485.7" cy="281.9" r="2.5" fill="#2828e0"/><circle cx="456.0" cy="341.2" r="1.4" fill="#7c7c7c"/><circle cx="423.1" cy="320.8" r="2.4" fill="#8a8a8a"/><circle cx="481.8" cy="329.5" r="2.2" fill="#b840e0"/><circle cx="468.4" cy="339.8" r="2.4" fill="#3838f0"/><circle cx="432.8" cy="359.6" r="2.2" fill="#3434ec"/><circle cx="473.4" cy="328.4" r="1.7" fill="#3434ec"/><circle cx="449.2" cy="365.4" r="1.4" fill="#b840e0"/><circle cx="456.0" cy="354.0" r="2.5" fill="#b840e0"/><circle cx="466.6" cy="335.8" r="1.7" fill="#7c7c7c"/><circle cx="448.9" cy="278.0" r="2.7" fill="#2828e0"/><circle cx="493.7" cy="326.6" r="1.8" fill="#3434ec"/><circle cx="484.2" cy="317.4" r="2.1" fill="#4038e8"/><circle cx="476.0" cy="326.7" r="2.0" fill="#2c2ce4"/><circle cx="479.1" cy="272.5" r="1.7" fill="#d040e0"/><circle cx="434.6" cy="307.9" r="1.5" fill="#3030e8"/><circle cx="481.1" cy="309.0" r="2.0" fill="#2828e0"/><circle cx="421.6" cy="294.2" r="1.4" fill="#3434ec"/><circle cx="441.7" cy="341.2" r="1.6" fill="#7c7c7c"/><circle cx="399.4" cy="309.1" r="1.8" fill="#3aa8b8"/><circle cx="450.8" cy="307.0" r="2.2" fill="#8a8a8a"/><circle cx="476.1" cy="275.8" r="1.5" fill="#3030e8"/><circle cx="418.7" cy="322.9" r="1.5" fill="#c038d8"/><circle cx="451.5" cy="369.4" r="1.5" fill="#9a48e8"/><circle cx="411.9" cy="297.3" r="2.7" fill="#4038e8"/><circle cx="474.4" cy="335.0" r="2.1" fill="#e050e0"/><circle cx="454.8" cy="304.3" r="2.8" fill="#828282"/><circle cx="428.4" cy="292.9" r="2.5" fill="#b840e0"/><circle cx="432.8" cy="325.7" r="2.0" fill="#828282"/><circle cx="442.2" cy="324.7" r="1.5" fill="#7c7c7c"/><circle cx="480.1" cy="277.6" r="2.4" fill="#d040e0"/><circle cx="481.1" cy="291.4" r="1.9" fill="#d040e0"/><circle cx="464.6" cy="347.4" r="2.1" fill="#4038e8"/><circle cx="422.8" cy="332.0" r="1.9" fill="#e050e0"/><circle cx="466.8" cy="290.6" r="2.8" fill="#8888a0"/><circle cx="464.3" cy="295.4" r="2.1" fill="#d848d8"/><circle cx="448.2" cy="303.9" r="2.4" fill="#8a8a8a"/><circle cx="419.5" cy="339.8" r="2.0" fill="#b840e0"/><circle cx="423.5" cy="317.5" r="2.5" fill="#8888a0"/><circle cx="465.6" cy="324.5" r="1.9" fill="#d040e0"/><circle cx="458.8" cy="369.5" r="1.4" fill="#14101e"/><circle cx="497.7" cy="325.0" r="2.3" fill="#3838f0"/><circle cx="482.8" cy="301.7" r="1.7" fill="#8040e0"/><circle cx="434.9" cy="294.4" r="2.1" fill="#3838f0"/><circle cx="481.2" cy="314.8" r="2.6" fill="#b840e0"/><circle cx="454.0" cy="282.6" r="1.4" fill="#d848d8"/><circle cx="458.6" cy="346.6" r="2.7" fill="#3030e8"/><circle cx="399.4" cy="327.8" r="2.4" fill="#4038e8"/><circle cx="438.3" cy="270.1" r="2.8" fill="#b840e0"/><circle cx="491.2" cy="285.9" r="1.6" fill="#c850d8"/><circle cx="493.6" cy="295.2" r="2.3" fill="#c038d8"/><circle cx="441.6" cy="331.1" r="1.9" fill="#8a8a8a"/><circle cx="492.1" cy="324.9" r="1.6" fill="#c038d8"/><circle cx="479.2" cy="305.3" r="2.0" fill="#2c2ce4"/><circle cx="443.5" cy="356.0" r="1.4" fill="#2828e0"/><circle cx="412.5" cy="283.5" r="2.3" fill="#c850d8"/><circle cx="438.7" cy="321.8" r="2.4" fill="#7c7c7c"/><circle cx="431.8" cy="319.3" r="2.0" fill="#8a8a8a"/><circle cx="483.9" cy="299.5" r="2.1" fill="#2c2ce4"/><circle cx="458.2" cy="291.2" r="2.8" fill="#2828e0"/><circle cx="469.8" cy="333.4" r="2.1" fill="#9a48e8"/><circle cx="413.0" cy="287.1" r="2.6" fill="#d040e0"/><circle cx="439.8" cy="361.9" r="2.0" fill="#d040e0"/><circle cx="397.6" cy="313.8" r="1.4" fill="#c850d8"/><circle cx="455.1" cy="288.3" r="2.5" fill="#c038d8"/><circle cx="432.5" cy="316.1" r="2.4" fill="#7c7c7c"/><circle cx="422.0" cy="287.4" r="2.3" fill="#4038e8"/><circle cx="457.5" cy="281.7" r="2.7" fill="#b840e0"/><circle cx="427.9" cy="292.3" r="2.6" fill="#d040e0"/><circle cx="405.7" cy="316.7" r="2.4" fill="#2828e0"/><circle cx="460.8" cy="292.0" r="2.7" fill="#8040e0"/><circle cx="460.2" cy="323.5" r="1.9" fill="#7c7c7c"/><circle cx="473.2" cy="277.1" r="1.7" fill="#2828e0"/><circle cx="438.0" cy="362.7" r="1.3" fill="#e050e0"/><circle cx="494.9" cy="290.2" r="2.6" fill="#3aa8b8"/><circle cx="498.2" cy="323.6" r="2.3" fill="#2c2ce4"/><circle cx="481.8" cy="317.6" r="1.7" fill="#4038e8"/><circle cx="431.8" cy="300.5" r="1.8" fill="#3838f0"/><circle cx="484.4" cy="325.2" r="1.9" fill="#2828e0"/><circle cx="460.7" cy="297.6" r="1.5" fill="#2828e0"/><circle cx="420.7" cy="354.3" r="1.3" fill="#e050e0"/><circle cx="471.4" cy="316.0" r="1.7" fill="#3838f0"/><circle cx="453.2" cy="337.8" r="2.3" fill="#3434ec"/><circle cx="427.4" cy="294.5" r="2.5" fill="#8888a0"/><circle cx="422.0" cy="309.7" r="2.2" fill="#2828e0"/><circle cx="478.3" cy="328.3" r="2.7" fill="#9a48e8"/><circle cx="427.1" cy="347.0" r="1.3" fill="#e050e0"/><circle cx="471.0" cy="306.8" r="1.9" fill="#8888a0"/><circle cx="421.0" cy="346.2" r="1.4" fill="#3434ec"/><circle cx="431.1" cy="269.4" r="2.0" fill="#e050e0"/><circle cx="406.3" cy="320.3" r="2.3" fill="#3030e8"/><circle cx="451.7" cy="333.4" r="2.4" fill="#7c7c7c"/><circle cx="485.0" cy="279.1" r="2.6" fill="#3434ec"/><circle cx="420.3" cy="345.2" r="2.8" fill="#828282"/><circle cx="455.6" cy="354.0" r="1.6" fill="#e050e0"/><circle cx="441.6" cy="267.5" r="2.1" fill="#3838f0"/><circle cx="501.4" cy="319.7" r="2.1" fill="#3aa8b8"/><circle cx="464.8" cy="361.6" r="2.6" fill="#c038d8"/><circle cx="451.5" cy="360.5" r="2.6" fill="#c038d8"/><circle cx="423.3" cy="325.7" r="2.6" fill="#7c7c7c"/><circle cx="438.4" cy="335.4" r="2.0" fill="#8888a0"/><circle cx="433.5" cy="307.1" r="1.5" fill="#828282"/><circle cx="445.2" cy="356.2" r="2.3" fill="#2c2ce4"/><circle cx="471.6" cy="294.5" r="1.9" fill="#3030e8"/><circle cx="424.5" cy="320.9" r="1.8" fill="#3030e8"/><circle cx="433.5" cy="288.3" r="1.9" fill="#2c2ce4"/><circle cx="478.1" cy="294.4" r="2.1" fill="#d040e0"/><circle cx="450.3" cy="342.1" r="1.6" fill="#7e7e90"/><circle cx="476.0" cy="274.5" r="2.6" fill="#2828e0"/><circle cx="421.5" cy="348.4" r="2.5" fill="#2c2ce4"/><circle cx="429.8" cy="306.5" r="1.8" fill="#e050e0"/><circle cx="418.8" cy="296.4" r="2.0" fill="#3838f0"/><circle cx="425.3" cy="350.2" r="1.5" fill="#d040e0"/><circle cx="480.9" cy="307.0" r="1.7" fill="#2c2ce4"/><circle cx="445.8" cy="348.6" r="2.5" fill="#2828e0"/><circle cx="441.9" cy="290.2" r="2.2" fill="#7c7c7c"/><circle cx="485.5" cy="324.3" r="2.3" fill="#3838f0"/><circle cx="484.2" cy="318.7" r="2.7" fill="#8888a0"/><circle cx="435.6" cy="286.2" r="2.5" fill="#4038e8"/><circle cx="424.1" cy="316.8" r="1.3" fill="#8888a0"/><circle cx="469.8" cy="299.7" r="1.9" fill="#767676"/><circle cx="435.1" cy="332.4" r="2.5" fill="#828282"/><circle cx="489.8" cy="291.5" r="1.5" fill="#d040e0"/><circle cx="457.0" cy="338.4" r="1.6" fill="#2c2ce4"/><circle cx="473.3" cy="328.7" r="2.0" fill="#3434ec"/><circle cx="454.0" cy="339.6" r="1.3" fill="#2c2ce4"/><circle cx="442.9" cy="359.2" r="2.1" fill="#2c2ce4"/><circle cx="442.1" cy="337.6" r="1.5" fill="#2c2ce4"/><circle cx="433.8" cy="358.6" r="2.3" fill="#3838f0"/><circle cx="468.2" cy="290.8" r="1.7" fill="#c038d8"/><circle cx="468.6" cy="323.4" r="2.6" fill="#2c2ce4"/><circle cx="459.0" cy="307.9" r="2.7" fill="#8a8a8a"/><circle cx="466.5" cy="342.9" r="1.6" fill="#b840e0"/><circle cx="485.3" cy="337.7" r="2.0" fill="#3434ec"/><circle cx="434.1" cy="288.1" r="2.2" fill="#4038e8"/><circle cx="452.1" cy="282.9" r="2.6" fill="#e050e0"/><circle cx="447.1" cy="342.9" r="2.6" fill="#3434ec"/><circle cx="465.4" cy="283.8" r="1.9" fill="#b840e0"/><circle cx="487.6" cy="305.8" r="1.4" fill="#b840e0"/><circle cx="473.8" cy="324.3" r="1.8" fill="#3030e8"/><circle cx="451.9" cy="307.8" r="2.2" fill="#4038e8"/><circle cx="485.4" cy="303.0" r="2.2" fill="#9a48e8"/><circle cx="439.3" cy="309.2" r="1.4" fill="#8888a0"/><circle cx="483.3" cy="334.9" r="1.9" fill="#4038e8"/><circle cx="425.0" cy="342.1" r="2.4" fill="#767676"/><circle cx="472.0" cy="334.0" r="1.7" fill="#8040e0"/><circle cx="429.3" cy="355.5" r="1.7" fill="#2c2ce4"/><circle cx="479.8" cy="285.4" r="2.1" fill="#6a40e8"/><circle cx="454.6" cy="333.4" r="1.3" fill="#828282"/><circle cx="458.1" cy="335.5" r="1.8" fill="#8a8a8a"/><circle cx="481.2" cy="293.5" r="2.6" fill="#e050e0"/><circle cx="469.9" cy="340.9" r="2.2" fill="#8040e0"/><circle cx="463.1" cy="279.1" r="1.7" fill="#c038d8"/><circle cx="487.1" cy="302.0" r="1.5" fill="#d040e0"/><circle cx="434.3" cy="318.4" r="2.2" fill="#7e7e90"/><circle cx="494.3" cy="301.0" r="2.4" fill="#d848d8"/><circle cx="430.6" cy="301.2" r="2.0" fill="#3030e8"/><circle cx="470.0" cy="338.5" r="2.7" fill="#4038e8"/><circle cx="418.1" cy="296.3" r="2.7" fill="#2828e0"/><circle cx="464.8" cy="304.7" r="2.2" fill="#3838f0"/><circle cx="420.3" cy="324.0" r="1.8" fill="#4038e8"/><circle cx="437.7" cy="297.2" r="2.1" fill="#2828e0"/><circle cx="469.7" cy="281.1" r="2.7" fill="#3434ec"/><circle cx="407.5" cy="324.7" r="2.2" fill="#2c2ce4"/><circle cx="404.6" cy="327.6" r="1.3" fill="#3030e8"/><circle cx="451.7" cy="332.2" r="1.8" fill="#8888a0"/><circle cx="463.6" cy="348.0" r="2.0" fill="#4038e8"/><circle cx="474.8" cy="338.3" r="1.7" fill="#b840e0"/><circle cx="457.2" cy="326.8" r="2.3" fill="#7c7c7c"/><circle cx="451.7" cy="297.0" r="2.0" fill="#4038e8"/><circle cx="473.9" cy="316.5" r="2.4" fill="#7e7e90"/><circle cx="455.4" cy="298.4" r="2.4" fill="#2c2ce4"/><circle cx="414.1" cy="318.9" r="1.8" fill="#e050e0"/><circle cx="439.1" cy="361.5" r="2.6" fill="#e050e0"/><circle cx="461.6" cy="326.5" r="2.7" fill="#3838f0"/><circle cx="435.7" cy="344.2" r="2.6" fill="#9a48e8"/><circle cx="424.8" cy="325.6" r="1.9" fill="#7c7c7c"/><circle cx="477.8" cy="295.8" r="1.6" fill="#e050e0"/><circle cx="463.4" cy="297.6" r="2.4" fill="#828282"/><circle cx="416.9" cy="309.5" r="1.3" fill="#e050e0"/><circle cx="455.3" cy="348.1" r="2.3" fill="#3434ec"/><circle cx="444.8" cy="293.6" r="1.5" fill="#e050e0"/><circle cx="445.7" cy="305.5" r="2.4" fill="#767676"/><circle cx="500.1" cy="307.4" r="1.7" fill="#c850d8"/><circle cx="467.0" cy="333.4" r="2.8" fill="#6a40e8"/><circle cx="424.2" cy="284.4" r="2.3" fill="#3434ec"/><circle cx="484.4" cy="304.9" r="1.4" fill="#2828e0"/><circle cx="448.2" cy="364.4" r="2.3" fill="#e050e0"/><circle cx="487.4" cy="330.4" r="2.7" fill="#2c2ce4"/><circle cx="452.1" cy="286.4" r="1.7" fill="#d040e0"/><circle cx="457.5" cy="337.6" r="1.5" fill="#8888a0"/><circle cx="425.7" cy="299.5" r="1.8" fill="#c038d8"/><circle cx="493.8" cy="292.6" r="1.3" fill="#e060d0"/><circle cx="441.2" cy="313.7" r="1.7" fill="#828282"/><circle cx="455.3" cy="279.2" r="1.4" fill="#d040e0"/><circle cx="439.9" cy="322.2" r="1.8" fill="#7e7e90"/><circle cx="449.1" cy="355.5" r="2.3" fill="#2828e0"/><circle cx="417.3" cy="280.3" r="2.5" fill="#c850d8"/><circle cx="482.3" cy="308.1" r="1.4" fill="#7e7e90"/><circle cx="459.8" cy="348.8" r="1.5" fill="#8888a0"/><circle cx="437.9" cy="348.3" r="2.1" fill="#2828e0"/><circle cx="438.3" cy="278.7" r="1.6" fill="#3030e8"/><circle cx="443.3" cy="272.1" r="1.9" fill="#b840e0"/><circle cx="449.1" cy="277.4" r="1.4" fill="#2c2ce4"/><circle cx="464.4" cy="362.7" r="2.2" fill="#c850d8"/><circle cx="429.4" cy="270.2" r="1.6" fill="#e050e0"/><circle cx="480.5" cy="303.4" r="2.6" fill="#3838f0"/><circle cx="464.1" cy="349.8" r="1.3" fill="#9a48e8"/><circle cx="471.9" cy="326.6" r="2.7" fill="#7e7e90"/><circle cx="486.9" cy="307.0" r="2.3" fill="#8040e0"/><circle cx="435.2" cy="346.4" r="2.4" fill="#2c2ce4"/><circle cx="451.7" cy="291.5" r="1.9" fill="#d040e0"/><circle cx="432.2" cy="342.4" r="2.5" fill="#8a8a8a"/><circle cx="411.8" cy="287.1" r="2.7" fill="#3aa8b8"/><circle cx="451.9" cy="289.9" r="2.1" fill="#d848d8"/><circle cx="434.9" cy="364.5" r="2.1" fill="#3aa8b8"/><circle cx="426.4" cy="353.7" r="1.4" fill="#e050e0"/><circle cx="402.6" cy="333.1" r="2.4" fill="#30b0a0"/><circle cx="461.7" cy="330.7" r="2.5" fill="#2c2ce4"/><circle cx="435.3" cy="363.0" r="2.7" fill="#e060d0"/><circle cx="445.4" cy="334.5" r="1.8" fill="#8888a0"/><circle cx="451.2" cy="295.9" r="2.3" fill="#4038e8"/><circle cx="441.1" cy="302.7" r="2.8" fill="#d848d8"/><circle cx="478.6" cy="284.0" r="2.4" fill="#b840e0"/><circle cx="455.6" cy="283.2" r="1.6" fill="#d040e0"/><circle cx="481.8" cy="279.3" r="1.3" fill="#8040e0"/><circle cx="408.9" cy="317.3" r="1.7" fill="#3838f0"/><circle cx="469.4" cy="347.1" r="1.4" fill="#3838f0"/><circle cx="437.1" cy="284.2" r="1.7" fill="#d040e0"/><circle cx="417.0" cy="317.8" r="1.6" fill="#3030e8"/><circle cx="484.7" cy="318.4" r="1.9" fill="#3030e8"/><circle cx="429.8" cy="272.1" r="2.3" fill="#3aa8b8"/><circle cx="464.6" cy="298.3" r="2.7" fill="#6a40e8"/><circle cx="495.7" cy="315.4" r="2.3" fill="#d848d8"/><circle cx="461.4" cy="291.5" r="2.5" fill="#6a40e8"/><circle cx="446.4" cy="276.0" r="1.5" fill="#2828e0"/><circle cx="469.1" cy="273.1" r="1.7" fill="#d848d8"/><circle cx="465.8" cy="292.4" r="1.7" fill="#e050e0"/><circle cx="456.9" cy="304.6" r="2.3" fill="#828282"/><circle cx="494.0" cy="289.4" r="2.5" fill="#3030e8"/><circle cx="440.4" cy="337.4" r="2.5" fill="#7e7e90"/><circle cx="427.9" cy="308.1" r="2.0" fill="#9a48e8"/><circle cx="482.9" cy="286.7" r="2.6" fill="#2828e0"/><circle cx="437.7" cy="333.6" r="2.8" fill="#7e7e90"/><circle cx="483.1" cy="336.5" r="2.3" fill="#2c2ce4"/><circle cx="474.4" cy="330.5" r="1.4" fill="#2828e0"/><circle cx="426.6" cy="317.4" r="1.7" fill="#7c7c7c"/><circle cx="433.2" cy="272.4" r="2.3" fill="#8040e0"/><circle cx="425.5" cy="296.1" r="2.6" fill="#767676"/><circle cx="494.6" cy="328.8" r="2.6" fill="#9a48e8"/><circle cx="404.1" cy="324.1" r="2.0" fill="#d040e0"/><circle cx="457.7" cy="304.4" r="2.3" fill="#3838f0"/><circle cx="449.0" cy="352.2" r="2.0" fill="#3434ec"/><circle cx="456.2" cy="352.5" r="2.0" fill="#8a8a8a"/><circle cx="455.5" cy="331.0" r="1.9" fill="#8a8a8a"/><circle cx="482.1" cy="334.5" r="2.2" fill="#2c2ce4"/><circle cx="491.1" cy="323.0" r="2.6" fill="#d848d8"/><circle cx="451.0" cy="280.0" r="2.0" fill="#b840e0"/><circle cx="450.9" cy="331.2" r="1.5" fill="#7c7c7c"/><circle cx="437.9" cy="327.8" r="1.7" fill="#7e7e90"/><circle cx="459.4" cy="346.3" r="2.4" fill="#7e7e90"/><circle cx="486.7" cy="320.5" r="2.1" fill="#d040e0"/><circle cx="468.4" cy="327.4" r="2.0" fill="#8a8a8a"/><circle cx="468.7" cy="290.5" r="2.4" fill="#c038d8"/><circle cx="466.8" cy="300.3" r="1.7" fill="#828282"/><circle cx="496.1" cy="298.8" r="1.6" fill="#b840e0"/><circle cx="429.1" cy="289.6" r="2.4" fill="#c038d8"/><circle cx="416.0" cy="324.5" r="2.3" fill="#d848d8"/><circle cx="479.0" cy="299.5" r="2.0" fill="#b840e0"/><circle cx="489.7" cy="329.4" r="1.3" fill="#3030e8"/><circle cx="483.5" cy="318.2" r="2.0" fill="#3030e8"/><circle cx="449.6" cy="362.2" r="1.6" fill="#d848d8"/><circle cx="470.2" cy="303.7" r="1.8" fill="#7e7e90"/><circle cx="469.9" cy="276.4" r="1.8" fill="#3030e8"/><circle cx="414.9" cy="286.7" r="2.5" fill="#c038d8"/><circle cx="441.7" cy="267.5" r="2.3" fill="#4038e8"/><circle cx="398.2" cy="321.2" r="2.5" fill="#c850d8"/><circle cx="424.6" cy="335.1" r="2.6" fill="#7c7c7c"/><circle cx="433.5" cy="361.0" r="2.4" fill="#3434ec"/><circle cx="432.9" cy="353.8" r="1.7" fill="#14101e"/><circle cx="404.3" cy="319.8" r="1.5" fill="#828282"/><circle cx="499.9" cy="323.6" r="2.0" fill="#c850d8"/><circle cx="432.2" cy="316.5" r="2.1" fill="#8a8a8a"/><circle cx="473.9" cy="286.4" r="1.6" fill="#3838f0"/><circle cx="484.2" cy="317.0" r="1.8" fill="#2c2ce4"/><circle cx="403.1" cy="327.8" r="1.9" fill="#3838f0"/><circle cx="452.4" cy="353.7" r="2.3" fill="#c038d8"/><circle cx="431.7" cy="321.3" r="2.0" fill="#7e7e90"/><circle cx="448.2" cy="333.3" r="2.6" fill="#7e7e90"/><circle cx="458.6" cy="333.0" r="2.4" fill="#7c7c7c"/><circle cx="424.7" cy="295.4" r="1.7" fill="#4038e8"/><circle cx="447.6" cy="298.8" r="2.2" fill="#3434ec"/><circle cx="443.0" cy="354.8" r="2.2" fill="#3434ec"/><circle cx="436.1" cy="352.3" r="2.3" fill="#9a48e8"/><circle cx="467.4" cy="270.9" r="2.6" fill="#c850d8"/><circle cx="434.8" cy="312.2" r="1.5" fill="#767676"/><circle cx="475.4" cy="296.2" r="1.6" fill="#2c2ce4"/><circle cx="476.7" cy="270.8" r="2.6" fill="#e060d0"/><circle cx="453.6" cy="356.7" r="1.9" fill="#e050e0"/><circle cx="428.6" cy="293.1" r="2.0" fill="#b840e0"/><circle cx="405.5" cy="320.7" r="2.0" fill="#3434ec"/><circle cx="486.4" cy="329.1" r="2.7" fill="#2c2ce4"/><circle cx="472.4" cy="343.2" r="2.7" fill="#2828e0"/><circle cx="480.9" cy="318.9" r="2.2" fill="#3838f0"/><circle cx="429.1" cy="270.5" r="2.5" fill="#3aa8b8"/><circle cx="455.2" cy="355.7" r="2.3" fill="#e050e0"/><circle cx="400.1" cy="321.0" r="1.9" fill="#c038d8"/><circle cx="429.3" cy="311.6" r="2.3" fill="#e050e0"/><circle cx="433.4" cy="279.7" r="1.8" fill="#3838f0"/><circle cx="450.3" cy="297.4" r="2.6" fill="#828282"/><circle cx="402.9" cy="320.8" r="2.0" fill="#d040e0"/><circle cx="428.2" cy="349.3" r="2.7" fill="#d040e0"/><circle cx="429.6" cy="288.9" r="2.2" fill="#d848d8"/><circle cx="419.5" cy="327.4" r="1.8" fill="#3030e8"/><circle cx="462.7" cy="358.1" r="2.1" fill="#4038e8"/><circle cx="423.8" cy="291.0" r="1.7" fill="#8888a0"/><circle cx="435.7" cy="279.9" r="2.3" fill="#3434ec"/><circle cx="482.8" cy="300.5" r="1.8" fill="#3030e8"/><circle cx="427.3" cy="338.1" r="1.9" fill="#8a8a8a"/><circle cx="414.5" cy="335.5" r="2.7" fill="#7c7c7c"/><circle cx="415.8" cy="334.0" r="2.5" fill="#b840e0"/><circle cx="450.2" cy="302.1" r="2.7" fill="#4038e8"/><circle cx="459.3" cy="359.1" r="2.3" fill="#3030e8"/><circle cx="436.6" cy="353.1" r="1.9" fill="#b840e0"/><circle cx="491.7" cy="298.0" r="2.8" fill="#e050e0"/><circle cx="475.2" cy="273.9" r="2.4" fill="#4038e8"/><circle cx="444.5" cy="279.5" r="2.5" fill="#b840e0"/><circle cx="462.7" cy="329.0" r="2.1" fill="#828282"/><circle cx="443.9" cy="304.7" r="2.6" fill="#828282"/><circle cx="484.2" cy="313.7" r="1.9" fill="#3434ec"/><circle cx="436.0" cy="269.6" r="1.9" fill="#d848d8"/><circle cx="435.2" cy="357.4" r="1.6" fill="#8040e0"/><circle cx="436.7" cy="324.3" r="1.8" fill="#828282"/><circle cx="492.8" cy="315.8" r="2.5" fill="#d848d8"/><circle cx="421.1" cy="290.5" r="2.8" fill="#2c2ce4"/><circle cx="460.5" cy="343.3" r="2.7" fill="#4038e8"/><circle cx="428.4" cy="320.6" r="2.3" fill="#8888a0"/><circle cx="475.9" cy="327.8" r="2.7" fill="#7e7e90"/><circle cx="421.7" cy="303.3" r="1.6" fill="#3030e8"/><circle cx="474.5" cy="277.4" r="2.3" fill="#6a40e8"/><circle cx="463.0" cy="356.3" r="2.0" fill="#3030e8"/><circle cx="440.7" cy="281.6" r="2.2" fill="#e050e0"/><circle cx="471.2" cy="307.4" r="1.5" fill="#4038e8"/><circle cx="450.1" cy="352.8" r="2.7" fill="#8040e0"/><circle cx="431.0" cy="306.4" r="2.6" fill="#8888a0"/><circle cx="485.3" cy="310.5" r="2.4" fill="#3030e8"/><circle cx="464.8" cy="361.0" r="1.9" fill="#3aa8b8"/><circle cx="469.6" cy="269.9" r="2.5" fill="#3aa8b8"/><circle cx="477.5" cy="337.8" r="2.7" fill="#c038d8"/><circle cx="494.7" cy="321.9" r="2.3" fill="#8040e0"/><circle cx="468.4" cy="297.6" r="2.3" fill="#2c2ce4"/><circle cx="475.9" cy="306.7" r="2.3" fill="#4038e8"/><circle cx="473.5" cy="341.6" r="2.7" fill="#3838f0"/><circle cx="469.7" cy="283.7" r="1.9" fill="#3838f0"/><circle cx="412.0" cy="315.0" r="2.5" fill="#3838f0"/><circle cx="468.8" cy="358.6" r="1.7" fill="#d040e0"/><circle cx="405.5" cy="320.3" r="2.2" fill="#2828e0"/><circle cx="488.0" cy="286.4" r="1.9" fill="#2828e0"/><circle cx="425.0" cy="295.6" r="2.8" fill="#4038e8"/><circle cx="439.7" cy="303.4" r="2.6" fill="#e050e0"/><circle cx="444.4" cy="340.3" r="1.7" fill="#7e7e90"/><circle cx="434.6" cy="309.7" r="1.5" fill="#2828e0"/><circle cx="419.8" cy="320.0" r="1.7" fill="#7e7e90"/><circle cx="437.7" cy="283.5" r="2.3" fill="#e050e0"/><circle cx="459.5" cy="304.1" r="1.8" fill="#8a8a8a"/><circle cx="423.4" cy="335.2" r="2.1" fill="#2828e0"/><circle cx="419.2" cy="300.3" r="2.3" fill="#c038d8"/><circle cx="431.0" cy="328.9" r="2.2" fill="#2828e0"/><circle cx="437.3" cy="277.7" r="2.3" fill="#4038e8"/><circle cx="468.3" cy="312.3" r="2.5" fill="#767676"/><circle cx="498.9" cy="313.1" r="1.8" fill="#c038d8"/><circle cx="494.3" cy="293.2" r="1.4" fill="#30b0a0"/><circle cx="415.5" cy="282.6" r="2.6" fill="#3aa8b8"/><circle cx="473.2" cy="318.6" r="2.3" fill="#7c7c7c"/><circle cx="467.8" cy="298.4" r="2.5" fill="#4038e8"/><circle cx="485.2" cy="326.2" r="2.4" fill="#3434ec"/><circle cx="461.7" cy="281.5" r="2.3" fill="#b840e0"/><circle cx="484.4" cy="308.0" r="2.3" fill="#2828e0"/><circle cx="465.5" cy="337.9" r="2.5" fill="#7e7e90"/><circle cx="439.8" cy="315.3" r="2.4" fill="#8888a0"/><circle cx="413.5" cy="331.4" r="1.8" fill="#d848d8"/><circle cx="436.9" cy="300.2" r="2.2" fill="#b840e0"/><circle cx="454.7" cy="295.9" r="2.0" fill="#3838f0"/><circle cx="471.1" cy="316.3" r="1.9" fill="#7c7c7c"/><circle cx="478.8" cy="301.1" r="2.0" fill="#c038d8"/><circle cx="489.0" cy="291.7" r="2.5" fill="#d040e0"/><circle cx="470.5" cy="316.9" r="1.6" fill="#8888a0"/><circle cx="402.8" cy="330.9" r="1.3" fill="#c038d8"/><circle cx="497.6" cy="312.3" r="2.2" fill="#e050e0"/><circle cx="452.1" cy="360.6" r="1.4" fill="#c038d8"/><circle cx="485.8" cy="305.3" r="1.9" fill="#9a48e8"/><circle cx="419.7" cy="294.0" r="1.4" fill="#2c2ce4"/><circle cx="435.2" cy="285.6" r="1.8" fill="#3838f0"/><circle cx="488.2" cy="325.8" r="2.4" fill="#9a48e8"/><circle cx="409.5" cy="302.3" r="1.8" fill="#d040e0"/><circle cx="469.0" cy="288.3" r="2.1" fill="#d848d8"/><circle cx="489.9" cy="301.5" r="1.5" fill="#d848d8"/><circle cx="496.2" cy="322.2" r="1.6" fill="#4038e8"/><circle cx="456.5" cy="276.0" r="1.7" fill="#9a48e8"/><circle cx="489.3" cy="332.2" r="1.3" fill="#b840e0"/><circle cx="449.4" cy="366.8" r="1.8" fill="#14101e"/><circle cx="443.5" cy="305.5" r="1.9" fill="#8888a0"/><circle cx="494.0" cy="315.0" r="2.0" fill="#c038d8"/><circle cx="436.5" cy="278.8" r="2.1" fill="#3030e8"/><circle cx="485.5" cy="329.3" r="1.9" fill="#3838f0"/><circle cx="471.2" cy="269.4" r="1.5" fill="#d040e0"/><circle cx="434.6" cy="273.8" r="2.5" fill="#2828e0"/><circle cx="469.2" cy="321.8" r="1.6" fill="#2c2ce4"/><circle cx="420.8" cy="295.6" r="2.3" fill="#3434ec"/><circle cx="435.6" cy="300.7" r="1.4" fill="#9a48e8"/><circle cx="455.5" cy="340.4" r="1.4" fill="#4038e8"/><circle cx="415.2" cy="304.4" r="2.0" fill="#e050e0"/><circle cx="498.8" cy="318.8" r="2.6" fill="#3030e8"/><circle cx="465.8" cy="333.5" r="2.3" fill="#9a48e8"/><circle cx="430.9" cy="328.2" r="2.5" fill="#7c7c7c"/><circle cx="489.3" cy="324.3" r="2.2" fill="#d040e0"/><circle cx="417.0" cy="339.9" r="1.8" fill="#e050e0"/><circle cx="484.4" cy="291.9" r="1.8" fill="#c038d8"/><circle cx="406.7" cy="332.9" r="1.4" fill="#d848d8"/><circle cx="410.6" cy="290.5" r="2.0" fill="#d848d8"/><circle cx="432.0" cy="337.7" r="1.9" fill="#2c2ce4"/><circle cx="437.6" cy="305.1" r="1.4" fill="#3030e8"/><circle cx="479.2" cy="342.1" r="1.4" fill="#30b0a0"/><circle cx="437.5" cy="297.1" r="2.7" fill="#2828e0"/><circle cx="458.6" cy="302.8" r="2.2" fill="#3838f0"/><circle cx="459.6" cy="363.1" r="2.4" fill="#6a40e8"/><circle cx="425.3" cy="315.1" r="1.3" fill="#e050e0"/><circle cx="491.3" cy="287.7" r="1.6" fill="#3aa8b8"/><circle cx="417.3" cy="334.6" r="1.9" fill="#c038d8"/><circle cx="411.8" cy="331.3" r="2.0" fill="#d040e0"/><circle cx="421.0" cy="318.9" r="1.8" fill="#828282"/><circle cx="457.6" cy="296.7" r="2.2" fill="#8888a0"/><circle cx="417.2" cy="340.1" r="2.0" fill="#d040e0"/><circle cx="473.7" cy="285.2" r="1.9" fill="#3030e8"/><circle cx="467.4" cy="315.5" r="1.8" fill="#7e7e90"/><circle cx="451.8" cy="366.8" r="1.7" fill="#2c2ce4"/><circle cx="464.8" cy="301.5" r="1.4" fill="#7e7e90"/><circle cx="483.5" cy="334.9" r="2.7" fill="#3434ec"/><circle cx="479.7" cy="273.9" r="2.5" fill="#b840e0"/><circle cx="436.8" cy="306.8" r="2.2" fill="#8888a0"/><circle cx="440.0" cy="316.5" r="2.8" fill="#7c7c7c"/><circle cx="471.9" cy="301.4" r="1.8" fill="#9a48e8"/><circle cx="492.9" cy="284.6" r="1.7" fill="#30b0a0"/><circle cx="465.1" cy="334.1" r="1.4" fill="#7e7e90"/><circle cx="438.8" cy="331.0" r="1.5" fill="#8888a0"/><circle cx="469.0" cy="286.4" r="2.3" fill="#9a48e8"/><circle cx="420.2" cy="333.4" r="1.7" fill="#8a8a8a"/><circle cx="466.7" cy="308.1" r="2.3" fill="#3030e8"/><circle cx="423.6" cy="352.4" r="1.9" fill="#d040e0"/><circle cx="471.5" cy="335.1" r="2.7" fill="#4038e8"/><circle cx="447.4" cy="285.3" r="2.5" fill="#3434ec"/><circle cx="468.7" cy="276.7" r="2.4" fill="#2828e0"/><circle cx="480.0" cy="312.6" r="2.4" fill="#c038d8"/><circle cx="496.5" cy="305.8" r="1.7" fill="#4038e8"/><circle cx="430.4" cy="360.5" r="1.7" fill="#b840e0"/><circle cx="444.2" cy="359.4" r="1.5" fill="#2c2ce4"/><circle cx="468.9" cy="285.4" r="2.7" fill="#8040e0"/><circle cx="476.8" cy="281.0" r="2.4" fill="#d848d8"/><circle cx="489.3" cy="301.7" r="1.7" fill="#d848d8"/><circle cx="487.8" cy="320.8" r="1.8" fill="#c038d8"/><circle cx="415.0" cy="339.6" r="2.3" fill="#e050e0"/><circle cx="449.0" cy="349.0" r="2.0" fill="#4038e8"/><circle cx="466.9" cy="279.4" r="2.0" fill="#3030e8"/><circle cx="476.7" cy="345.2" r="1.5" fill="#3838f0"/><circle cx="465.8" cy="284.0" r="1.4" fill="#d040e0"/><circle cx="433.9" cy="288.6" r="2.0" fill="#2828e0"/><circle cx="467.1" cy="326.1" r="2.7" fill="#9a48e8"/><circle cx="483.8" cy="318.1" r="1.6" fill="#2828e0"/><circle cx="454.9" cy="362.1" r="1.4" fill="#b840e0"/><circle cx="475.1" cy="290.5" r="1.8" fill="#3030e8"/><circle cx="454.1" cy="287.1" r="1.4" fill="#d040e0"/><circle cx="471.3" cy="294.9" r="2.3" fill="#3434ec"/><circle cx="496.8" cy="330.2" r="2.5" fill="#b840e0"/><circle cx="429.9" cy="287.7" r="1.5" fill="#3838f0"/><circle cx="466.7" cy="345.5" r="1.6" fill="#d040e0"/><circle cx="467.0" cy="346.1" r="2.2" fill="#d848d8"/><circle cx="496.2" cy="305.7" r="1.6" fill="#2c2ce4"/><circle cx="410.3" cy="321.3" r="2.0" fill="#2c2ce4"/><circle cx="472.0" cy="326.8" r="2.4" fill="#7e7e90"/><circle cx="484.0" cy="312.1" r="2.1" fill="#2828e0"/><circle cx="464.5" cy="287.9" r="2.7" fill="#2c2ce4"/><circle cx="486.0" cy="295.7" r="1.6" fill="#3434ec"/><circle cx="442.1" cy="309.2" r="1.9" fill="#8a8a8a"/><circle cx="415.7" cy="293.7" r="2.6" fill="#14101e"/><circle cx="497.1" cy="329.1" r="2.1" fill="#c850d8"/><circle cx="487.0" cy="276.4" r="2.2" fill="#e060d0"/><circle cx="462.1" cy="337.9" r="1.5" fill="#2c2ce4"/><circle cx="479.7" cy="319.2" r="1.6" fill="#2c2ce4"/><circle cx="479.1" cy="331.3" r="1.7" fill="#c038d8"/><circle cx="406.6" cy="342.5" r="1.3" fill="#d848d8"/><circle cx="416.3" cy="285.8" r="1.8" fill="#d848d8"/><circle cx="461.4" cy="298.2" r="2.6" fill="#8a8a8a"/><circle cx="470.4" cy="341.5" r="1.5" fill="#8a8a8a"/><circle cx="489.9" cy="281.9" r="1.5" fill="#d040e0"/><circle cx="431.3" cy="281.9" r="2.0" fill="#9a48e8"/><circle cx="459.4" cy="280.8" r="1.8" fill="#b840e0"/><circle cx="440.7" cy="344.7" r="2.3" fill="#828282"/><circle cx="469.7" cy="308.8" r="2.6" fill="#3838f0"/><circle cx="457.9" cy="296.4" r="2.3" fill="#3030e8"/><circle cx="418.5" cy="338.3" r="1.6" fill="#d040e0"/><circle cx="415.8" cy="334.3" r="1.9" fill="#d040e0"/><circle cx="429.5" cy="318.8" r="2.3" fill="#828282"/><circle cx="426.2" cy="349.4" r="2.1" fill="#c038d8"/><circle cx="472.7" cy="332.1" r="1.6" fill="#2828e0"/><circle cx="472.1" cy="320.0" r="1.6" fill="#8888a0"/><circle cx="457.9" cy="333.2" r="2.5" fill="#7c7c7c"/><circle cx="430.1" cy="301.2" r="1.5" fill="#3030e8"/><circle cx="428.1" cy="344.2" r="2.0" fill="#d040e0"/><circle cx="409.9" cy="342.4" r="2.1" fill="#c038d8"/><circle cx="407.6" cy="319.9" r="2.7" fill="#2c2ce4"/><circle cx="426.5" cy="300.0" r="2.1" fill="#e050e0"/><circle cx="487.1" cy="282.3" r="1.5" fill="#9a48e8"/><circle cx="459.0" cy="328.6" r="1.6" fill="#767676"/><circle cx="453.1" cy="345.5" r="2.5" fill="#b840e0"/><circle cx="461.8" cy="356.1" r="1.7" fill="#2c2ce4"/><circle cx="437.2" cy="283.0" r="2.4" fill="#d848d8"/><circle cx="401.3" cy="323.6" r="2.4" fill="#c038d8"/><circle cx="438.6" cy="335.3" r="2.3" fill="#2828e0"/><circle cx="464.0" cy="352.3" r="1.7" fill="#d848d8"/><circle cx="448.4" cy="353.2" r="1.5" fill="#6a40e8"/><circle cx="456.2" cy="348.9" r="2.2" fill="#4038e8"/><circle cx="405.8" cy="342.1" r="1.5" fill="#c850d8"/><circle cx="408.4" cy="343.5" r="2.6" fill="#d040e0"/><circle cx="458.1" cy="345.5" r="1.4" fill="#7c7c7c"/><circle cx="418.7" cy="332.4" r="2.4" fill="#2c2ce4"/><circle cx="480.6" cy="309.0" r="1.3" fill="#2c2ce4"/><circle cx="440.0" cy="269.4" r="2.4" fill="#d848d8"/><circle cx="473.8" cy="343.6" r="2.0" fill="#3838f0"/><circle cx="423.8" cy="336.1" r="2.4" fill="#3030e8"/><circle cx="447.5" cy="371.1" r="2.1" fill="#c850d8"/><circle cx="408.6" cy="336.8" r="2.2" fill="#3030e8"/><circle cx="458.7" cy="326.9" r="1.5" fill="#828282"/><circle cx="470.1" cy="316.3" r="2.5" fill="#3030e8"/><circle cx="501.3" cy="323.1" r="2.8" fill="#30b0a0"/><circle cx="466.3" cy="292.9" r="2.7" fill="#d040e0"/><circle cx="468.3" cy="325.5" r="2.3" fill="#3838f0"/><circle cx="502.1" cy="312.0" r="2.1" fill="#3aa8b8"/><circle cx="487.7" cy="319.0" r="2.5" fill="#2c2ce4"/><circle cx="407.0" cy="325.7" r="2.7" fill="#2c2ce4"/><circle cx="461.9" cy="297.1" r="1.6" fill="#2c2ce4"/><circle cx="457.8" cy="349.9" r="1.7" fill="#828282"/><circle cx="416.4" cy="286.0" r="2.8" fill="#b840e0"/><circle cx="455.2" cy="348.9" r="1.7" fill="#8888a0"/><circle cx="471.2" cy="281.8" r="2.5" fill="#2828e0"/><circle cx="462.1" cy="321.7" r="2.3" fill="#3030e8"/><circle cx="471.1" cy="343.4" r="2.1" fill="#8040e0"/><circle cx="450.4" cy="339.8" r="1.3" fill="#9a48e8"/><circle cx="400.9" cy="325.4" r="1.4" fill="#6a40e8"/><circle cx="474.6" cy="275.3" r="2.7" fill="#2c2ce4"/><circle cx="445.5" cy="327.1" r="2.8" fill="#767676"/><circle cx="461.9" cy="287.0" r="1.9" fill="#3030e8"/><circle cx="473.9" cy="330.7" r="1.6" fill="#3838f0"/><circle cx="484.0" cy="303.4" r="2.5" fill="#3838f0"/><circle cx="412.3" cy="283.1" r="1.7" fill="#30b0a0"/><circle cx="490.2" cy="335.5" r="2.1" fill="#3aa8b8"/><circle cx="455.4" cy="284.7" r="1.4" fill="#d040e0"/><circle cx="425.9" cy="311.4" r="1.7" fill="#7e7e90"/><circle cx="425.2" cy="339.9" r="2.5" fill="#2c2ce4"/><circle cx="417.0" cy="308.8" r="1.7" fill="#b840e0"/><circle cx="470.7" cy="323.6" r="1.5" fill="#2828e0"/><circle cx="441.4" cy="270.9" r="2.1" fill="#b840e0"/><circle cx="430.9" cy="340.8" r="1.5" fill="#9a48e8"/><circle cx="414.2" cy="312.9" r="2.6" fill="#9a48e8"/><circle cx="407.6" cy="303.9" r="2.7" fill="#3434ec"/><circle cx="481.3" cy="337.5" r="2.8" fill="#c850d8"/><circle cx="470.9" cy="300.8" r="2.3" fill="#4038e8"/><circle cx="407.8" cy="297.2" r="2.3" fill="#c850d8"/><circle cx="501.7" cy="304.1" r="2.2" fill="#b840e0"/><circle cx="424.3" cy="302.2" r="1.3" fill="#c038d8"/><circle cx="423.1" cy="324.9" r="1.5" fill="#767676"/><circle cx="430.5" cy="357.1" r="1.4" fill="#2c2ce4"/><circle cx="482.0" cy="294.7" r="1.9" fill="#3030e8"/><circle cx="497.6" cy="302.3" r="2.3" fill="#e050e0"/><circle cx="471.2" cy="322.2" r="2.3" fill="#6a40e8"/><circle cx="473.2" cy="316.6" r="2.2" fill="#7c7c7c"/><circle cx="436.1" cy="333.3" r="1.7" fill="#8888a0"/><circle cx="442.0" cy="340.8" r="1.6" fill="#7c7c7c"/><circle cx="470.2" cy="324.9" r="1.9" fill="#8888a0"/><circle cx="455.4" cy="286.6" r="1.9" fill="#6a40e8"/><circle cx="427.9" cy="281.1" r="2.5" fill="#b840e0"/><circle cx="490.6" cy="285.3" r="1.7" fill="#e060d0"/><circle cx="480.2" cy="315.7" r="1.8" fill="#d848d8"/><circle cx="419.5" cy="274.8" r="2.4" fill="#c850d8"/><circle cx="424.5" cy="321.8" r="2.6" fill="#7c7c7c"/><circle cx="456.8" cy="293.7" r="2.2" fill="#828282"/><circle cx="426.7" cy="274.3" r="2.0" fill="#c038d8"/><circle cx="443.1" cy="286.7" r="1.6" fill="#3434ec"/><circle cx="449.5" cy="299.7" r="2.2" fill="#3434ec"/><circle cx="414.5" cy="319.3" r="2.2" fill="#d040e0"/><circle cx="460.3" cy="296.7" r="2.6" fill="#767676"/><circle cx="488.7" cy="319.8" r="1.8" fill="#d040e0"/><circle cx="492.0" cy="333.6" r="1.5" fill="#3aa8b8"/><circle cx="447.9" cy="365.0" r="1.8" fill="#b840e0"/><circle cx="438.8" cy="281.9" r="2.0" fill="#8a8a8a"/><circle cx="469.7" cy="326.6" r="2.8" fill="#2c2ce4"/><circle cx="416.8" cy="284.0" r="2.0" fill="#d848d8"/><circle cx="445.1" cy="279.8" r="2.3" fill="#d040e0"/><circle cx="488.4" cy="303.5" r="1.6" fill="#c038d8"/><circle cx="474.0" cy="272.8" r="2.7" fill="#2c2ce4"/><circle cx="462.0" cy="310.3" r="2.7" fill="#828282"/><circle cx="398.8" cy="320.7" r="1.3" fill="#e060d0"/><circle cx="437.8" cy="274.0" r="2.4" fill="#8040e0"/><circle cx="440.6" cy="362.2" r="1.3" fill="#d848d8"/><circle cx="407.6" cy="333.8" r="1.9" fill="#3434ec"/><circle cx="458.0" cy="329.3" r="2.7" fill="#8a8a8a"/><circle cx="475.6" cy="339.1" r="2.2" fill="#d040e0"/><circle cx="488.2" cy="279.1" r="1.5" fill="#c850d8"/><circle cx="455.8" cy="292.6" r="1.6" fill="#828282"/><circle cx="481.0" cy="280.7" r="1.3" fill="#c038d8"/><circle cx="480.7" cy="274.7" r="2.3" fill="#c850d8"/><circle cx="477.4" cy="347.9" r="1.6" fill="#30b0a0"/><circle cx="498.4" cy="317.5" r="1.4" fill="#4038e8"/><circle cx="474.2" cy="268.8" r="2.6" fill="#e060d0"/><circle cx="449.6" cy="361.7" r="2.2" fill="#e050e0"/><circle cx="407.0" cy="320.9" r="2.2" fill="#2c2ce4"/><circle cx="448.0" cy="349.6" r="1.6" fill="#3030e8"/><circle cx="482.2" cy="294.8" r="2.0" fill="#4038e8"/><circle cx="406.4" cy="317.4" r="2.4" fill="#2c2ce4"/><circle cx="423.1" cy="297.3" r="2.2" fill="#3838f0"/><circle cx="456.0" cy="343.1" r="2.4" fill="#2c2ce4"/><circle cx="428.4" cy="278.8" r="1.6" fill="#d040e0"/><circle cx="414.2" cy="291.2" r="1.8" fill="#b840e0"/><circle cx="453.2" cy="364.3" r="1.8" fill="#c038d8"/><circle cx="434.6" cy="302.2" r="2.6" fill="#3838f0"/><circle cx="469.8" cy="279.6" r="1.6" fill="#3434ec"/><circle cx="484.3" cy="333.9" r="1.5" fill="#6a40e8"/><circle cx="438.1" cy="329.7" r="1.7" fill="#8a8a8a"/><circle cx="412.8" cy="314.9" r="1.5" fill="#7c7c7c"/><circle cx="467.9" cy="341.2" r="1.9" fill="#e050e0"/><circle cx="463.4" cy="280.7" r="2.5" fill="#d040e0"/><circle cx="456.3" cy="299.6" r="2.6" fill="#8888a0"/><circle cx="490.5" cy="328.7" r="2.0" fill="#3434ec"/><circle cx="478.3" cy="275.7" r="2.3" fill="#14101e"/><circle cx="419.0" cy="312.8" r="1.6" fill="#3030e8"/><circle cx="472.2" cy="323.0" r="1.5" fill="#6a40e8"/><circle cx="438.3" cy="266.9" r="1.4" fill="#c850d8"/><circle cx="440.7" cy="329.6" r="1.5" fill="#9a48e8"/><circle cx="434.8" cy="297.0" r="1.7" fill="#8888a0"/><circle cx="463.5" cy="275.4" r="2.5" fill="#e050e0"/><circle cx="450.4" cy="339.8" r="1.8" fill="#7e7e90"/><circle cx="461.2" cy="365.9" r="1.8" fill="#d040e0"/><circle cx="473.4" cy="355.1" r="1.6" fill="#30b0a0"/><circle cx="450.7" cy="356.0" r="1.9" fill="#e050e0"/><circle cx="436.9" cy="323.7" r="1.5" fill="#8888a0"/><circle cx="443.1" cy="289.8" r="2.5" fill="#828282"/><circle cx="403.7" cy="325.3" r="1.8" fill="#d848d8"/><circle cx="453.7" cy="366.4" r="2.7" fill="#3838f0"/><circle cx="400.6" cy="333.0" r="2.0" fill="#3aa8b8"/><circle cx="489.1" cy="313.4" r="1.8" fill="#3838f0"/><circle cx="493.7" cy="308.9" r="1.6" fill="#3838f0"/><circle cx="447.9" cy="370.7" r="2.3" fill="#30b0a0"/><circle cx="449.7" cy="362.3" r="2.0" fill="#d848d8"/><circle cx="404.3" cy="305.3" r="1.5" fill="#2828e0"/><circle cx="440.0" cy="366.8" r="1.7" fill="#4038e8"/><circle cx="488.1" cy="292.0" r="1.8" fill="#c038d8"/><circle cx="443.1" cy="281.3" r="1.3" fill="#e050e0"/><circle cx="443.1" cy="338.0" r="2.2" fill="#8a8a8a"/><circle cx="455.5" cy="358.3" r="2.3" fill="#b840e0"/><circle cx="435.6" cy="331.3" r="2.4" fill="#2c2ce4"/><circle cx="436.1" cy="351.4" r="2.6" fill="#2c2ce4"/><circle cx="434.5" cy="311.0" r="2.1" fill="#2c2ce4"/><circle cx="438.9" cy="310.3" r="1.4" fill="#7e7e90"/><circle cx="491.6" cy="286.7" r="2.3" fill="#d040e0"/><circle cx="459.9" cy="331.2" r="2.7" fill="#7c7c7c"/><circle cx="480.4" cy="320.3" r="2.4" fill="#2828e0"/><circle cx="478.1" cy="308.3" r="1.6" fill="#3030e8"/><circle cx="469.3" cy="305.9" r="2.3" fill="#3030e8"/><circle cx="443.4" cy="287.1" r="1.9" fill="#3838f0"/><circle cx="410.3" cy="318.8" r="2.8" fill="#767676"/><circle cx="463.5" cy="305.0" r="1.5" fill="#7e7e90"/><circle cx="471.4" cy="287.5" r="2.5" fill="#3030e8"/><circle cx="476.3" cy="301.2" r="1.9" fill="#d040e0"/><circle cx="435.8" cy="317.3" r="1.4" fill="#8888a0"/><circle cx="443.1" cy="271.8" r="1.8" fill="#d040e0"/><circle cx="431.3" cy="320.8" r="1.3" fill="#828282"/><circle cx="431.9" cy="287.5" r="2.5" fill="#3030e8"/><circle cx="448.0" cy="283.7" r="1.5" fill="#3434ec"/><circle cx="455.9" cy="287.9" r="2.1" fill="#2828e0"/><circle cx="456.6" cy="335.0" r="2.5" fill="#7e7e90"/><circle cx="476.2" cy="271.3" r="2.1" fill="#3aa8b8"/><circle cx="491.7" cy="302.6" r="2.4" fill="#d040e0"/><circle cx="475.0" cy="271.3" r="1.9" fill="#30b0a0"/><circle cx="419.6" cy="317.0" r="2.6" fill="#828282"/><circle cx="489.0" cy="283.5" r="1.3" fill="#3aa8b8"/><circle cx="415.9" cy="333.1" r="2.2" fill="#828282"/><circle cx="428.4" cy="322.8" r="1.7" fill="#767676"/><circle cx="413.3" cy="310.6" r="2.2" fill="#c038d8"/><circle cx="468.6" cy="355.7" r="2.0" fill="#8040e0"/><circle cx="436.5" cy="320.3" r="2.4" fill="#7e7e90"/><circle cx="454.6" cy="298.9" r="1.8" fill="#828282"/><circle cx="470.4" cy="349.0" r="1.4" fill="#2c2ce4"/><circle cx="413.5" cy="319.9" r="2.4" fill="#828282"/><circle cx="460.3" cy="358.6" r="1.3" fill="#3838f0"/><circle cx="455.5" cy="307.1" r="1.5" fill="#767676"/><circle cx="428.0" cy="287.8" r="2.0" fill="#c038d8"/><circle cx="447.4" cy="366.5" r="1.5" fill="#d848d8"/><circle cx="471.7" cy="320.3" r="2.2" fill="#9a48e8"/><circle cx="436.0" cy="358.6" r="1.8" fill="#9a48e8"/><circle cx="457.6" cy="293.8" r="2.3" fill="#2828e0"/><circle cx="449.6" cy="357.4" r="2.3" fill="#4038e8"/><circle cx="430.1" cy="281.0" r="1.4" fill="#e050e0"/><circle cx="444.4" cy="348.0" r="2.4" fill="#4038e8"/><circle cx="449.8" cy="345.2" r="1.5" fill="#3838f0"/><circle cx="483.7" cy="282.3" r="1.7" fill="#14101e"/><circle cx="440.5" cy="345.7" r="1.7" fill="#c038d8"/><circle cx="422.7" cy="352.8" r="1.6" fill="#e050e0"/><circle cx="431.2" cy="327.2" r="2.7" fill="#8888a0"/><circle cx="416.5" cy="328.2" r="2.8" fill="#767676"/><circle cx="465.6" cy="327.5" r="2.5" fill="#d040e0"/><circle cx="487.2" cy="319.4" r="1.4" fill="#8040e0"/><circle cx="416.4" cy="344.4" r="2.0" fill="#e050e0"/><circle cx="461.9" cy="296.7" r="2.7" fill="#2c2ce4"/><circle cx="465.6" cy="285.9" r="2.5" fill="#6a40e8"/><circle cx="478.4" cy="319.2" r="2.1" fill="#8a8a8a"/><circle cx="457.0" cy="296.6" r="2.4" fill="#2c2ce4"/><circle cx="480.2" cy="336.6" r="1.3" fill="#14101e"/><circle cx="439.2" cy="322.0" r="1.9" fill="#8888a0"/><circle cx="471.7" cy="334.1" r="1.4" fill="#9a48e8"/><circle cx="438.4" cy="322.1" r="2.0" fill="#767676"/><circle cx="461.9" cy="343.9" r="2.2" fill="#3434ec"/><circle cx="501.1" cy="315.2" r="1.4" fill="#3434ec"/><circle cx="474.9" cy="310.7" r="1.9" fill="#2828e0"/><circle cx="425.3" cy="342.0" r="1.3" fill="#d848d8"/><circle cx="432.1" cy="270.7" r="1.4" fill="#c038d8"/><circle cx="426.7" cy="282.8" r="1.6" fill="#6a40e8"/><circle cx="475.1" cy="319.4" r="1.9" fill="#3838f0"/><circle cx="459.0" cy="282.2" r="2.7" fill="#6a40e8"/><circle cx="444.8" cy="283.8" r="1.9" fill="#3030e8"/><circle cx="456.0" cy="360.6" r="1.6" fill="#d848d8"/><circle cx="440.7" cy="332.3" r="1.8" fill="#767676"/><circle cx="418.7" cy="296.9" r="2.4" fill="#3030e8"/><circle cx="448.9" cy="351.3" r="2.7" fill="#4038e8"/><circle cx="483.0" cy="284.3" r="2.0" fill="#2828e0"/><circle cx="497.2" cy="313.3" r="2.8" fill="#d848d8"/><circle cx="409.9" cy="297.9" r="2.6" fill="#3030e8"/><circle cx="487.8" cy="328.6" r="2.0" fill="#3030e8"/><circle cx="435.0" cy="295.9" r="2.3" fill="#3030e8"/><circle cx="468.5" cy="327.6" r="2.6" fill="#2828e0"/><circle cx="410.7" cy="332.4" r="1.4" fill="#d848d8"/><circle cx="498.4" cy="307.8" r="1.9" fill="#4038e8"/><circle cx="451.1" cy="349.2" r="1.9" fill="#4038e8"/><circle cx="437.6" cy="363.6" r="1.5" fill="#2828e0"/><circle cx="483.9" cy="291.6" r="2.4" fill="#c038d8"/><circle cx="460.9" cy="277.0" r="2.4" fill="#14101e"/><circle cx="407.3" cy="338.0" r="1.4" fill="#3030e8"/><circle cx="485.2" cy="278.6" r="1.4" fill="#3aa8b8"/><circle cx="477.7" cy="289.0" r="2.4" fill="#767676"/><circle cx="469.0" cy="279.1" r="2.1" fill="#3030e8"/><circle cx="463.0" cy="314.6" r="1.5" fill="#8888a0"/><circle cx="455.1" cy="332.9" r="2.4" fill="#7c7c7c"/><circle cx="429.4" cy="303.9" r="2.8" fill="#d040e0"/><circle cx="423.2" cy="316.2" r="1.8" fill="#2828e0"/><circle cx="452.6" cy="292.1" r="1.5" fill="#9a48e8"/><circle cx="416.2" cy="284.9" r="1.7" fill="#e050e0"/><circle cx="418.9" cy="307.2" r="1.4" fill="#3434ec"/><circle cx="425.5" cy="352.1" r="2.7" fill="#d040e0"/><circle cx="463.8" cy="344.4" r="1.6" fill="#d040e0"/><circle cx="461.9" cy="357.6" r="1.9" fill="#3838f0"/><circle cx="411.0" cy="339.3" r="2.1" fill="#3434ec"/><circle cx="465.9" cy="356.4" r="2.3" fill="#e050e0"/><circle cx="462.1" cy="359.2" r="1.5" fill="#4038e8"/><circle cx="469.9" cy="329.0" r="2.4" fill="#767676"/><circle cx="446.1" cy="340.7" r="2.7" fill="#2c2ce4"/><circle cx="436.7" cy="268.2" r="2.8" fill="#30b0a0"/><circle cx="497.0" cy="305.6" r="1.3" fill="#3838f0"/><circle cx="465.8" cy="359.6" r="2.6" fill="#e050e0"/><circle cx="441.3" cy="308.2" r="2.4" fill="#828282"/><circle cx="484.5" cy="331.5" r="2.5" fill="#c038d8"/><circle cx="471.9" cy="306.4" r="2.3" fill="#8a8a8a"/><circle cx="429.0" cy="276.9" r="2.3" fill="#c038d8"/><circle cx="398.4" cy="319.4" r="2.3" fill="#c038d8"/><circle cx="427.0" cy="287.1" r="2.5" fill="#828282"/><circle cx="442.2" cy="305.6" r="2.3" fill="#828282"/><circle cx="462.5" cy="360.3" r="2.0" fill="#3838f0"/><circle cx="481.4" cy="333.6" r="1.6" fill="#d848d8"/><circle cx="411.4" cy="327.4" r="2.1" fill="#767676"/><circle cx="468.8" cy="294.7" r="2.8" fill="#4038e8"/><circle cx="418.0" cy="316.9" r="1.4" fill="#3434ec"/><circle cx="424.6" cy="287.5" r="1.8" fill="#4038e8"/><circle cx="440.9" cy="277.3" r="2.5" fill="#e050e0"/><circle cx="462.0" cy="359.4" r="1.5" fill="#14101e"/><circle cx="431.9" cy="279.5" r="2.6" fill="#9a48e8"/><circle cx="410.1" cy="336.2" r="2.7" fill="#2c2ce4"/><circle cx="453.7" cy="362.0" r="2.7" fill="#d848d8"/><circle cx="407.7" cy="326.5" r="2.8" fill="#4038e8"/><circle cx="435.1" cy="363.8" r="1.8" fill="#3030e8"/><circle cx="450.8" cy="365.1" r="1.7" fill="#c038d8"/><circle cx="469.9" cy="289.8" r="1.5" fill="#d848d8"/><circle cx="433.3" cy="278.5" r="1.9" fill="#3434ec"/><circle cx="416.7" cy="343.8" r="1.4" fill="#b840e0"/><circle cx="457.5" cy="332.6" r="1.7" fill="#7c7c7c"/><circle cx="434.5" cy="278.2" r="2.2" fill="#3838f0"/><circle cx="490.6" cy="317.7" r="1.6" fill="#3030e8"/><circle cx="485.9" cy="324.6" r="2.1" fill="#3838f0"/><circle cx="434.7" cy="334.4" r="2.1" fill="#2828e0"/><circle cx="455.3" cy="298.7" r="2.2" fill="#3838f0"/><circle cx="445.1" cy="304.3" r="2.5" fill="#2c2ce4"/><circle cx="499.0" cy="316.7" r="2.3" fill="#14101e"/><circle cx="471.3" cy="321.1" r="1.7" fill="#8888a0"/><circle cx="400.7" cy="310.6" r="1.6" fill="#d848d8"/><circle cx="498.2" cy="311.0" r="1.4" fill="#8040e0"/><circle cx="464.9" cy="298.8" r="2.7" fill="#9a48e8"/><circle cx="423.5" cy="306.9" r="1.6" fill="#2828e0"/><circle cx="453.2" cy="355.7" r="1.7" fill="#c038d8"/><circle cx="493.6" cy="318.1" r="2.7" fill="#14101e"/><circle cx="446.8" cy="330.7" r="1.4" fill="#8a8a8a"/><circle cx="423.3" cy="290.0" r="2.4" fill="#4038e8"/><circle cx="411.6" cy="342.3" r="2.8" fill="#14101e"/><circle cx="441.3" cy="270.6" r="2.7" fill="#c038d8"/><circle cx="451.3" cy="362.9" r="2.1" fill="#14101e"/><circle cx="460.1" cy="328.6" r="2.1" fill="#8888a0"/><circle cx="413.4" cy="335.1" r="1.8" fill="#c038d8"/><circle cx="434.5" cy="314.6" r="2.7" fill="#8888a0"/><circle cx="425.0" cy="281.2" r="1.5" fill="#d848d8"/><circle cx="404.2" cy="333.2" r="1.4" fill="#d848d8"/><circle cx="445.9" cy="286.1" r="2.4" fill="#2828e0"/><circle cx="487.6" cy="318.1" r="2.4" fill="#2828e0"/><circle cx="456.0" cy="302.3" r="1.3" fill="#7e7e90"/><circle cx="491.7" cy="291.8" r="2.7" fill="#b840e0"/><circle cx="478.0" cy="301.4" r="1.7" fill="#b840e0"/><circle cx="482.7" cy="281.2" r="1.4" fill="#2c2ce4"/><circle cx="479.8" cy="273.2" r="2.4" fill="#30b0a0"/><circle cx="482.8" cy="279.5" r="1.6" fill="#2828e0"/><circle cx="472.0" cy="279.2" r="1.3" fill="#3838f0"/><circle cx="476.0" cy="346.8" r="2.2" fill="#3434ec"/><circle cx="439.4" cy="321.7" r="1.9" fill="#828282"/><circle cx="447.8" cy="371.8" r="1.3" fill="#4038e8"/><circle cx="498.1" cy="329.6" r="2.7" fill="#d040e0"/><circle cx="491.2" cy="310.1" r="1.5" fill="#b840e0"/><circle cx="484.8" cy="316.2" r="2.7" fill="#3030e8"/><circle cx="425.1" cy="335.7" r="2.5" fill="#3838f0"/><circle cx="449.4" cy="349.7" r="2.6" fill="#3838f0"/><circle cx="439.8" cy="328.5" r="1.6" fill="#7e7e90"/><circle cx="433.4" cy="291.3" r="2.7" fill="#3434ec"/><circle cx="469.5" cy="330.9" r="2.6" fill="#9a48e8"/><circle cx="416.4" cy="327.4" r="2.6" fill="#3838f0"/><circle cx="450.2" cy="299.8" r="2.3" fill="#2828e0"/><circle cx="496.6" cy="320.1" r="2.6" fill="#3838f0"/><circle cx="493.0" cy="319.6" r="2.4" fill="#c038d8"/><circle cx="410.3" cy="317.4" r="2.5" fill="#4038e8"/><circle cx="498.2" cy="305.0" r="1.9" fill="#3030e8"/><circle cx="409.9" cy="340.9" r="2.6" fill="#3030e8"/><circle cx="463.1" cy="333.4" r="2.0" fill="#2c2ce4"/><circle cx="401.2" cy="325.2" r="2.8" fill="#c038d8"/><circle cx="446.0" cy="355.2" r="1.3" fill="#3030e8"/><circle cx="469.2" cy="347.3" r="2.2" fill="#3434ec"/><circle cx="412.0" cy="337.8" r="1.5" fill="#4038e8"/><circle cx="425.7" cy="279.0" r="2.4" fill="#c038d8"/><circle cx="398.1" cy="322.8" r="2.4" fill="#b840e0"/><circle cx="472.3" cy="272.6" r="1.4" fill="#2828e0"/><circle cx="479.1" cy="297.8" r="2.3" fill="#d040e0"/><circle cx="468.4" cy="294.9" r="2.1" fill="#2828e0"/><circle cx="467.6" cy="300.5" r="2.0" fill="#8a8a8a"/><circle cx="481.8" cy="325.6" r="2.5" fill="#3030e8"/><circle cx="414.1" cy="320.9" r="2.7" fill="#828282"/><circle cx="401.8" cy="311.9" r="1.4" fill="#d040e0"/><circle cx="435.7" cy="309.4" r="2.8" fill="#767676"/><circle cx="400.2" cy="304.8" r="1.9" fill="#c038d8"/><circle cx="484.5" cy="299.6" r="2.0" fill="#767676"/><circle cx="500.5" cy="305.3" r="2.4" fill="#b840e0"/><circle cx="488.5" cy="278.2" r="1.8" fill="#3aa8b8"/><circle cx="406.2" cy="320.6" r="2.0" fill="#3434ec"/><circle cx="478.4" cy="286.1" r="1.5" fill="#2828e0"/><circle cx="463.4" cy="315.1" r="1.4" fill="#767676"/><circle cx="429.3" cy="284.3" r="1.8" fill="#2c2ce4"/><circle cx="451.9" cy="276.5" r="1.4" fill="#e060d0"/><circle cx="496.4" cy="317.4" r="2.2" fill="#4038e8"/><circle cx="412.4" cy="283.4" r="2.6" fill="#3aa8b8"/><circle cx="483.7" cy="309.6" r="2.6" fill="#2828e0"/><circle cx="420.4" cy="349.0" r="1.7" fill="#3838f0"/><circle cx="459.2" cy="300.4" r="2.6" fill="#4038e8"/><circle cx="486.7" cy="283.1" r="1.4" fill="#2828e0"/><circle cx="442.5" cy="283.3" r="2.1" fill="#2c2ce4"/><circle cx="436.0" cy="328.0" r="2.8" fill="#767676"/><circle cx="429.0" cy="358.5" r="2.4" fill="#30b0a0"/><circle cx="466.5" cy="345.8" r="1.7" fill="#d848d8"/><circle cx="468.4" cy="344.8" r="1.9" fill="#d848d8"/><circle cx="445.4" cy="349.3" r="2.2" fill="#3030e8"/><circle cx="429.0" cy="320.5" r="2.2" fill="#767676"/><circle cx="471.0" cy="289.8" r="2.8" fill="#d848d8"/><circle cx="486.5" cy="290.0" r="1.5" fill="#c038d8"/><circle cx="465.1" cy="359.3" r="1.6" fill="#3aa8b8"/><circle cx="488.8" cy="303.9" r="2.3" fill="#d040e0"/><circle cx="434.2" cy="335.6" r="2.2" fill="#828282"/><circle cx="441.1" cy="288.7" r="2.0" fill="#6a40e8"/><circle cx="460.9" cy="333.8" r="2.6" fill="#3434ec"/><circle cx="419.8" cy="312.1" r="2.7" fill="#9a48e8"/><circle cx="463.7" cy="304.4" r="2.1" fill="#2828e0"/><circle cx="425.7" cy="328.9" r="2.7" fill="#7c7c7c"/><circle cx="435.2" cy="304.5" r="2.6" fill="#8a8a8a"/><circle cx="461.5" cy="330.0" r="1.8" fill="#3030e8"/><circle cx="483.3" cy="312.3" r="1.8" fill="#9a48e8"/><circle cx="429.8" cy="360.2" r="2.6" fill="#d848d8"/><circle cx="484.5" cy="278.7" r="2.2" fill="#3434ec"/><circle cx="465.3" cy="306.9" r="2.1" fill="#767676"/><circle cx="459.0" cy="297.8" r="2.7" fill="#3434ec"/><circle cx="460.6" cy="288.5" r="2.2" fill="#3434ec"/><circle cx="408.6" cy="340.1" r="2.0" fill="#c850d8"/><circle cx="440.8" cy="311.0" r="1.9" fill="#8888a0"/><circle cx="420.9" cy="345.8" r="2.1" fill="#4038e8"/><circle cx="417.8" cy="329.6" r="2.2" fill="#8a8a8a"/><circle cx="477.1" cy="323.0" r="1.8" fill="#828282"/><circle cx="454.7" cy="295.1" r="2.7" fill="#2c2ce4"/><circle cx="446.3" cy="303.4" r="1.6" fill="#767676"/><circle cx="436.9" cy="311.1" r="1.8" fill="#7e7e90"/><circle cx="449.3" cy="280.7" r="2.6" fill="#14101e"/><circle cx="426.2" cy="334.2" r="1.3" fill="#8888a0"/><circle cx="448.1" cy="328.5" r="2.0" fill="#767676"/><circle cx="498.9" cy="301.8" r="1.9" fill="#e060d0"/><circle cx="466.6" cy="313.3" r="2.3" fill="#d848d8"/><circle cx="432.1" cy="335.4" r="1.5" fill="#828282"/><circle cx="465.2" cy="270.4" r="2.2" fill="#c850d8"/><circle cx="405.9" cy="305.1" r="1.6" fill="#4038e8"/><circle cx="464.7" cy="308.6" r="2.5" fill="#8888a0"/><circle cx="489.6" cy="330.8" r="1.4" fill="#3434ec"/><circle cx="433.2" cy="331.7" r="2.8" fill="#4038e8"/><circle cx="431.4" cy="343.4" r="2.0" fill="#e050e0"/><circle cx="456.2" cy="273.9" r="2.3" fill="#c850d8"/><circle cx="402.8" cy="325.7" r="1.6" fill="#6a40e8"/><circle cx="415.7" cy="329.6" r="2.0" fill="#3838f0"/><circle cx="409.5" cy="339.1" r="1.7" fill="#2c2ce4"/><circle cx="435.4" cy="312.5" r="1.8" fill="#7c7c7c"/><circle cx="436.6" cy="360.0" r="2.7" fill="#8040e0"/><circle cx="406.8" cy="303.9" r="1.8" fill="#4038e8"/><circle cx="421.5" cy="303.7" r="1.7" fill="#2c2ce4"/><circle cx="403.0" cy="332.9" r="1.9" fill="#3aa8b8"/><circle cx="462.0" cy="275.8" r="2.5" fill="#3434ec"/><circle cx="492.7" cy="332.9" r="2.5" fill="#d848d8"/><circle cx="453.8" cy="302.6" r="2.5" fill="#767676"/><circle cx="484.2" cy="304.8" r="1.5" fill="#2c2ce4"/><circle cx="418.9" cy="276.4" r="1.4" fill="#e060d0"/><circle cx="442.1" cy="346.1" r="1.7" fill="#8040e0"/><circle cx="431.2" cy="314.3" r="2.2" fill="#3838f0"/><circle cx="441.5" cy="316.6" r="1.4" fill="#767676"/><circle cx="477.8" cy="327.7" r="1.8" fill="#3030e8"/><circle cx="494.4" cy="293.3" r="1.7" fill="#30b0a0"/><circle cx="444.5" cy="346.6" r="1.4" fill="#3030e8"/><circle cx="468.2" cy="324.1" r="1.9" fill="#2c2ce4"/><circle cx="424.9" cy="271.3" r="1.5" fill="#3aa8b8"/><circle cx="452.6" cy="298.7" r="1.8" fill="#9a48e8"/><circle cx="486.9" cy="333.4" r="1.9" fill="#b840e0"/><circle cx="460.6" cy="293.0" r="1.8" fill="#8a8a8a"/><circle cx="488.4" cy="301.2" r="1.5" fill="#d848d8"/><circle cx="429.5" cy="332.3" r="1.4" fill="#7c7c7c"/><circle cx="465.4" cy="350.6" r="1.7" fill="#c038d8"/><circle cx="421.1" cy="345.0" r="2.3" fill="#3434ec"/><circle cx="485.0" cy="286.7" r="1.7" fill="#2828e0"/><circle cx="462.1" cy="327.8" r="2.4" fill="#4038e8"/><circle cx="456.4" cy="349.8" r="1.4" fill="#3434ec"/><circle cx="446.6" cy="279.8" r="2.5" fill="#8040e0"/><circle cx="492.8" cy="311.7" r="2.1" fill="#d848d8"/><circle cx="441.0" cy="278.0" r="2.4" fill="#b840e0"/><circle cx="443.5" cy="353.2" r="2.4" fill="#e050e0"/><circle cx="455.4" cy="341.6" r="1.8" fill="#9a48e8"/><circle cx="489.9" cy="309.2" r="1.9" fill="#d040e0"/><circle cx="417.0" cy="298.1" r="1.8" fill="#2828e0"/><circle cx="433.6" cy="315.3" r="2.7" fill="#7c7c7c"/><circle cx="452.2" cy="339.9" r="1.3" fill="#b840e0"/><circle cx="435.4" cy="328.3" r="1.7" fill="#7c7c7c"/><circle cx="470.9" cy="314.4" r="2.7" fill="#3030e8"/><circle cx="430.8" cy="284.0" r="2.4" fill="#3838f0"/><circle cx="449.4" cy="367.1" r="2.6" fill="#3030e8"/><circle cx="468.6" cy="275.7" r="2.1" fill="#14101e"/><circle cx="456.4" cy="338.5" r="2.0" fill="#3434ec"/><circle cx="414.4" cy="283.0" r="2.2" fill="#e050e0"/><circle cx="499.0" cy="310.7" r="2.1" fill="#8040e0"/><circle cx="497.0" cy="292.9" r="2.4" fill="#3aa8b8"/><circle cx="457.9" cy="291.6" r="2.5" fill="#3030e8"/><circle cx="490.3" cy="312.4" r="2.2" fill="#c038d8"/><circle cx="489.1" cy="294.4" r="1.4" fill="#c038d8"/><circle cx="475.7" cy="320.5" r="2.0" fill="#c038d8"/><circle cx="407.4" cy="300.2" r="2.4" fill="#c038d8"/><circle cx="422.2" cy="352.1" r="1.9" fill="#c038d8"/><circle cx="428.4" cy="274.3" r="2.5" fill="#c038d8"/><circle cx="461.3" cy="272.0" r="1.7" fill="#8040e0"/><circle cx="421.8" cy="307.0" r="2.2" fill="#4038e8"/><circle cx="475.8" cy="270.9" r="1.4" fill="#d848d8"/><circle cx="454.9" cy="279.3" r="2.0" fill="#d848d8"/><circle cx="442.8" cy="324.0" r="1.8" fill="#8888a0"/><circle cx="403.1" cy="318.0" r="1.4" fill="#14101e"/><circle cx="427.8" cy="335.9" r="2.0" fill="#3434ec"/><circle cx="445.7" cy="354.4" r="1.7" fill="#2c2ce4"/><circle cx="405.7" cy="308.0" r="2.3" fill="#3030e8"/><circle cx="471.3" cy="315.0" r="1.5" fill="#828282"/><circle cx="444.3" cy="287.8" r="2.1" fill="#3030e8"/><circle cx="490.1" cy="292.1" r="1.8" fill="#c038d8"/><circle cx="458.6" cy="328.4" r="1.3" fill="#3030e8"/><circle cx="470.4" cy="313.1" r="2.4" fill="#828282"/><circle cx="498.6" cy="328.3" r="2.4" fill="#3aa8b8"/><circle cx="438.9" cy="293.9" r="2.0" fill="#3838f0"/><circle cx="417.1" cy="311.9" r="2.5" fill="#8040e0"/><circle cx="438.1" cy="308.2" r="2.7" fill="#767676"/><circle cx="458.5" cy="335.6" r="1.9" fill="#2828e0"/><circle cx="444.2" cy="291.7" r="2.0" fill="#c038d8"/><circle cx="462.2" cy="352.1" r="1.9" fill="#c038d8"/><circle cx="438.6" cy="304.0" r="2.0" fill="#8040e0"/><circle cx="471.5" cy="311.8" r="1.6" fill="#3434ec"/><circle cx="432.6" cy="313.5" r="2.6" fill="#7e7e90"/><circle cx="431.9" cy="305.1" r="2.3" fill="#767676"/><circle cx="470.5" cy="295.2" r="2.6" fill="#3838f0"/><circle cx="437.0" cy="270.4" r="2.2" fill="#b840e0"/><circle cx="488.2" cy="281.8" r="2.4" fill="#14101e"/><circle cx="448.9" cy="357.3" r="2.1" fill="#2828e0"/><circle cx="476.9" cy="277.0" r="2.4" fill="#b840e0"/><circle cx="469.0" cy="281.6" r="2.5" fill="#8888a0"/><circle cx="423.1" cy="340.4" r="1.9" fill="#7c7c7c"/><circle cx="462.3" cy="313.6" r="2.7" fill="#9a48e8"/><circle cx="436.0" cy="297.8" r="2.3" fill="#8888a0"/><circle cx="456.0" cy="277.1" r="1.9" fill="#9a48e8"/><circle cx="429.4" cy="312.4" r="2.0" fill="#9a48e8"/><circle cx="425.8" cy="288.1" r="1.5" fill="#e050e0"/><circle cx="485.3" cy="308.9" r="1.5" fill="#3030e8"/><circle cx="417.2" cy="282.8" r="1.4" fill="#b840e0"/><circle cx="397.0" cy="320.9" r="2.5" fill="#d040e0"/><circle cx="431.4" cy="360.8" r="2.7" fill="#e050e0"/><circle cx="470.0" cy="275.2" r="1.5" fill="#3030e8"/><circle cx="467.5" cy="298.8" r="2.5" fill="#7e7e90"/><circle cx="416.3" cy="330.6" r="2.2" fill="#3838f0"/><circle cx="419.6" cy="336.9" r="1.5" fill="#4038e8"/><circle cx="439.9" cy="358.8" r="1.6" fill="#d848d8"/><circle cx="444.8" cy="339.9" r="2.3" fill="#3030e8"/><circle cx="445.3" cy="300.1" r="2.0" fill="#7e7e90"/><circle cx="448.2" cy="349.1" r="2.1" fill="#3838f0"/><circle cx="438.1" cy="340.7" r="1.5" fill="#e050e0"/><circle cx="411.1" cy="338.4" r="1.6" fill="#3434ec"/><circle cx="423.2" cy="313.0" r="1.8" fill="#d848d8"/><circle cx="408.6" cy="328.4" r="1.7" fill="#8040e0"/><circle cx="429.7" cy="301.8" r="2.4" fill="#2c2ce4"/><circle cx="494.4" cy="316.6" r="2.4" fill="#6a40e8"/><circle cx="444.1" cy="368.9" r="2.7" fill="#2828e0"/><circle cx="442.6" cy="370.2" r="2.7" fill="#c850d8"/><circle cx="432.5" cy="292.5" r="2.6" fill="#8040e0"/><circle cx="447.5" cy="293.2" r="1.7" fill="#828282"/><circle cx="418.1" cy="302.4" r="2.2" fill="#b840e0"/><circle cx="475.9" cy="276.1" r="1.6" fill="#3838f0"/><circle cx="420.4" cy="322.8" r="1.6" fill="#7c7c7c"/><circle cx="411.1" cy="312.3" r="1.4" fill="#e050e0"/><circle cx="493.2" cy="328.3" r="2.6" fill="#2828e0"/><circle cx="448.8" cy="304.1" r="2.2" fill="#828282"/><circle cx="442.9" cy="275.2" r="2.5" fill="#c038d8"/><circle cx="465.6" cy="348.6" r="2.8" fill="#3838f0"/><circle cx="458.3" cy="305.7" r="2.2" fill="#2c2ce4"/><circle cx="476.4" cy="320.7" r="2.3" fill="#d848d8"/><circle cx="481.0" cy="315.9" r="2.4" fill="#6a40e8"/><circle cx="430.0" cy="288.9" r="2.4" fill="#d848d8"/><circle cx="480.4" cy="309.5" r="2.5" fill="#6a40e8"/><circle cx="399.9" cy="306.5" r="1.8" fill="#b840e0"/><circle cx="431.5" cy="328.2" r="1.7" fill="#3838f0"/><circle cx="418.9" cy="275.5" r="2.2" fill="#3aa8b8"/><circle cx="426.8" cy="351.4" r="2.5" fill="#e050e0"/><circle cx="491.3" cy="300.1" r="2.4" fill="#e050e0"/><circle cx="454.5" cy="302.6" r="1.7" fill="#7e7e90"/><circle cx="452.8" cy="344.8" r="1.8" fill="#d040e0"/><circle cx="485.8" cy="320.1" r="1.7" fill="#4038e8"/><circle cx="428.4" cy="322.5" r="1.4" fill="#828282"/><circle cx="460.9" cy="324.1" r="1.4" fill="#7e7e90"/><circle cx="485.6" cy="305.4" r="1.7" fill="#9a48e8"/><circle cx="466.2" cy="320.7" r="1.8" fill="#7c7c7c"/>
</g>
<g filter="url(#tumg)"><polygon points="465.5,318.5 464.5,322.9 461.7,326.6 457.5,329.1 452.5,330.0 447.5,329.1 443.3,326.6 440.5,322.9 439.5,318.5 440.5,314.1 443.3,310.4 447.5,307.9 452.5,307.0 457.5,307.9 461.7,310.4 464.5,314.1" fill="#828282"/></g>
<g filter="url(#corefx)"><polygon points="461.7,317.7 466.3,320.9 464.1,323.6 457.5,321.9 455.9,325.1 451.9,326.0 450.4,322.1 443.5,323.9 441.6,320.9 446.0,317.7 442.0,314.6 444.0,311.8 450.5,313.5 451.9,309.2 456.0,309.9 458.3,312.4 462.3,312.8 466.9,314.4" fill="#050505"/></g>
<rect x="480.8" y="340.5" width="38.20" height="40.80" fill="#141414"/>
<rect x="480.8" y="340.5" width="38.20" height="40.80" fill="#fff" filter="url(#speckB)"/>
<polyline points="480.8,381.3 480.8,340.5 519,340.5" fill="none" stroke="#d8d8d8" stroke-width="1"/>
<circle cx="502.3" cy="361.3" r="12.2" fill="#050505" stroke="#2cd444" stroke-width="1.4"/>
<circle cx="502.3" cy="361.3" r="13.4" fill="none" stroke="#0c4a16" stroke-width="1.2" opacity="0.85"/>
<circle cx="488" cy="347" r="5.6" fill="#fff"/>
<text x="488.00" y="350.00" font-size="8.4" font-weight="bold" fill="#222" text-anchor="middle" >S</text>
<circle cx="401.8" cy="266.7" r="8.2" fill="#000"/>
<text x="401.80" y="270.70" font-size="11.5" font-weight="bold" fill="#fff" text-anchor="middle" >5</text>
<text x="509.20" y="269.60" font-size="12" font-weight="bold" fill="#fff" text-anchor="start" >D</text>
</g>
</svg></body></html>
